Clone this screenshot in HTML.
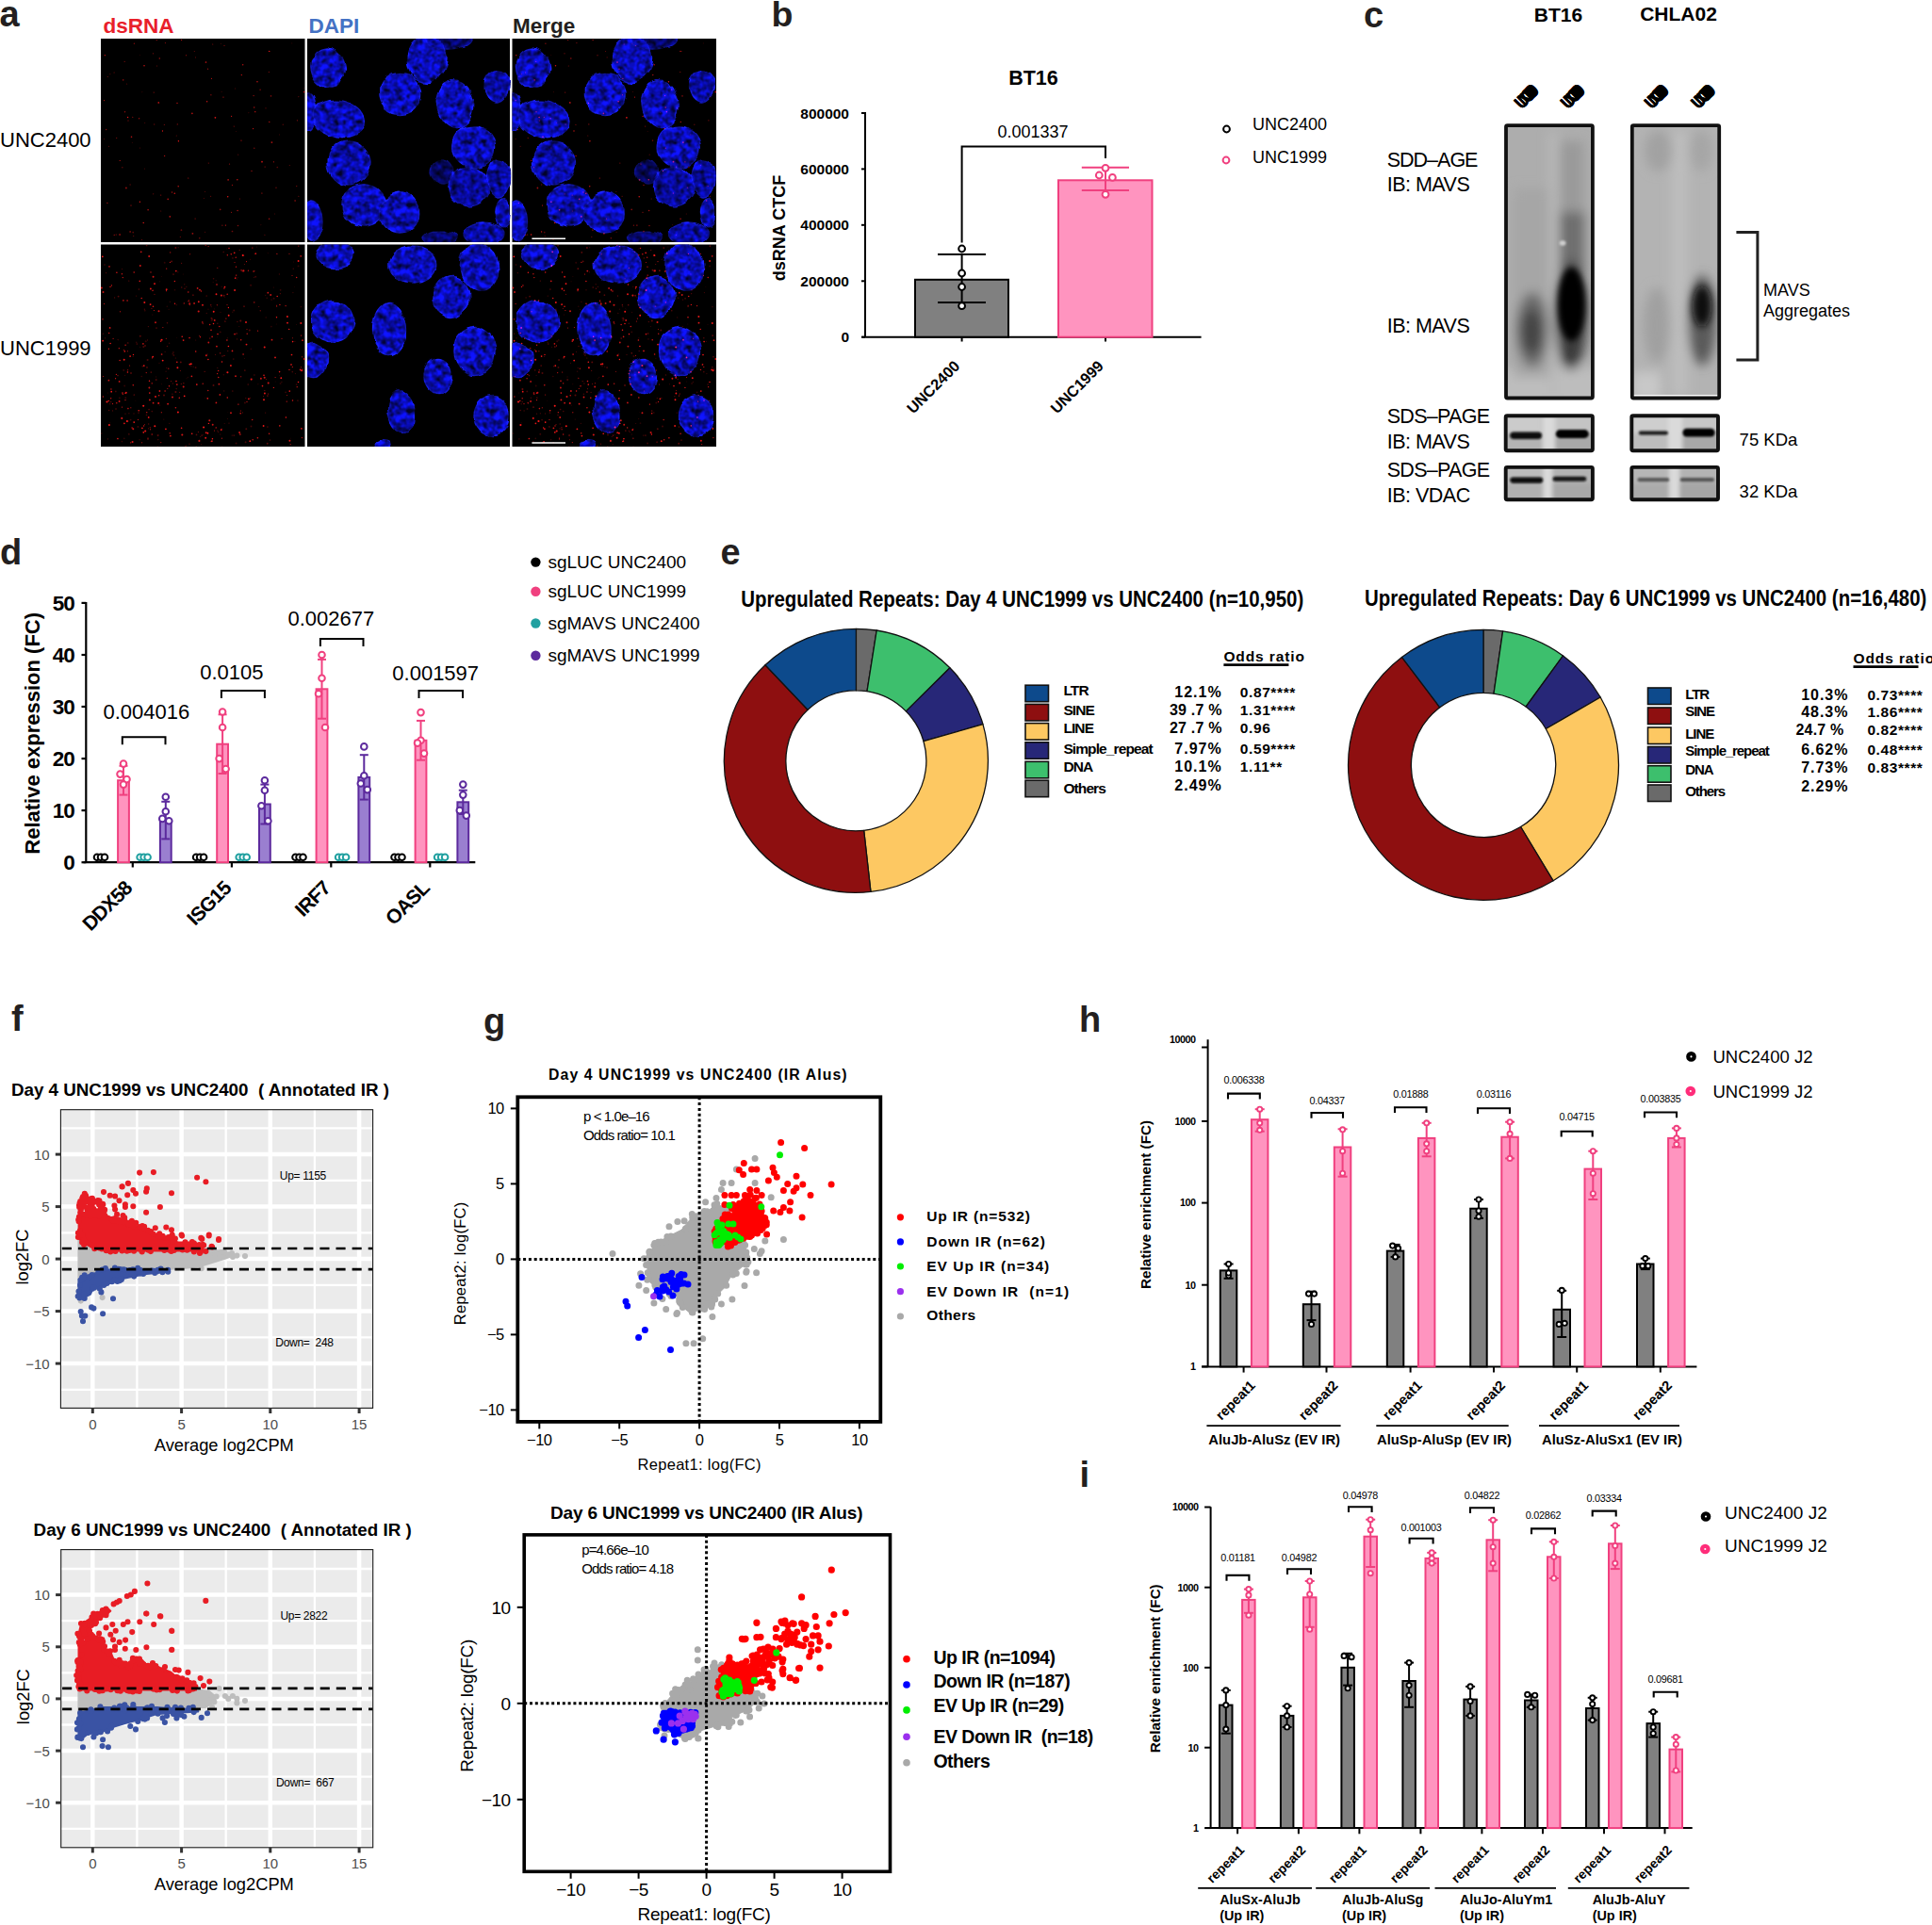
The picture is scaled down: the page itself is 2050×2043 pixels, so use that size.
<!DOCTYPE html><html><head><meta charset="utf-8"><title>Figure</title><style>html,body{margin:0;padding:0;background:#fff;width:2050px;height:2043px;overflow:hidden}svg{display:block}</style></head><body><svg width="2050" height="2043" viewBox="0 0 2050 2043" font-family="'Liberation Sans', Arial, sans-serif"><defs><radialGradient id="nucg" cx="0.5" cy="0.5" r="0.5"><stop offset="0" stop-color="#1c2af0"/><stop offset="0.8" stop-color="#1722d8"/><stop offset="1" stop-color="#1420c0"/></radialGradient><filter id="mottle" x="-5%" y="-5%" width="110%" height="110%" color-interpolation-filters="sRGB"><feTurbulence type="fractalNoise" baseFrequency="0.045" numOctaves="2" seed="7" result="warp"/><feDisplacementMap in="SourceGraphic" in2="warp" scale="9" xChannelSelector="R" yChannelSelector="G" result="shape"/><feTurbulence type="fractalNoise" baseFrequency="0.15" numOctaves="2" seed="4" result="nz"/><feColorMatrix in="nz" type="matrix" values="0.83 0.83 0.83 0 -0.75  0.83 0.83 0.83 0 -0.75  0.83 0.83 0.83 0 -0.75  0 0 0 0 1" result="g"/><feComposite in="shape" in2="g" operator="arithmetic" k1="1.15" k2="0.2" k3="0" k4="0"/><feGaussianBlur stdDeviation="0.7"/></filter><clipPath id="clipA0"><rect x="0" y="0" width="216.5" height="216"/></clipPath><clipPath id="clipA1"><rect x="0" y="0" width="216.5" height="214.5"/></clipPath><filter id="bl1" x="-60%" y="-60%" width="220%" height="220%"><feGaussianBlur stdDeviation="1"/></filter><filter id="bl2" x="-60%" y="-60%" width="220%" height="220%"><feGaussianBlur stdDeviation="2"/></filter><filter id="bl3" x="-60%" y="-60%" width="220%" height="220%"><feGaussianBlur stdDeviation="3"/></filter><filter id="bl4" x="-60%" y="-60%" width="220%" height="220%"><feGaussianBlur stdDeviation="4"/></filter><filter id="bl6" x="-60%" y="-60%" width="220%" height="220%"><feGaussianBlur stdDeviation="6"/></filter><filter id="bl8" x="-60%" y="-60%" width="220%" height="220%"><feGaussianBlur stdDeviation="8"/></filter><filter id="bl07" x="-60%" y="-60%" width="220%" height="220%"><feGaussianBlur stdDeviation="0.7"/></filter><clipPath id="clipB1"><rect x="1598" y="133" width="92" height="289"/></clipPath><clipPath id="clipB2"><rect x="1731.5" y="133" width="93" height="289"/></clipPath><clipPath id="clipM1"><rect x="1597.5" y="441" width="92.5" height="37.5"/></clipPath><clipPath id="clipM2"><rect x="1731" y="441" width="92" height="37.5"/></clipPath><clipPath id="clipV1"><rect x="1597.5" y="495.5" width="92.5" height="35"/></clipPath><clipPath id="clipV2"><rect x="1731" y="495.5" width="92" height="35"/></clipPath></defs><rect width="2050" height="2043" fill="#fff"/><text x="-0.5" y="28.0" font-size="38.0" font-weight="bold" fill="#231f20">a</text><text x="109.5" y="35.3" font-size="22.5" font-weight="bold" fill="#e8202a">dsRNA</text><text x="327.5" y="35.3" font-size="22.5" font-weight="bold" fill="#4472c4">DAPI</text><text x="544.0" y="35.3" font-size="22.5" font-weight="bold" fill="#231f20">Merge</text><text x="0.0" y="155.7" font-size="22.0" fill="#000">UNC2400</text><text x="0.0" y="377.0" font-size="22.0" fill="#000">UNC1999</text><rect x="107.0" y="41.0" width="216.5" height="216.0" fill="#000"/><g transform="translate(107.0,41.0)" clip-path="url(#clipA0)"><g fill="#ff1a1a"><circle cx="110.6" cy="205.3" r="0.54" fill-opacity="0.40"/><circle cx="31.1" cy="204.9" r="0.68" fill-opacity="0.85"/><circle cx="67.4" cy="91.4" r="0.68" fill-opacity="0.39"/><circle cx="178.8" cy="88.4" r="0.65" fill-opacity="0.75"/><circle cx="118.7" cy="6.0" r="0.61" fill-opacity="0.49"/><circle cx="162.8" cy="116.2" r="0.69" fill-opacity="0.52"/><circle cx="71.2" cy="170.3" r="0.88" fill-opacity="0.63"/><circle cx="65.5" cy="98.0" r="0.63" fill-opacity="0.86"/><circle cx="29.0" cy="87.1" r="0.82" fill-opacity="0.30"/><circle cx="43.9" cy="56.7" r="0.43" fill-opacity="0.40"/><circle cx="162.1" cy="60.6" r="0.59" fill-opacity="0.73"/><circle cx="104.8" cy="211.8" r="0.68" fill-opacity="0.54"/><circle cx="207.7" cy="156.6" r="0.71" fill-opacity="0.47"/><circle cx="116.9" cy="59.8" r="0.53" fill-opacity="0.88"/><circle cx="34.7" cy="209.5" r="0.60" fill-opacity="0.46"/><circle cx="111.5" cy="25.0" r="0.87" fill-opacity="0.73"/><circle cx="134.7" cy="167.8" r="0.72" fill-opacity="0.88"/><circle cx="132.4" cy="198.1" r="0.69" fill-opacity="0.76"/><circle cx="8.6" cy="114.2" r="0.43" fill-opacity="0.73"/><circle cx="99.2" cy="13.5" r="0.43" fill-opacity="0.73"/><circle cx="138.5" cy="184.2" r="0.51" fill-opacity="0.78"/><circle cx="128.1" cy="56.2" r="0.47" fill-opacity="0.46"/><circle cx="181.4" cy="110.1" r="0.89" fill-opacity="0.68"/><circle cx="110.4" cy="162.7" r="0.40" fill-opacity="0.78"/><circle cx="32.0" cy="177.0" r="0.58" fill-opacity="0.83"/><circle cx="147.6" cy="170.0" r="0.43" fill-opacity="0.84"/><circle cx="41.4" cy="173.3" r="0.72" fill-opacity="0.84"/><circle cx="41.3" cy="17.6" r="0.42" fill-opacity="0.36"/><circle cx="184.7" cy="186.0" r="0.43" fill-opacity="0.53"/><circle cx="189.3" cy="101.9" r="0.44" fill-opacity="0.57"/><circle cx="59.2" cy="1.5" r="0.54" fill-opacity="0.84"/><circle cx="139.5" cy="155.5" r="0.69" fill-opacity="0.55"/><circle cx="180.5" cy="60.9" r="0.80" fill-opacity="0.46"/><circle cx="46.5" cy="138.1" r="0.53" fill-opacity="0.31"/><circle cx="173.9" cy="208.2" r="0.54" fill-opacity="0.47"/><circle cx="32.5" cy="104.2" r="0.81" fill-opacity="0.77"/><circle cx="193.3" cy="91.3" r="0.77" fill-opacity="0.31"/><circle cx="127.3" cy="5.3" r="0.46" fill-opacity="0.40"/><circle cx="145.5" cy="198.5" r="0.80" fill-opacity="0.49"/><circle cx="178.6" cy="191.3" r="0.82" fill-opacity="0.62"/><circle cx="142.6" cy="53.0" r="0.49" fill-opacity="0.52"/><circle cx="166.0" cy="45.7" r="0.71" fill-opacity="0.83"/><circle cx="179.6" cy="13.5" r="0.50" fill-opacity="0.42"/><circle cx="178.3" cy="35.5" r="0.52" fill-opacity="0.64"/><circle cx="81.0" cy="68.4" r="0.65" fill-opacity="0.77"/><circle cx="149.3" cy="38.6" r="0.66" fill-opacity="0.86"/><circle cx="85.6" cy="1.3" r="0.64" fill-opacity="0.82"/><circle cx="56.7" cy="91.0" r="0.67" fill-opacity="0.38"/><circle cx="22.9" cy="136.8" r="0.51" fill-opacity="0.78"/><circle cx="82.2" cy="156.7" r="0.79" fill-opacity="0.71"/><circle cx="141.2" cy="93.1" r="0.54" fill-opacity="0.55"/><circle cx="187.3" cy="136.5" r="0.86" fill-opacity="0.32"/><circle cx="175.0" cy="73.8" r="0.66" fill-opacity="0.40"/><circle cx="117.4" cy="42.4" r="0.55" fill-opacity="0.75"/><circle cx="215.2" cy="52.5" r="0.49" fill-opacity="0.35"/><circle cx="55.5" cy="15.8" r="0.64" fill-opacity="0.49"/><circle cx="55.7" cy="164.8" r="0.59" fill-opacity="0.45"/><circle cx="150.7" cy="27.8" r="0.71" fill-opacity="0.75"/><circle cx="81.3" cy="90.9" r="0.65" fill-opacity="0.52"/><circle cx="143.6" cy="98.5" r="0.42" fill-opacity="0.35"/><circle cx="126.7" cy="181.4" r="0.82" fill-opacity="0.52"/><circle cx="156.9" cy="78.8" r="0.43" fill-opacity="0.50"/><circle cx="96.9" cy="79.4" r="0.81" fill-opacity="0.73"/><circle cx="23.7" cy="43.9" r="0.81" fill-opacity="0.49"/><circle cx="61.3" cy="67.9" r="0.86" fill-opacity="0.72"/><circle cx="67.6" cy="124.6" r="0.73" fill-opacity="0.62"/><circle cx="209.9" cy="167.3" r="0.48" fill-opacity="0.83"/><circle cx="170.9" cy="164.0" r="0.62" fill-opacity="0.74"/><circle cx="128.9" cy="198.2" r="0.62" fill-opacity="0.54"/><circle cx="149.0" cy="108.1" r="0.72" fill-opacity="0.59"/><circle cx="16.7" cy="105.5" r="0.59" fill-opacity="0.58"/><circle cx="46.0" cy="28.7" r="0.74" fill-opacity="0.82"/><circle cx="109.3" cy="169.6" r="0.50" fill-opacity="0.38"/><circle cx="63.7" cy="166.1" r="0.58" fill-opacity="0.55"/><circle cx="113.5" cy="32.2" r="0.67" fill-opacity="0.62"/><circle cx="208.4" cy="86.8" r="0.61" fill-opacity="0.56"/><circle cx="63.8" cy="183.0" r="0.46" fill-opacity="0.66"/><circle cx="26.9" cy="158.5" r="0.88" fill-opacity="0.60"/><circle cx="40.6" cy="84.8" r="0.75" fill-opacity="0.55"/><circle cx="50.1" cy="181.7" r="0.82" fill-opacity="0.71"/><circle cx="84.3" cy="210.5" r="0.58" fill-opacity="0.50"/><circle cx="135.1" cy="149.8" r="0.87" fill-opacity="0.66"/><circle cx="112.6" cy="66.7" r="0.81" fill-opacity="0.74"/><circle cx="85.4" cy="203.2" r="0.89" fill-opacity="0.38"/><circle cx="43.5" cy="213.5" r="0.50" fill-opacity="0.50"/><circle cx="163.8" cy="77.7" r="0.64" fill-opacity="0.87"/><circle cx="138.6" cy="82.3" r="0.59" fill-opacity="0.88"/><circle cx="82.4" cy="108.8" r="0.71" fill-opacity="0.90"/><circle cx="3.6" cy="106.6" r="0.53" fill-opacity="0.33"/><circle cx="209.9" cy="61.7" r="0.45" fill-opacity="0.80"/><circle cx="161.6" cy="95.6" r="0.64" fill-opacity="0.86"/><circle cx="45.2" cy="195.5" r="0.72" fill-opacity="0.84"/><circle cx="3.6" cy="65.6" r="0.59" fill-opacity="0.73"/><circle cx="215.8" cy="56.6" r="0.89" fill-opacity="0.71"/><circle cx="183.4" cy="130.8" r="0.60" fill-opacity="0.73"/><circle cx="174.1" cy="136.1" r="0.55" fill-opacity="0.64"/><circle cx="78.3" cy="164.3" r="0.81" fill-opacity="0.77"/><circle cx="5.7" cy="96.5" r="0.63" fill-opacity="0.60"/><circle cx="80.3" cy="103.0" r="0.54" fill-opacity="0.44"/><circle cx="27.6" cy="48.1" r="0.54" fill-opacity="0.36"/><circle cx="121.4" cy="83.8" r="0.87" fill-opacity="0.84"/><circle cx="171.0" cy="130.7" r="0.88" fill-opacity="0.75"/><circle cx="186.0" cy="158.2" r="0.72" fill-opacity="0.41"/><circle cx="130.0" cy="62.1" r="0.54" fill-opacity="0.79"/><circle cx="169.1" cy="54.3" r="0.76" fill-opacity="0.48"/><circle cx="16.2" cy="208.0" r="0.51" fill-opacity="0.68"/><circle cx="116.6" cy="167.2" r="0.56" fill-opacity="0.51"/><circle cx="114.3" cy="132.1" r="0.67" fill-opacity="0.43"/><circle cx="7.3" cy="40.3" r="0.60" fill-opacity="0.41"/><circle cx="145.7" cy="123.2" r="0.58" fill-opacity="0.34"/><circle cx="34.2" cy="205.6" r="0.89" fill-opacity="0.34"/><circle cx="33.3" cy="110.2" r="0.49" fill-opacity="0.34"/><circle cx="31.1" cy="155.0" r="0.71" fill-opacity="0.35"/><circle cx="59.7" cy="29.0" r="0.42" fill-opacity="0.80"/><circle cx="9.9" cy="37.8" r="0.45" fill-opacity="0.61"/><circle cx="41.4" cy="116.0" r="0.50" fill-opacity="0.38"/><circle cx="97.4" cy="206.8" r="0.90" fill-opacity="0.61"/><circle cx="206.1" cy="172.1" r="0.76" fill-opacity="0.63"/><circle cx="145.1" cy="182.5" r="0.83" fill-opacity="0.60"/><circle cx="202.8" cy="4.9" r="0.42" fill-opacity="0.42"/><circle cx="25.5" cy="77.8" r="0.74" fill-opacity="0.56"/><circle cx="20.2" cy="129.5" r="0.62" fill-opacity="0.82"/><circle cx="56.2" cy="57.1" r="0.61" fill-opacity="0.53"/><circle cx="62.3" cy="21.1" r="0.75" fill-opacity="0.60"/><circle cx="160.0" cy="140.5" r="0.55" fill-opacity="0.86"/><circle cx="131.0" cy="7.4" r="0.66" fill-opacity="0.44"/><circle cx="92.8" cy="148.0" r="0.53" fill-opacity="0.74"/><circle cx="33.8" cy="83.3" r="0.60" fill-opacity="0.59"/><circle cx="4.3" cy="17.7" r="0.67" fill-opacity="0.77"/><circle cx="46.8" cy="89.6" r="0.48" fill-opacity="0.52"/><circle cx="100.1" cy="191.1" r="0.54" fill-opacity="0.63"/><circle cx="68.4" cy="4.6" r="0.61" fill-opacity="0.52"/><circle cx="178.5" cy="13.4" r="0.64" fill-opacity="0.82"/><circle cx="20.1" cy="208.0" r="0.80" fill-opacity="0.85"/><circle cx="162.7" cy="73.0" r="0.72" fill-opacity="0.68"/><circle cx="28.6" cy="83.5" r="0.68" fill-opacity="0.89"/><circle cx="73.3" cy="188.9" r="0.83" fill-opacity="0.74"/><circle cx="90.5" cy="17.7" r="0.50" fill-opacity="0.80"/><circle cx="200.2" cy="134.4" r="0.45" fill-opacity="0.84"/><circle cx="25.2" cy="24.4" r="0.60" fill-opacity="0.46"/><circle cx="100.6" cy="19.9" r="0.47" fill-opacity="0.89"/><circle cx="136.5" cy="133.1" r="0.68" fill-opacity="0.53"/><circle cx="6.9" cy="174.4" r="0.69" fill-opacity="0.60"/><circle cx="169.9" cy="197.7" r="0.47" fill-opacity="0.41"/><circle cx="144.8" cy="149.7" r="0.76" fill-opacity="0.79"/><circle cx="35.4" cy="5.2" r="0.68" fill-opacity="0.50"/><circle cx="14.2" cy="208.3" r="0.61" fill-opacity="0.71"/><circle cx="139.5" cy="204.5" r="0.86" fill-opacity="0.43"/><circle cx="75.5" cy="163.1" r="0.83" fill-opacity="0.51"/><circle cx="14.1" cy="35.9" r="0.51" fill-opacity="0.53"/></g></g><rect x="326.0" y="41.0" width="215.0" height="216.0" fill="#000"/><g transform="translate(326.0,41.0)" clip-path="url(#clipA0)"><g filter="url(#mottle)"><ellipse cx="22.0" cy="30.6" rx="17.0" ry="20.5" transform="rotate(-10 22.0 30.6)" fill="#0c10e6" stroke="#1a22ff" stroke-width="1.4" opacity="1.00"/><ellipse cx="127.0" cy="21.5" rx="21.0" ry="24.0" transform="rotate(0 127.0 21.5)" fill="#0c10e6" stroke="#1a22ff" stroke-width="1.4" opacity="1.00"/><ellipse cx="150.0" cy="2.0" rx="25.0" ry="10.0" transform="rotate(0 150.0 2.0)" fill="#0c10e6" stroke="#1a22ff" stroke-width="1.4" opacity="0.60"/><ellipse cx="98.7" cy="58.0" rx="22.0" ry="21.5" transform="rotate(0 98.7 58.0)" fill="#0c10e6" stroke="#1a22ff" stroke-width="1.4" opacity="1.00"/><ellipse cx="157.0" cy="69.6" rx="19.5" ry="26.0" transform="rotate(-10 157.0 69.6)" fill="#0c10e6" stroke="#1a22ff" stroke-width="1.4" opacity="1.00"/><ellipse cx="201.0" cy="50.0" rx="13.0" ry="17.0" transform="rotate(0 201.0 50.0)" fill="#0c10e6" stroke="#1a22ff" stroke-width="1.4" opacity="0.90"/><ellipse cx="2.6" cy="77.0" rx="8.0" ry="20.0" transform="rotate(0 2.6 77.0)" fill="#0c10e6" stroke="#1a22ff" stroke-width="1.4" opacity="1.00"/><ellipse cx="33.8" cy="85.0" rx="27.0" ry="19.0" transform="rotate(15 33.8 85.0)" fill="#0c10e6" stroke="#1a22ff" stroke-width="1.4" opacity="1.00"/><ellipse cx="44.0" cy="132.0" rx="23.0" ry="23.0" transform="rotate(0 44.0 132.0)" fill="#0c10e6" stroke="#1a22ff" stroke-width="1.4" opacity="0.95"/><ellipse cx="176.6" cy="115.0" rx="23.0" ry="22.0" transform="rotate(0 176.6 115.0)" fill="#0c10e6" stroke="#1a22ff" stroke-width="1.4" opacity="1.00"/><ellipse cx="171.0" cy="157.0" rx="22.0" ry="21.0" transform="rotate(0 171.0 157.0)" fill="#0c10e6" stroke="#1a22ff" stroke-width="1.4" opacity="0.85"/><ellipse cx="202.6" cy="148.0" rx="12.0" ry="20.0" transform="rotate(0 202.6 148.0)" fill="#0c10e6" stroke="#1a22ff" stroke-width="1.4" opacity="0.90"/><ellipse cx="60.0" cy="177.0" rx="23.0" ry="22.0" transform="rotate(0 60.0 177.0)" fill="#0c10e6" stroke="#1a22ff" stroke-width="1.4" opacity="1.00"/><ellipse cx="98.7" cy="185.0" rx="21.0" ry="22.0" transform="rotate(0 98.7 185.0)" fill="#0c10e6" stroke="#1a22ff" stroke-width="1.4" opacity="1.00"/><ellipse cx="5.0" cy="193.0" rx="12.0" ry="22.0" transform="rotate(0 5.0 193.0)" fill="#0c10e6" stroke="#1a22ff" stroke-width="1.4" opacity="1.00"/><ellipse cx="208.0" cy="185.0" rx="8.0" ry="16.0" transform="rotate(0 208.0 185.0)" fill="#0c10e6" stroke="#1a22ff" stroke-width="1.4" opacity="0.90"/><ellipse cx="187.0" cy="208.0" rx="21.0" ry="12.0" transform="rotate(0 187.0 208.0)" fill="#0c10e6" stroke="#1a22ff" stroke-width="1.4" opacity="0.90"/><ellipse cx="140.0" cy="212.0" rx="18.0" ry="8.0" transform="rotate(0 140.0 212.0)" fill="#0c10e6" stroke="#1a22ff" stroke-width="1.4" opacity="0.60"/><ellipse cx="143.0" cy="141.0" rx="12.0" ry="12.0" transform="rotate(0 143.0 141.0)" fill="#0c10e6" stroke="#1a22ff" stroke-width="1.4" opacity="0.50"/></g></g><rect x="543.5" y="41.0" width="216.5" height="216.0" fill="#000"/><g transform="translate(543.5,41.0)" clip-path="url(#clipA0)"><g filter="url(#mottle)"><ellipse cx="22.0" cy="30.6" rx="17.0" ry="20.5" transform="rotate(-10 22.0 30.6)" fill="#0c10e6" stroke="#1a22ff" stroke-width="1.4" opacity="1.00"/><ellipse cx="127.0" cy="21.5" rx="21.0" ry="24.0" transform="rotate(0 127.0 21.5)" fill="#0c10e6" stroke="#1a22ff" stroke-width="1.4" opacity="1.00"/><ellipse cx="150.0" cy="2.0" rx="25.0" ry="10.0" transform="rotate(0 150.0 2.0)" fill="#0c10e6" stroke="#1a22ff" stroke-width="1.4" opacity="0.60"/><ellipse cx="98.7" cy="58.0" rx="22.0" ry="21.5" transform="rotate(0 98.7 58.0)" fill="#0c10e6" stroke="#1a22ff" stroke-width="1.4" opacity="1.00"/><ellipse cx="157.0" cy="69.6" rx="19.5" ry="26.0" transform="rotate(-10 157.0 69.6)" fill="#0c10e6" stroke="#1a22ff" stroke-width="1.4" opacity="1.00"/><ellipse cx="201.0" cy="50.0" rx="13.0" ry="17.0" transform="rotate(0 201.0 50.0)" fill="#0c10e6" stroke="#1a22ff" stroke-width="1.4" opacity="0.90"/><ellipse cx="2.6" cy="77.0" rx="8.0" ry="20.0" transform="rotate(0 2.6 77.0)" fill="#0c10e6" stroke="#1a22ff" stroke-width="1.4" opacity="1.00"/><ellipse cx="33.8" cy="85.0" rx="27.0" ry="19.0" transform="rotate(15 33.8 85.0)" fill="#0c10e6" stroke="#1a22ff" stroke-width="1.4" opacity="1.00"/><ellipse cx="44.0" cy="132.0" rx="23.0" ry="23.0" transform="rotate(0 44.0 132.0)" fill="#0c10e6" stroke="#1a22ff" stroke-width="1.4" opacity="0.95"/><ellipse cx="176.6" cy="115.0" rx="23.0" ry="22.0" transform="rotate(0 176.6 115.0)" fill="#0c10e6" stroke="#1a22ff" stroke-width="1.4" opacity="1.00"/><ellipse cx="171.0" cy="157.0" rx="22.0" ry="21.0" transform="rotate(0 171.0 157.0)" fill="#0c10e6" stroke="#1a22ff" stroke-width="1.4" opacity="0.85"/><ellipse cx="202.6" cy="148.0" rx="12.0" ry="20.0" transform="rotate(0 202.6 148.0)" fill="#0c10e6" stroke="#1a22ff" stroke-width="1.4" opacity="0.90"/><ellipse cx="60.0" cy="177.0" rx="23.0" ry="22.0" transform="rotate(0 60.0 177.0)" fill="#0c10e6" stroke="#1a22ff" stroke-width="1.4" opacity="1.00"/><ellipse cx="98.7" cy="185.0" rx="21.0" ry="22.0" transform="rotate(0 98.7 185.0)" fill="#0c10e6" stroke="#1a22ff" stroke-width="1.4" opacity="1.00"/><ellipse cx="5.0" cy="193.0" rx="12.0" ry="22.0" transform="rotate(0 5.0 193.0)" fill="#0c10e6" stroke="#1a22ff" stroke-width="1.4" opacity="1.00"/><ellipse cx="208.0" cy="185.0" rx="8.0" ry="16.0" transform="rotate(0 208.0 185.0)" fill="#0c10e6" stroke="#1a22ff" stroke-width="1.4" opacity="0.90"/><ellipse cx="187.0" cy="208.0" rx="21.0" ry="12.0" transform="rotate(0 187.0 208.0)" fill="#0c10e6" stroke="#1a22ff" stroke-width="1.4" opacity="0.90"/><ellipse cx="140.0" cy="212.0" rx="18.0" ry="8.0" transform="rotate(0 140.0 212.0)" fill="#0c10e6" stroke="#1a22ff" stroke-width="1.4" opacity="0.60"/><ellipse cx="143.0" cy="141.0" rx="12.0" ry="12.0" transform="rotate(0 143.0 141.0)" fill="#0c10e6" stroke="#1a22ff" stroke-width="1.4" opacity="0.50"/></g><g fill="#ff1a1a" style="mix-blend-mode:screen"><circle cx="110.6" cy="205.3" r="0.54" fill-opacity="0.40"/><circle cx="31.1" cy="204.9" r="0.68" fill-opacity="0.85"/><circle cx="67.4" cy="91.4" r="0.68" fill-opacity="0.39"/><circle cx="178.8" cy="88.4" r="0.65" fill-opacity="0.75"/><circle cx="118.7" cy="6.0" r="0.61" fill-opacity="0.49"/><circle cx="162.8" cy="116.2" r="0.69" fill-opacity="0.52"/><circle cx="71.2" cy="170.3" r="0.88" fill-opacity="0.63"/><circle cx="65.5" cy="98.0" r="0.63" fill-opacity="0.86"/><circle cx="29.0" cy="87.1" r="0.82" fill-opacity="0.30"/><circle cx="43.9" cy="56.7" r="0.43" fill-opacity="0.40"/><circle cx="162.1" cy="60.6" r="0.59" fill-opacity="0.73"/><circle cx="104.8" cy="211.8" r="0.68" fill-opacity="0.54"/><circle cx="207.7" cy="156.6" r="0.71" fill-opacity="0.47"/><circle cx="116.9" cy="59.8" r="0.53" fill-opacity="0.88"/><circle cx="34.7" cy="209.5" r="0.60" fill-opacity="0.46"/><circle cx="111.5" cy="25.0" r="0.87" fill-opacity="0.73"/><circle cx="134.7" cy="167.8" r="0.72" fill-opacity="0.88"/><circle cx="132.4" cy="198.1" r="0.69" fill-opacity="0.76"/><circle cx="8.6" cy="114.2" r="0.43" fill-opacity="0.73"/><circle cx="99.2" cy="13.5" r="0.43" fill-opacity="0.73"/><circle cx="138.5" cy="184.2" r="0.51" fill-opacity="0.78"/><circle cx="128.1" cy="56.2" r="0.47" fill-opacity="0.46"/><circle cx="181.4" cy="110.1" r="0.89" fill-opacity="0.68"/><circle cx="110.4" cy="162.7" r="0.40" fill-opacity="0.78"/><circle cx="32.0" cy="177.0" r="0.58" fill-opacity="0.83"/><circle cx="147.6" cy="170.0" r="0.43" fill-opacity="0.84"/><circle cx="41.4" cy="173.3" r="0.72" fill-opacity="0.84"/><circle cx="41.3" cy="17.6" r="0.42" fill-opacity="0.36"/><circle cx="184.7" cy="186.0" r="0.43" fill-opacity="0.53"/><circle cx="189.3" cy="101.9" r="0.44" fill-opacity="0.57"/><circle cx="59.2" cy="1.5" r="0.54" fill-opacity="0.84"/><circle cx="139.5" cy="155.5" r="0.69" fill-opacity="0.55"/><circle cx="180.5" cy="60.9" r="0.80" fill-opacity="0.46"/><circle cx="46.5" cy="138.1" r="0.53" fill-opacity="0.31"/><circle cx="173.9" cy="208.2" r="0.54" fill-opacity="0.47"/><circle cx="32.5" cy="104.2" r="0.81" fill-opacity="0.77"/><circle cx="193.3" cy="91.3" r="0.77" fill-opacity="0.31"/><circle cx="127.3" cy="5.3" r="0.46" fill-opacity="0.40"/><circle cx="145.5" cy="198.5" r="0.80" fill-opacity="0.49"/><circle cx="178.6" cy="191.3" r="0.82" fill-opacity="0.62"/><circle cx="142.6" cy="53.0" r="0.49" fill-opacity="0.52"/><circle cx="166.0" cy="45.7" r="0.71" fill-opacity="0.83"/><circle cx="179.6" cy="13.5" r="0.50" fill-opacity="0.42"/><circle cx="178.3" cy="35.5" r="0.52" fill-opacity="0.64"/><circle cx="81.0" cy="68.4" r="0.65" fill-opacity="0.77"/><circle cx="149.3" cy="38.6" r="0.66" fill-opacity="0.86"/><circle cx="85.6" cy="1.3" r="0.64" fill-opacity="0.82"/><circle cx="56.7" cy="91.0" r="0.67" fill-opacity="0.38"/><circle cx="22.9" cy="136.8" r="0.51" fill-opacity="0.78"/><circle cx="82.2" cy="156.7" r="0.79" fill-opacity="0.71"/><circle cx="141.2" cy="93.1" r="0.54" fill-opacity="0.55"/><circle cx="187.3" cy="136.5" r="0.86" fill-opacity="0.32"/><circle cx="175.0" cy="73.8" r="0.66" fill-opacity="0.40"/><circle cx="117.4" cy="42.4" r="0.55" fill-opacity="0.75"/><circle cx="215.2" cy="52.5" r="0.49" fill-opacity="0.35"/><circle cx="55.5" cy="15.8" r="0.64" fill-opacity="0.49"/><circle cx="55.7" cy="164.8" r="0.59" fill-opacity="0.45"/><circle cx="150.7" cy="27.8" r="0.71" fill-opacity="0.75"/><circle cx="81.3" cy="90.9" r="0.65" fill-opacity="0.52"/><circle cx="143.6" cy="98.5" r="0.42" fill-opacity="0.35"/><circle cx="126.7" cy="181.4" r="0.82" fill-opacity="0.52"/><circle cx="156.9" cy="78.8" r="0.43" fill-opacity="0.50"/><circle cx="96.9" cy="79.4" r="0.81" fill-opacity="0.73"/><circle cx="23.7" cy="43.9" r="0.81" fill-opacity="0.49"/><circle cx="61.3" cy="67.9" r="0.86" fill-opacity="0.72"/><circle cx="67.6" cy="124.6" r="0.73" fill-opacity="0.62"/><circle cx="209.9" cy="167.3" r="0.48" fill-opacity="0.83"/><circle cx="170.9" cy="164.0" r="0.62" fill-opacity="0.74"/><circle cx="128.9" cy="198.2" r="0.62" fill-opacity="0.54"/><circle cx="149.0" cy="108.1" r="0.72" fill-opacity="0.59"/><circle cx="16.7" cy="105.5" r="0.59" fill-opacity="0.58"/><circle cx="46.0" cy="28.7" r="0.74" fill-opacity="0.82"/><circle cx="109.3" cy="169.6" r="0.50" fill-opacity="0.38"/><circle cx="63.7" cy="166.1" r="0.58" fill-opacity="0.55"/><circle cx="113.5" cy="32.2" r="0.67" fill-opacity="0.62"/><circle cx="208.4" cy="86.8" r="0.61" fill-opacity="0.56"/><circle cx="63.8" cy="183.0" r="0.46" fill-opacity="0.66"/><circle cx="26.9" cy="158.5" r="0.88" fill-opacity="0.60"/><circle cx="40.6" cy="84.8" r="0.75" fill-opacity="0.55"/><circle cx="50.1" cy="181.7" r="0.82" fill-opacity="0.71"/><circle cx="84.3" cy="210.5" r="0.58" fill-opacity="0.50"/><circle cx="135.1" cy="149.8" r="0.87" fill-opacity="0.66"/><circle cx="112.6" cy="66.7" r="0.81" fill-opacity="0.74"/><circle cx="85.4" cy="203.2" r="0.89" fill-opacity="0.38"/><circle cx="43.5" cy="213.5" r="0.50" fill-opacity="0.50"/><circle cx="163.8" cy="77.7" r="0.64" fill-opacity="0.87"/><circle cx="138.6" cy="82.3" r="0.59" fill-opacity="0.88"/><circle cx="82.4" cy="108.8" r="0.71" fill-opacity="0.90"/><circle cx="3.6" cy="106.6" r="0.53" fill-opacity="0.33"/><circle cx="209.9" cy="61.7" r="0.45" fill-opacity="0.80"/><circle cx="161.6" cy="95.6" r="0.64" fill-opacity="0.86"/><circle cx="45.2" cy="195.5" r="0.72" fill-opacity="0.84"/><circle cx="3.6" cy="65.6" r="0.59" fill-opacity="0.73"/><circle cx="215.8" cy="56.6" r="0.89" fill-opacity="0.71"/><circle cx="183.4" cy="130.8" r="0.60" fill-opacity="0.73"/><circle cx="174.1" cy="136.1" r="0.55" fill-opacity="0.64"/><circle cx="78.3" cy="164.3" r="0.81" fill-opacity="0.77"/><circle cx="5.7" cy="96.5" r="0.63" fill-opacity="0.60"/><circle cx="80.3" cy="103.0" r="0.54" fill-opacity="0.44"/><circle cx="27.6" cy="48.1" r="0.54" fill-opacity="0.36"/><circle cx="121.4" cy="83.8" r="0.87" fill-opacity="0.84"/><circle cx="171.0" cy="130.7" r="0.88" fill-opacity="0.75"/><circle cx="186.0" cy="158.2" r="0.72" fill-opacity="0.41"/><circle cx="130.0" cy="62.1" r="0.54" fill-opacity="0.79"/><circle cx="169.1" cy="54.3" r="0.76" fill-opacity="0.48"/><circle cx="16.2" cy="208.0" r="0.51" fill-opacity="0.68"/><circle cx="116.6" cy="167.2" r="0.56" fill-opacity="0.51"/><circle cx="114.3" cy="132.1" r="0.67" fill-opacity="0.43"/><circle cx="7.3" cy="40.3" r="0.60" fill-opacity="0.41"/><circle cx="145.7" cy="123.2" r="0.58" fill-opacity="0.34"/><circle cx="34.2" cy="205.6" r="0.89" fill-opacity="0.34"/><circle cx="33.3" cy="110.2" r="0.49" fill-opacity="0.34"/><circle cx="31.1" cy="155.0" r="0.71" fill-opacity="0.35"/><circle cx="59.7" cy="29.0" r="0.42" fill-opacity="0.80"/><circle cx="9.9" cy="37.8" r="0.45" fill-opacity="0.61"/><circle cx="41.4" cy="116.0" r="0.50" fill-opacity="0.38"/><circle cx="97.4" cy="206.8" r="0.90" fill-opacity="0.61"/><circle cx="206.1" cy="172.1" r="0.76" fill-opacity="0.63"/><circle cx="145.1" cy="182.5" r="0.83" fill-opacity="0.60"/><circle cx="202.8" cy="4.9" r="0.42" fill-opacity="0.42"/><circle cx="25.5" cy="77.8" r="0.74" fill-opacity="0.56"/><circle cx="20.2" cy="129.5" r="0.62" fill-opacity="0.82"/><circle cx="56.2" cy="57.1" r="0.61" fill-opacity="0.53"/><circle cx="62.3" cy="21.1" r="0.75" fill-opacity="0.60"/><circle cx="160.0" cy="140.5" r="0.55" fill-opacity="0.86"/><circle cx="131.0" cy="7.4" r="0.66" fill-opacity="0.44"/><circle cx="92.8" cy="148.0" r="0.53" fill-opacity="0.74"/><circle cx="33.8" cy="83.3" r="0.60" fill-opacity="0.59"/><circle cx="4.3" cy="17.7" r="0.67" fill-opacity="0.77"/><circle cx="46.8" cy="89.6" r="0.48" fill-opacity="0.52"/><circle cx="100.1" cy="191.1" r="0.54" fill-opacity="0.63"/><circle cx="68.4" cy="4.6" r="0.61" fill-opacity="0.52"/><circle cx="178.5" cy="13.4" r="0.64" fill-opacity="0.82"/><circle cx="20.1" cy="208.0" r="0.80" fill-opacity="0.85"/><circle cx="162.7" cy="73.0" r="0.72" fill-opacity="0.68"/><circle cx="28.6" cy="83.5" r="0.68" fill-opacity="0.89"/><circle cx="73.3" cy="188.9" r="0.83" fill-opacity="0.74"/><circle cx="90.5" cy="17.7" r="0.50" fill-opacity="0.80"/><circle cx="200.2" cy="134.4" r="0.45" fill-opacity="0.84"/><circle cx="25.2" cy="24.4" r="0.60" fill-opacity="0.46"/><circle cx="100.6" cy="19.9" r="0.47" fill-opacity="0.89"/><circle cx="136.5" cy="133.1" r="0.68" fill-opacity="0.53"/><circle cx="6.9" cy="174.4" r="0.69" fill-opacity="0.60"/><circle cx="169.9" cy="197.7" r="0.47" fill-opacity="0.41"/><circle cx="144.8" cy="149.7" r="0.76" fill-opacity="0.79"/><circle cx="35.4" cy="5.2" r="0.68" fill-opacity="0.50"/><circle cx="14.2" cy="208.3" r="0.61" fill-opacity="0.71"/><circle cx="139.5" cy="204.5" r="0.86" fill-opacity="0.43"/><circle cx="75.5" cy="163.1" r="0.83" fill-opacity="0.51"/><circle cx="14.1" cy="35.9" r="0.51" fill-opacity="0.53"/></g></g><rect x="107.0" y="259.5" width="216.5" height="214.5" fill="#000"/><g transform="translate(107.0,259.5)" clip-path="url(#clipA1)"><g fill="#ff1a1a"><circle cx="166.4" cy="205.3" r="0.81" fill-opacity="0.86"/><circle cx="75.1" cy="17.9" r="0.91" fill-opacity="0.38"/><circle cx="202.0" cy="127.4" r="0.87" fill-opacity="0.79"/><circle cx="0.8" cy="45.9" r="1.02" fill-opacity="0.85"/><circle cx="164.2" cy="34.2" r="0.99" fill-opacity="0.24"/><circle cx="47.0" cy="107.4" r="0.56" fill-opacity="0.78"/><circle cx="25.3" cy="113.3" r="0.86" fill-opacity="0.82"/><circle cx="172.6" cy="192.5" r="0.92" fill-opacity="0.92"/><circle cx="50.7" cy="183.5" r="0.89" fill-opacity="0.86"/><circle cx="52.6" cy="63.6" r="0.95" fill-opacity="0.94"/><circle cx="62.4" cy="155.5" r="0.88" fill-opacity="0.81"/><circle cx="28.7" cy="104.4" r="0.94" fill-opacity="0.25"/><circle cx="77.4" cy="117.5" r="0.86" fill-opacity="0.30"/><circle cx="130.3" cy="138.3" r="0.74" fill-opacity="0.20"/><circle cx="93.0" cy="60.2" r="0.65" fill-opacity="0.78"/><circle cx="31.6" cy="186.1" r="0.97" fill-opacity="0.25"/><circle cx="93.4" cy="59.0" r="0.49" fill-opacity="0.87"/><circle cx="68.1" cy="155.4" r="0.74" fill-opacity="0.85"/><circle cx="72.1" cy="68.8" r="0.55" fill-opacity="0.27"/><circle cx="186.3" cy="84.4" r="0.50" fill-opacity="0.18"/><circle cx="153.8" cy="163.0" r="0.61" fill-opacity="0.36"/><circle cx="16.9" cy="29.8" r="0.72" fill-opacity="0.94"/><circle cx="40.0" cy="178.6" r="0.97" fill-opacity="0.22"/><circle cx="134.3" cy="162.5" r="0.83" fill-opacity="0.82"/><circle cx="30.6" cy="128.5" r="0.54" fill-opacity="0.83"/><circle cx="58.7" cy="143.6" r="1.04" fill-opacity="0.27"/><circle cx="200.0" cy="9.7" r="0.54" fill-opacity="0.81"/><circle cx="177.3" cy="51.2" r="0.84" fill-opacity="0.81"/><circle cx="173.0" cy="138.8" r="0.80" fill-opacity="0.93"/><circle cx="31.7" cy="210.3" r="0.62" fill-opacity="0.83"/><circle cx="57.3" cy="192.7" r="1.05" fill-opacity="0.90"/><circle cx="41.1" cy="207.3" r="0.75" fill-opacity="0.23"/><circle cx="85.7" cy="45.5" r="0.79" fill-opacity="0.35"/><circle cx="2.1" cy="102.2" r="0.88" fill-opacity="0.94"/><circle cx="201.6" cy="205.6" r="0.46" fill-opacity="0.20"/><circle cx="209.8" cy="1.6" r="0.60" fill-opacity="0.79"/><circle cx="94.1" cy="61.3" r="0.80" fill-opacity="0.29"/><circle cx="23.3" cy="158.8" r="0.63" fill-opacity="0.84"/><circle cx="73.7" cy="8.4" r="0.59" fill-opacity="0.76"/><circle cx="28.9" cy="174.1" r="0.78" fill-opacity="0.76"/><circle cx="130.9" cy="46.5" r="0.65" fill-opacity="0.89"/><circle cx="150.3" cy="28.2" r="0.91" fill-opacity="0.32"/><circle cx="156.9" cy="163.8" r="0.85" fill-opacity="0.93"/><circle cx="9.0" cy="23.4" r="0.83" fill-opacity="0.80"/><circle cx="112.1" cy="54.5" r="0.46" fill-opacity="0.89"/><circle cx="61.7" cy="160.2" r="0.69" fill-opacity="0.87"/><circle cx="80.1" cy="153.3" r="0.46" fill-opacity="0.83"/><circle cx="43.3" cy="140.0" r="0.82" fill-opacity="0.20"/><circle cx="57.4" cy="41.6" r="0.49" fill-opacity="0.29"/><circle cx="79.4" cy="3.5" r="1.01" fill-opacity="0.37"/><circle cx="94.7" cy="10.2" r="0.52" fill-opacity="0.83"/><circle cx="52.9" cy="47.0" r="0.90" fill-opacity="0.93"/><circle cx="101.8" cy="148.6" r="0.88" fill-opacity="0.90"/><circle cx="73.2" cy="200.3" r="0.72" fill-opacity="0.78"/><circle cx="8.4" cy="165.9" r="0.65" fill-opacity="0.81"/><circle cx="64.7" cy="101.2" r="0.90" fill-opacity="1.00"/><circle cx="45.8" cy="128.6" r="0.86" fill-opacity="0.92"/><circle cx="207.5" cy="85.0" r="0.47" fill-opacity="0.23"/><circle cx="162.9" cy="138.6" r="0.74" fill-opacity="0.30"/><circle cx="50.0" cy="206.5" r="0.62" fill-opacity="0.81"/><circle cx="48.8" cy="178.2" r="0.61" fill-opacity="0.92"/><circle cx="79.8" cy="28.1" r="0.90" fill-opacity="0.83"/><circle cx="128.5" cy="124.5" r="0.81" fill-opacity="0.86"/><circle cx="135.7" cy="75.2" r="0.93" fill-opacity="1.00"/><circle cx="98.2" cy="129.8" r="0.73" fill-opacity="0.17"/><circle cx="113.9" cy="122.0" r="0.73" fill-opacity="1.00"/><circle cx="46.4" cy="68.8" r="0.71" fill-opacity="0.31"/><circle cx="163.6" cy="10.1" r="0.76" fill-opacity="0.20"/><circle cx="205.4" cy="44.9" r="0.46" fill-opacity="0.20"/><circle cx="103.3" cy="198.9" r="0.49" fill-opacity="0.84"/><circle cx="54.8" cy="49.1" r="0.53" fill-opacity="0.36"/><circle cx="212.9" cy="195.4" r="0.80" fill-opacity="1.00"/><circle cx="130.6" cy="54.3" r="0.94" fill-opacity="0.40"/><circle cx="186.6" cy="65.4" r="0.64" fill-opacity="0.79"/><circle cx="69.7" cy="131.1" r="0.71" fill-opacity="0.25"/><circle cx="54.5" cy="120.3" r="0.59" fill-opacity="0.97"/><circle cx="78.5" cy="48.3" r="0.81" fill-opacity="0.22"/><circle cx="24.7" cy="122.1" r="0.48" fill-opacity="0.80"/><circle cx="117.1" cy="209.1" r="0.54" fill-opacity="0.87"/><circle cx="154.5" cy="106.1" r="0.94" fill-opacity="0.90"/><circle cx="50.4" cy="87.1" r="0.66" fill-opacity="0.33"/><circle cx="134.4" cy="135.8" r="1.04" fill-opacity="0.91"/><circle cx="85.6" cy="194.7" r="0.82" fill-opacity="0.97"/><circle cx="162.4" cy="34.9" r="0.62" fill-opacity="0.22"/><circle cx="44.9" cy="105.4" r="0.83" fill-opacity="0.81"/><circle cx="104.4" cy="208.4" r="1.03" fill-opacity="0.81"/><circle cx="120.8" cy="68.8" r="0.47" fill-opacity="0.17"/><circle cx="212.3" cy="83.4" r="1.01" fill-opacity="0.89"/><circle cx="191.3" cy="141.7" r="0.91" fill-opacity="0.95"/><circle cx="197.9" cy="76.6" r="1.01" fill-opacity="0.89"/><circle cx="51.4" cy="152.0" r="0.93" fill-opacity="0.76"/><circle cx="173.7" cy="141.2" r="1.04" fill-opacity="0.76"/><circle cx="131.7" cy="55.7" r="0.55" fill-opacity="0.21"/><circle cx="141.7" cy="8.8" r="0.87" fill-opacity="0.86"/><circle cx="148.3" cy="176.4" r="0.50" fill-opacity="0.90"/><circle cx="161.2" cy="207.2" r="0.73" fill-opacity="0.85"/><circle cx="49.6" cy="122.6" r="1.01" fill-opacity="0.30"/><circle cx="117.6" cy="80.7" r="0.98" fill-opacity="0.16"/><circle cx="162.1" cy="28.5" r="0.82" fill-opacity="0.82"/><circle cx="153.6" cy="216.0" r="0.70" fill-opacity="0.33"/><circle cx="49.0" cy="130.4" r="0.96" fill-opacity="0.31"/><circle cx="23.3" cy="35.1" r="0.70" fill-opacity="0.85"/><circle cx="150.4" cy="178.4" r="0.46" fill-opacity="0.94"/><circle cx="50.5" cy="195.3" r="0.58" fill-opacity="0.38"/><circle cx="72.6" cy="104.8" r="0.78" fill-opacity="0.23"/><circle cx="43.2" cy="57.0" r="0.73" fill-opacity="0.87"/><circle cx="45.2" cy="171.2" r="1.03" fill-opacity="0.97"/><circle cx="143.7" cy="32.6" r="0.70" fill-opacity="0.92"/><circle cx="117.0" cy="90.7" r="0.75" fill-opacity="0.95"/><circle cx="143.2" cy="13.7" r="0.62" fill-opacity="0.98"/><circle cx="108.8" cy="202.1" r="0.60" fill-opacity="0.21"/><circle cx="133.8" cy="4.5" r="0.48" fill-opacity="0.30"/><circle cx="104.8" cy="96.8" r="0.54" fill-opacity="0.81"/><circle cx="147.1" cy="199.6" r="1.02" fill-opacity="0.78"/><circle cx="8.4" cy="110.7" r="0.68" fill-opacity="0.84"/><circle cx="123.8" cy="131.0" r="0.58" fill-opacity="0.37"/><circle cx="101.2" cy="214.6" r="0.78" fill-opacity="0.29"/><circle cx="124.8" cy="141.0" r="0.73" fill-opacity="0.88"/><circle cx="88.7" cy="160.8" r="0.87" fill-opacity="0.99"/><circle cx="22.3" cy="184.4" r="1.03" fill-opacity="0.80"/><circle cx="8.0" cy="166.0" r="0.60" fill-opacity="0.87"/><circle cx="18.0" cy="139.1" r="0.79" fill-opacity="0.39"/><circle cx="203.9" cy="51.1" r="0.65" fill-opacity="0.26"/><circle cx="29.8" cy="201.2" r="0.97" fill-opacity="0.23"/><circle cx="69.5" cy="49.2" r="0.58" fill-opacity="0.80"/><circle cx="73.9" cy="203.1" r="0.85" fill-opacity="0.90"/><circle cx="122.2" cy="194.4" r="0.64" fill-opacity="0.99"/><circle cx="138.0" cy="178.7" r="0.96" fill-opacity="0.78"/><circle cx="120.3" cy="67.7" r="0.48" fill-opacity="0.22"/><circle cx="181.5" cy="101.2" r="0.90" fill-opacity="0.81"/><circle cx="35.2" cy="188.6" r="0.85" fill-opacity="1.00"/><circle cx="58.0" cy="82.7" r="0.98" fill-opacity="0.75"/><circle cx="5.7" cy="30.3" r="0.46" fill-opacity="0.75"/><circle cx="94.5" cy="64.3" r="0.66" fill-opacity="0.32"/><circle cx="69.3" cy="99.8" r="0.51" fill-opacity="0.79"/><circle cx="76.0" cy="162.0" r="0.90" fill-opacity="0.87"/><circle cx="190.6" cy="147.5" r="0.99" fill-opacity="0.17"/><circle cx="128.6" cy="214.8" r="0.82" fill-opacity="0.31"/><circle cx="203.9" cy="162.6" r="0.46" fill-opacity="0.16"/><circle cx="207.6" cy="148.5" r="0.86" fill-opacity="0.24"/><circle cx="139.5" cy="112.9" r="0.85" fill-opacity="0.84"/><circle cx="126.4" cy="159.4" r="0.87" fill-opacity="0.84"/><circle cx="119.5" cy="84.1" r="0.77" fill-opacity="0.94"/><circle cx="142.1" cy="48.4" r="1.01" fill-opacity="0.88"/><circle cx="119.1" cy="40.1" r="0.48" fill-opacity="0.31"/><circle cx="169.9" cy="142.3" r="0.93" fill-opacity="0.81"/><circle cx="142.6" cy="35.7" r="0.81" fill-opacity="0.95"/><circle cx="34.3" cy="195.7" r="0.98" fill-opacity="0.82"/><circle cx="200.3" cy="155.6" r="0.85" fill-opacity="0.88"/><circle cx="49.4" cy="101.4" r="0.45" fill-opacity="0.91"/><circle cx="51.2" cy="12.5" r="0.93" fill-opacity="0.87"/><circle cx="140.7" cy="121.5" r="0.84" fill-opacity="0.22"/><circle cx="165.4" cy="2.5" r="0.53" fill-opacity="0.20"/><circle cx="44.2" cy="129.3" r="0.81" fill-opacity="0.32"/><circle cx="75.9" cy="158.7" r="0.78" fill-opacity="0.27"/><circle cx="67.7" cy="19.3" r="0.98" fill-opacity="0.18"/><circle cx="84.8" cy="124.9" r="0.95" fill-opacity="0.36"/><circle cx="6.5" cy="167.0" r="1.03" fill-opacity="0.96"/><circle cx="180.2" cy="53.5" r="0.97" fill-opacity="0.77"/><circle cx="166.5" cy="91.6" r="0.68" fill-opacity="0.82"/><circle cx="31.1" cy="118.6" r="0.85" fill-opacity="0.91"/><circle cx="139.9" cy="155.5" r="0.47" fill-opacity="0.89"/><circle cx="209.6" cy="22.9" r="0.93" fill-opacity="0.20"/><circle cx="97.9" cy="53.7" r="0.84" fill-opacity="0.33"/><circle cx="115.3" cy="186.7" r="1.04" fill-opacity="0.80"/><circle cx="15.6" cy="142.2" r="0.61" fill-opacity="0.76"/><circle cx="110.1" cy="134.7" r="0.48" fill-opacity="0.98"/><circle cx="31.8" cy="173.3" r="0.56" fill-opacity="0.85"/><circle cx="47.7" cy="102.7" r="1.02" fill-opacity="0.21"/><circle cx="51.9" cy="164.9" r="0.92" fill-opacity="0.86"/><circle cx="139.8" cy="71.7" r="0.63" fill-opacity="0.24"/><circle cx="4.0" cy="21.5" r="1.02" fill-opacity="0.15"/><circle cx="28.7" cy="187.6" r="1.04" fill-opacity="0.18"/><circle cx="55.2" cy="119.1" r="0.92" fill-opacity="0.92"/><circle cx="22.4" cy="209.1" r="0.80" fill-opacity="0.24"/><circle cx="53.0" cy="29.4" r="0.60" fill-opacity="0.90"/><circle cx="96.4" cy="139.9" r="0.83" fill-opacity="0.87"/><circle cx="197.2" cy="166.6" r="0.55" fill-opacity="0.95"/><circle cx="131.2" cy="189.9" r="0.51" fill-opacity="0.28"/><circle cx="154.5" cy="18.1" r="0.53" fill-opacity="0.90"/><circle cx="123.6" cy="98.3" r="0.46" fill-opacity="0.21"/><circle cx="15.6" cy="142.3" r="0.56" fill-opacity="0.37"/><circle cx="213.9" cy="132.5" r="0.87" fill-opacity="0.39"/><circle cx="64.6" cy="116.5" r="0.87" fill-opacity="0.77"/><circle cx="95.6" cy="129.0" r="0.95" fill-opacity="0.16"/><circle cx="196.1" cy="65.1" r="0.60" fill-opacity="0.92"/><circle cx="74.6" cy="145.2" r="0.48" fill-opacity="0.92"/><circle cx="69.1" cy="134.7" r="0.78" fill-opacity="0.18"/><circle cx="125.4" cy="148.2" r="0.88" fill-opacity="0.78"/><circle cx="92.8" cy="50.5" r="0.65" fill-opacity="0.92"/><circle cx="48.6" cy="1.0" r="0.86" fill-opacity="0.34"/><circle cx="79.4" cy="156.4" r="1.02" fill-opacity="0.37"/><circle cx="145.6" cy="34.7" r="0.53" fill-opacity="0.21"/><circle cx="126.8" cy="201.5" r="0.78" fill-opacity="0.18"/><circle cx="196.4" cy="183.5" r="0.79" fill-opacity="0.93"/><circle cx="60.9" cy="207.3" r="0.49" fill-opacity="0.81"/><circle cx="24.7" cy="122.2" r="1.01" fill-opacity="0.91"/><circle cx="156.1" cy="148.5" r="0.46" fill-opacity="0.99"/><circle cx="67.0" cy="160.1" r="0.99" fill-opacity="0.34"/><circle cx="113.0" cy="116.4" r="0.67" fill-opacity="0.28"/><circle cx="177.7" cy="147.1" r="0.98" fill-opacity="0.85"/><circle cx="144.4" cy="36.5" r="0.83" fill-opacity="0.18"/><circle cx="27.9" cy="187.6" r="1.01" fill-opacity="1.00"/><circle cx="55.5" cy="65.8" r="0.81" fill-opacity="0.90"/><circle cx="203.0" cy="33.1" r="0.51" fill-opacity="0.81"/><circle cx="130.7" cy="155.4" r="0.67" fill-opacity="0.26"/><circle cx="50.7" cy="190.5" r="0.68" fill-opacity="0.35"/><circle cx="151.1" cy="116.5" r="0.79" fill-opacity="0.82"/><circle cx="85.2" cy="148.1" r="0.48" fill-opacity="0.84"/><circle cx="131.5" cy="45.0" r="0.85" fill-opacity="0.98"/><circle cx="47.2" cy="198.0" r="1.05" fill-opacity="0.86"/><circle cx="9.6" cy="189.3" r="0.66" fill-opacity="0.19"/><circle cx="211.7" cy="132.9" r="0.88" fill-opacity="0.97"/><circle cx="69.7" cy="47.8" r="0.97" fill-opacity="0.84"/><circle cx="12.5" cy="169.1" r="0.63" fill-opacity="0.85"/><circle cx="80.8" cy="148.6" r="0.84" fill-opacity="0.81"/><circle cx="94.0" cy="211.7" r="0.67" fill-opacity="0.37"/><circle cx="32.0" cy="136.5" r="1.00" fill-opacity="0.31"/><circle cx="64.3" cy="178.2" r="0.57" fill-opacity="0.98"/><circle cx="115.7" cy="99.6" r="0.83" fill-opacity="0.36"/><circle cx="80.8" cy="99.0" r="0.46" fill-opacity="0.19"/><circle cx="128.2" cy="44.7" r="0.74" fill-opacity="0.17"/><circle cx="48.2" cy="136.1" r="0.55" fill-opacity="0.88"/><circle cx="155.0" cy="167.0" r="0.60" fill-opacity="0.99"/><circle cx="51.1" cy="175.0" r="0.84" fill-opacity="0.31"/><circle cx="114.1" cy="2.0" r="0.52" fill-opacity="0.85"/><circle cx="175.2" cy="77.4" r="0.64" fill-opacity="0.25"/><circle cx="86.2" cy="97.7" r="0.73" fill-opacity="0.99"/><circle cx="130.1" cy="7.7" r="0.48" fill-opacity="0.92"/><circle cx="106.7" cy="212.2" r="0.57" fill-opacity="0.33"/><circle cx="89.7" cy="214.6" r="0.84" fill-opacity="0.27"/><circle cx="71.1" cy="169.2" r="0.88" fill-opacity="0.87"/><circle cx="38.3" cy="105.6" r="0.80" fill-opacity="0.30"/><circle cx="144.5" cy="100.4" r="0.64" fill-opacity="0.31"/><circle cx="45.5" cy="192.5" r="0.69" fill-opacity="0.80"/><circle cx="35.2" cy="29.6" r="0.75" fill-opacity="0.84"/><circle cx="46.8" cy="70.3" r="0.82" fill-opacity="0.24"/><circle cx="120.7" cy="80.4" r="0.94" fill-opacity="0.86"/><circle cx="123.6" cy="137.1" r="0.69" fill-opacity="0.84"/><circle cx="8.7" cy="176.0" r="0.65" fill-opacity="0.38"/><circle cx="206.4" cy="137.1" r="0.58" fill-opacity="0.28"/><circle cx="214.0" cy="101.7" r="0.89" fill-opacity="0.82"/><circle cx="45.3" cy="108.4" r="1.00" fill-opacity="0.30"/><circle cx="23.0" cy="157.5" r="0.85" fill-opacity="0.78"/><circle cx="171.5" cy="150.1" r="0.85" fill-opacity="0.84"/><circle cx="63.7" cy="102.9" r="0.55" fill-opacity="0.97"/><circle cx="54.2" cy="201.5" r="0.65" fill-opacity="0.82"/><circle cx="83.3" cy="162.7" r="0.78" fill-opacity="0.84"/><circle cx="41.8" cy="22.5" r="0.94" fill-opacity="0.84"/><circle cx="8.4" cy="144.2" r="0.91" fill-opacity="0.76"/><circle cx="203.4" cy="99.3" r="0.50" fill-opacity="0.76"/><circle cx="10.1" cy="104.9" r="0.75" fill-opacity="0.96"/><circle cx="135.4" cy="67.0" r="0.67" fill-opacity="1.00"/><circle cx="149.1" cy="27.2" r="1.01" fill-opacity="0.38"/><circle cx="118.5" cy="205.9" r="0.47" fill-opacity="0.99"/><circle cx="29.9" cy="179.3" r="0.69" fill-opacity="0.24"/><circle cx="158.3" cy="208.7" r="0.92" fill-opacity="0.94"/><circle cx="105.5" cy="98.3" r="0.68" fill-opacity="0.82"/><circle cx="117.8" cy="78.0" r="0.56" fill-opacity="0.37"/><circle cx="35.0" cy="179.4" r="0.46" fill-opacity="0.85"/><circle cx="131.9" cy="81.5" r="0.57" fill-opacity="0.78"/><circle cx="151.6" cy="11.8" r="0.74" fill-opacity="0.36"/><circle cx="124.7" cy="134.0" r="0.63" fill-opacity="0.93"/><circle cx="106.5" cy="49.5" r="0.72" fill-opacity="0.82"/><circle cx="145.9" cy="169.6" r="0.72" fill-opacity="0.90"/><circle cx="8.9" cy="191.6" r="1.04" fill-opacity="0.94"/><circle cx="177.2" cy="9.2" r="0.45" fill-opacity="0.35"/><circle cx="155.0" cy="90.1" r="0.48" fill-opacity="0.94"/><circle cx="101.5" cy="201.9" r="0.85" fill-opacity="0.33"/><circle cx="109.1" cy="194.0" r="1.05" fill-opacity="0.96"/><circle cx="190.3" cy="52.2" r="0.46" fill-opacity="0.76"/><circle cx="118.7" cy="191.3" r="0.97" fill-opacity="0.77"/><circle cx="65.9" cy="88.1" r="0.50" fill-opacity="0.87"/><circle cx="166.9" cy="148.3" r="0.52" fill-opacity="0.28"/><circle cx="62.0" cy="125.8" r="0.59" fill-opacity="0.26"/><circle cx="87.3" cy="31.5" r="0.48" fill-opacity="0.25"/><circle cx="134.0" cy="64.0" r="0.74" fill-opacity="0.40"/><circle cx="118.1" cy="97.9" r="0.82" fill-opacity="0.80"/><circle cx="28.4" cy="113.3" r="0.53" fill-opacity="0.82"/><circle cx="126.8" cy="92.9" r="0.88" fill-opacity="0.21"/><circle cx="108.0" cy="64.3" r="1.04" fill-opacity="0.79"/><circle cx="89.0" cy="46.8" r="0.72" fill-opacity="0.37"/><circle cx="204.4" cy="18.5" r="0.46" fill-opacity="0.25"/><circle cx="68.1" cy="113.8" r="0.55" fill-opacity="0.37"/><circle cx="48.5" cy="180.9" r="0.84" fill-opacity="0.23"/><circle cx="151.4" cy="27.9" r="1.04" fill-opacity="0.80"/><circle cx="152.9" cy="133.5" r="0.56" fill-opacity="0.79"/><circle cx="64.3" cy="148.3" r="0.49" fill-opacity="0.29"/><circle cx="199.7" cy="89.9" r="0.72" fill-opacity="0.94"/><circle cx="190.6" cy="48.3" r="0.88" fill-opacity="0.22"/><circle cx="117.9" cy="208.7" r="0.88" fill-opacity="0.78"/><circle cx="4.5" cy="99.3" r="0.61" fill-opacity="0.30"/><circle cx="53.9" cy="67.9" r="0.65" fill-opacity="0.39"/><circle cx="40.4" cy="47.6" r="0.83" fill-opacity="0.30"/><circle cx="107.1" cy="202.4" r="0.52" fill-opacity="0.89"/><circle cx="119.5" cy="149.4" r="0.94" fill-opacity="0.37"/><circle cx="76.2" cy="116.3" r="0.71" fill-opacity="0.26"/><circle cx="91.0" cy="142.2" r="0.50" fill-opacity="0.20"/><circle cx="81.9" cy="29.3" r="0.59" fill-opacity="0.30"/><circle cx="197.6" cy="160.0" r="0.49" fill-opacity="0.99"/><circle cx="78.4" cy="39.1" r="0.75" fill-opacity="0.83"/><circle cx="22.5" cy="26.1" r="0.69" fill-opacity="0.26"/><circle cx="26.0" cy="179.6" r="0.65" fill-opacity="0.34"/><circle cx="179.5" cy="207.6" r="0.95" fill-opacity="0.26"/><circle cx="158.6" cy="15.8" r="0.50" fill-opacity="0.31"/><circle cx="88.7" cy="42.2" r="0.75" fill-opacity="0.23"/><circle cx="20.1" cy="122.9" r="0.75" fill-opacity="0.88"/><circle cx="25.2" cy="150.0" r="0.96" fill-opacity="0.19"/><circle cx="62.7" cy="170.6" r="0.63" fill-opacity="0.20"/><circle cx="121.5" cy="116.8" r="0.58" fill-opacity="0.37"/><circle cx="202.5" cy="117.0" r="0.85" fill-opacity="0.91"/><circle cx="70.8" cy="153.0" r="0.59" fill-opacity="0.76"/><circle cx="7.3" cy="157.5" r="0.47" fill-opacity="0.35"/><circle cx="2.7" cy="140.1" r="0.50" fill-opacity="0.85"/><circle cx="35.2" cy="159.4" r="0.51" fill-opacity="0.83"/><circle cx="70.5" cy="83.3" r="0.76" fill-opacity="0.37"/><circle cx="8.7" cy="94.0" r="0.80" fill-opacity="0.75"/><circle cx="141.2" cy="70.0" r="0.93" fill-opacity="0.26"/><circle cx="113.4" cy="200.2" r="0.93" fill-opacity="0.96"/><circle cx="18.1" cy="101.2" r="0.47" fill-opacity="0.76"/><circle cx="7.4" cy="206.4" r="0.64" fill-opacity="0.29"/><circle cx="10.0" cy="44.9" r="0.66" fill-opacity="0.87"/><circle cx="39.5" cy="186.0" r="0.55" fill-opacity="0.93"/><circle cx="196.1" cy="156.8" r="0.92" fill-opacity="0.21"/><circle cx="66.8" cy="185.6" r="0.72" fill-opacity="0.16"/><circle cx="183.3" cy="45.6" r="0.50" fill-opacity="0.27"/><circle cx="90.4" cy="213.6" r="0.89" fill-opacity="0.21"/><circle cx="17.9" cy="206.0" r="0.87" fill-opacity="0.84"/><circle cx="123.9" cy="197.7" r="0.66" fill-opacity="0.33"/><circle cx="208.9" cy="165.7" r="0.86" fill-opacity="0.21"/><circle cx="163.1" cy="28.2" r="0.49" fill-opacity="0.81"/><circle cx="43.6" cy="210.3" r="0.51" fill-opacity="0.85"/><circle cx="203.6" cy="103.1" r="0.81" fill-opacity="0.94"/><circle cx="54.8" cy="74.5" r="0.50" fill-opacity="0.28"/><circle cx="80.8" cy="124.8" r="0.81" fill-opacity="0.92"/><circle cx="158.4" cy="162.9" r="0.74" fill-opacity="0.27"/><circle cx="99.1" cy="62.4" r="0.96" fill-opacity="0.77"/><circle cx="2.2" cy="94.6" r="0.45" fill-opacity="0.97"/><circle cx="59.0" cy="88.4" r="0.51" fill-opacity="0.84"/><circle cx="212.4" cy="130.3" r="0.57" fill-opacity="0.77"/><circle cx="132.9" cy="78.6" r="0.62" fill-opacity="0.77"/><circle cx="159.7" cy="143.1" r="1.05" fill-opacity="0.89"/><circle cx="85.7" cy="19.7" r="0.47" fill-opacity="0.79"/><circle cx="102.6" cy="46.4" r="0.89" fill-opacity="0.80"/><circle cx="56.4" cy="70.0" r="0.52" fill-opacity="0.88"/><circle cx="87.9" cy="147.3" r="0.57" fill-opacity="0.78"/><circle cx="34.2" cy="118.8" r="0.52" fill-opacity="0.39"/><circle cx="72.5" cy="150.3" r="0.68" fill-opacity="0.92"/><circle cx="147.2" cy="6.0" r="0.64" fill-opacity="0.40"/><circle cx="192.0" cy="99.7" r="0.52" fill-opacity="0.90"/><circle cx="183.6" cy="57.2" r="0.95" fill-opacity="0.24"/><circle cx="26.3" cy="162.8" r="0.97" fill-opacity="0.22"/><circle cx="70.3" cy="65.8" r="0.69" fill-opacity="0.20"/><circle cx="63.8" cy="210.1" r="0.54" fill-opacity="0.81"/><circle cx="167.8" cy="66.1" r="0.47" fill-opacity="0.85"/><circle cx="37.7" cy="54.6" r="0.56" fill-opacity="0.33"/><circle cx="114.3" cy="104.0" r="0.89" fill-opacity="0.78"/><circle cx="213.1" cy="133.8" r="1.00" fill-opacity="0.94"/><circle cx="134.3" cy="11.3" r="0.69" fill-opacity="0.82"/><circle cx="96.7" cy="200.7" r="0.80" fill-opacity="0.99"/><circle cx="11.2" cy="156.2" r="0.88" fill-opacity="0.94"/><circle cx="134.2" cy="52.7" r="0.74" fill-opacity="0.83"/><circle cx="122.4" cy="167.9" r="0.85" fill-opacity="0.82"/><circle cx="186.5" cy="77.3" r="0.73" fill-opacity="0.95"/><circle cx="138.3" cy="10.2" r="0.82" fill-opacity="0.77"/><circle cx="53.2" cy="135.5" r="0.52" fill-opacity="0.86"/><circle cx="198.0" cy="83.2" r="0.92" fill-opacity="0.91"/><circle cx="176.9" cy="193.6" r="0.78" fill-opacity="0.32"/><circle cx="52.6" cy="196.3" r="0.57" fill-opacity="0.97"/><circle cx="125.8" cy="87.0" r="0.71" fill-opacity="0.85"/><circle cx="65.7" cy="123.1" r="0.92" fill-opacity="0.98"/><circle cx="107.8" cy="82.4" r="0.72" fill-opacity="0.95"/><circle cx="180.9" cy="87.2" r="0.83" fill-opacity="0.19"/><circle cx="77.0" cy="31.6" r="0.52" fill-opacity="0.91"/><circle cx="113.8" cy="155.0" r="0.64" fill-opacity="0.89"/><circle cx="136.0" cy="4.1" r="0.74" fill-opacity="0.76"/><circle cx="80.0" cy="145.1" r="0.79" fill-opacity="0.86"/><circle cx="36.9" cy="165.8" r="0.47" fill-opacity="0.17"/><circle cx="12.6" cy="176.4" r="0.54" fill-opacity="0.38"/><circle cx="122.5" cy="52.7" r="0.94" fill-opacity="0.94"/><circle cx="33.1" cy="194.5" r="0.65" fill-opacity="0.95"/><circle cx="212.4" cy="66.0" r="0.86" fill-opacity="0.20"/><circle cx="25.6" cy="138.9" r="0.65" fill-opacity="0.19"/><circle cx="142.0" cy="202.4" r="0.50" fill-opacity="0.19"/><circle cx="186.6" cy="64.4" r="0.55" fill-opacity="0.25"/><circle cx="110.8" cy="162.7" r="0.47" fill-opacity="0.24"/><circle cx="183.4" cy="151.9" r="0.68" fill-opacity="0.86"/><circle cx="162.8" cy="61.4" r="0.57" fill-opacity="0.94"/><circle cx="16.0" cy="174.5" r="0.92" fill-opacity="0.24"/><circle cx="46.5" cy="191.2" r="0.48" fill-opacity="0.93"/><circle cx="173.9" cy="158.0" r="0.88" fill-opacity="0.97"/><circle cx="152.0" cy="65.7" r="0.85" fill-opacity="0.34"/><circle cx="203.5" cy="165.4" r="0.74" fill-opacity="0.85"/><circle cx="10.7" cy="167.1" r="0.73" fill-opacity="0.32"/><circle cx="105.7" cy="204.0" r="0.56" fill-opacity="0.36"/><circle cx="174.7" cy="53.8" r="0.65" fill-opacity="0.24"/><circle cx="18.6" cy="55.1" r="0.92" fill-opacity="0.34"/><circle cx="213.5" cy="119.3" r="0.57" fill-opacity="0.82"/><circle cx="79.4" cy="173.3" r="0.82" fill-opacity="0.76"/><circle cx="42.7" cy="7.8" r="0.90" fill-opacity="0.79"/><circle cx="2.0" cy="79.2" r="1.01" fill-opacity="0.40"/><circle cx="41.8" cy="108.8" r="0.48" fill-opacity="0.40"/><circle cx="28.4" cy="135.4" r="0.77" fill-opacity="0.92"/><circle cx="120.4" cy="197.4" r="0.51" fill-opacity="0.86"/><circle cx="118.1" cy="79.3" r="0.98" fill-opacity="0.25"/><circle cx="33.6" cy="209.4" r="1.02" fill-opacity="0.84"/><circle cx="134.9" cy="178.2" r="0.48" fill-opacity="0.15"/><circle cx="100.7" cy="101.4" r="0.51" fill-opacity="0.31"/><circle cx="122.2" cy="38.3" r="0.72" fill-opacity="0.19"/><circle cx="159.5" cy="193.0" r="0.91" fill-opacity="0.26"/><circle cx="19.9" cy="162.8" r="0.82" fill-opacity="0.28"/><circle cx="63.7" cy="101.6" r="0.65" fill-opacity="0.91"/><circle cx="123.8" cy="83.8" r="0.81" fill-opacity="0.27"/><circle cx="141.2" cy="202.6" r="0.93" fill-opacity="0.24"/><circle cx="148.3" cy="80.9" r="1.00" fill-opacity="0.38"/><circle cx="24.3" cy="111.8" r="0.53" fill-opacity="0.79"/><circle cx="100.6" cy="130.6" r="0.96" fill-opacity="0.30"/><circle cx="94.3" cy="127.1" r="0.84" fill-opacity="0.99"/><circle cx="134.7" cy="113.0" r="0.77" fill-opacity="0.28"/><circle cx="114.4" cy="189.9" r="0.71" fill-opacity="0.97"/><circle cx="55.1" cy="48.7" r="0.76" fill-opacity="0.75"/><circle cx="70.5" cy="108.0" r="0.73" fill-opacity="0.32"/><circle cx="37.7" cy="103.8" r="0.85" fill-opacity="0.18"/><circle cx="173.7" cy="109.1" r="1.00" fill-opacity="0.89"/><circle cx="128.4" cy="205.7" r="0.59" fill-opacity="0.77"/><circle cx="189.4" cy="139.3" r="0.45" fill-opacity="0.29"/><circle cx="172.4" cy="161.3" r="0.47" fill-opacity="0.77"/><circle cx="2.5" cy="50.6" r="1.00" fill-opacity="0.78"/><circle cx="143.6" cy="211.1" r="1.01" fill-opacity="0.22"/><circle cx="209.6" cy="17.4" r="0.98" fill-opacity="0.97"/><circle cx="119.6" cy="36.3" r="0.80" fill-opacity="0.28"/><circle cx="204.3" cy="25.8" r="0.80" fill-opacity="0.23"/><circle cx="10.7" cy="163.3" r="0.69" fill-opacity="0.79"/><circle cx="92.3" cy="141.0" r="0.65" fill-opacity="0.16"/><circle cx="61.5" cy="70.8" r="1.01" fill-opacity="0.78"/><circle cx="114.0" cy="68.7" r="0.77" fill-opacity="0.16"/><circle cx="50.0" cy="205.5" r="0.62" fill-opacity="0.87"/><circle cx="94.1" cy="99.0" r="0.84" fill-opacity="0.78"/><circle cx="142.0" cy="19.0" r="0.50" fill-opacity="0.80"/><circle cx="113.3" cy="163.3" r="0.86" fill-opacity="0.88"/><circle cx="143.5" cy="23.7" r="0.61" fill-opacity="0.84"/><circle cx="19.6" cy="145.4" r="0.87" fill-opacity="0.82"/><circle cx="178.6" cy="200.7" r="0.74" fill-opacity="0.87"/><circle cx="144.1" cy="94.5" r="0.97" fill-opacity="0.28"/><circle cx="15.8" cy="155.9" r="0.90" fill-opacity="0.26"/><circle cx="60.6" cy="202.6" r="1.04" fill-opacity="0.32"/><circle cx="187.2" cy="55.0" r="0.80" fill-opacity="0.83"/><circle cx="122.9" cy="108.1" r="0.95" fill-opacity="0.76"/><circle cx="136.0" cy="189.7" r="0.85" fill-opacity="0.15"/><circle cx="45.3" cy="199.3" r="0.89" fill-opacity="0.93"/><circle cx="159.1" cy="43.2" r="0.99" fill-opacity="0.23"/><circle cx="54.2" cy="147.3" r="0.64" fill-opacity="0.99"/><circle cx="103.8" cy="60.8" r="0.93" fill-opacity="0.88"/><circle cx="154.0" cy="82.5" r="1.01" fill-opacity="0.87"/><circle cx="76.9" cy="114.5" r="1.04" fill-opacity="0.18"/><circle cx="174.7" cy="178.6" r="0.54" fill-opacity="0.36"/><circle cx="191.9" cy="145.9" r="0.62" fill-opacity="0.25"/><circle cx="22.4" cy="31.3" r="0.70" fill-opacity="0.81"/><circle cx="88.3" cy="62.4" r="0.68" fill-opacity="0.77"/><circle cx="137.9" cy="128.6" r="1.01" fill-opacity="0.84"/><circle cx="173.9" cy="155.0" r="0.47" fill-opacity="0.81"/><circle cx="152.9" cy="167.9" r="0.99" fill-opacity="0.22"/><circle cx="123.8" cy="24.8" r="0.50" fill-opacity="0.91"/><circle cx="10.9" cy="153.5" r="1.01" fill-opacity="0.40"/><circle cx="157.8" cy="91.1" r="1.00" fill-opacity="0.30"/><circle cx="51.5" cy="144.7" r="0.74" fill-opacity="0.95"/><circle cx="20.5" cy="71.2" r="0.55" fill-opacity="0.94"/><circle cx="22.5" cy="172.6" r="0.56" fill-opacity="0.84"/><circle cx="181.1" cy="58.6" r="0.61" fill-opacity="0.35"/><circle cx="55.6" cy="34.2" r="0.96" fill-opacity="0.81"/><circle cx="40.2" cy="176.3" r="0.77" fill-opacity="1.00"/><circle cx="176.7" cy="211.2" r="0.97" fill-opacity="0.35"/><circle cx="24.9" cy="189.8" r="0.90" fill-opacity="0.87"/><circle cx="94.2" cy="63.1" r="1.03" fill-opacity="0.76"/><circle cx="24.8" cy="205.8" r="0.85" fill-opacity="0.21"/><circle cx="176.9" cy="160.5" r="0.55" fill-opacity="0.94"/><circle cx="54.3" cy="177.1" r="0.78" fill-opacity="0.29"/><circle cx="164.3" cy="9.7" r="0.89" fill-opacity="0.78"/><circle cx="83.6" cy="156.9" r="0.66" fill-opacity="0.34"/><circle cx="86.3" cy="202.0" r="1.05" fill-opacity="0.81"/><circle cx="208.2" cy="151.2" r="0.58" fill-opacity="0.95"/><circle cx="111.2" cy="205.2" r="1.01" fill-opacity="0.87"/><circle cx="209.5" cy="145.9" r="0.74" fill-opacity="0.96"/><circle cx="39.4" cy="193.4" r="0.96" fill-opacity="0.26"/><circle cx="76.4" cy="147.6" r="0.77" fill-opacity="0.27"/><circle cx="52.4" cy="194.3" r="0.78" fill-opacity="0.37"/><circle cx="142.9" cy="34.9" r="0.87" fill-opacity="0.32"/><circle cx="112.3" cy="72.9" r="0.76" fill-opacity="0.21"/><circle cx="9.7" cy="169.2" r="0.72" fill-opacity="0.23"/><circle cx="62.6" cy="39.2" r="0.52" fill-opacity="0.20"/><circle cx="142.0" cy="95.1" r="0.85" fill-opacity="0.79"/><circle cx="95.8" cy="126.8" r="1.03" fill-opacity="0.91"/><circle cx="150.7" cy="11.6" r="1.02" fill-opacity="0.99"/><circle cx="134.3" cy="184.9" r="0.48" fill-opacity="0.36"/><circle cx="11.4" cy="43.4" r="0.71" fill-opacity="0.88"/><circle cx="24.2" cy="133.4" r="0.81" fill-opacity="0.28"/><circle cx="131.0" cy="117.7" r="0.51" fill-opacity="0.93"/><circle cx="87.6" cy="101.6" r="0.88" fill-opacity="0.88"/><circle cx="111.2" cy="0.6" r="0.71" fill-opacity="0.83"/><circle cx="148.7" cy="140.2" r="0.53" fill-opacity="0.92"/><circle cx="156.4" cy="27.7" r="0.58" fill-opacity="0.90"/><circle cx="175.6" cy="142.9" r="0.46" fill-opacity="0.81"/><circle cx="203.3" cy="130.0" r="0.59" fill-opacity="0.95"/><circle cx="9.6" cy="88.4" r="0.87" fill-opacity="0.90"/><circle cx="148.7" cy="101.3" r="0.75" fill-opacity="0.84"/><circle cx="124.7" cy="199.1" r="0.59" fill-opacity="0.35"/><circle cx="19.3" cy="110.2" r="0.60" fill-opacity="0.90"/><circle cx="0.7" cy="200.5" r="0.73" fill-opacity="0.29"/><circle cx="19.6" cy="166.4" r="0.89" fill-opacity="0.92"/><circle cx="129.0" cy="118.6" r="1.04" fill-opacity="0.21"/><circle cx="160.7" cy="186.1" r="0.75" fill-opacity="0.77"/><circle cx="100.7" cy="113.5" r="0.72" fill-opacity="0.92"/><circle cx="127.0" cy="72.0" r="0.68" fill-opacity="0.17"/><circle cx="173.0" cy="164.8" r="0.94" fill-opacity="0.96"/><circle cx="34.3" cy="149.2" r="0.80" fill-opacity="0.82"/><circle cx="46.3" cy="61.4" r="1.00" fill-opacity="0.90"/><circle cx="124.0" cy="95.1" r="0.78" fill-opacity="0.93"/><circle cx="73.4" cy="18.9" r="0.57" fill-opacity="0.86"/><circle cx="146.8" cy="86.9" r="0.51" fill-opacity="0.26"/><circle cx="28.1" cy="59.5" r="0.77" fill-opacity="0.84"/><circle cx="79.3" cy="120.5" r="0.56" fill-opacity="0.33"/><circle cx="1.8" cy="12.8" r="0.87" fill-opacity="1.00"/><circle cx="159.4" cy="110.8" r="0.92" fill-opacity="0.17"/><circle cx="43.9" cy="194.8" r="0.92" fill-opacity="0.86"/><circle cx="213.4" cy="205.1" r="0.69" fill-opacity="0.81"/><circle cx="189.6" cy="135.1" r="0.78" fill-opacity="0.87"/><circle cx="14.6" cy="56.4" r="0.59" fill-opacity="0.37"/><circle cx="144.9" cy="82.1" r="0.76" fill-opacity="0.30"/><circle cx="57.0" cy="41.6" r="0.94" fill-opacity="0.99"/><circle cx="23.9" cy="59.4" r="0.83" fill-opacity="0.77"/><circle cx="127.7" cy="196.7" r="0.85" fill-opacity="0.88"/><circle cx="58.0" cy="161.4" r="1.02" fill-opacity="0.85"/><circle cx="16.4" cy="137.9" r="0.62" fill-opacity="0.79"/><circle cx="128.3" cy="195.8" r="0.84" fill-opacity="0.27"/><circle cx="87.7" cy="151.0" r="0.98" fill-opacity="0.79"/><circle cx="13.1" cy="99.8" r="0.65" fill-opacity="0.75"/><circle cx="152.4" cy="120.8" r="0.48" fill-opacity="0.33"/><circle cx="207.7" cy="35.0" r="0.63" fill-opacity="0.95"/><circle cx="82.2" cy="3.2" r="0.62" fill-opacity="0.23"/><circle cx="139.2" cy="202.6" r="0.62" fill-opacity="0.32"/><circle cx="169.3" cy="70.3" r="0.77" fill-opacity="0.36"/><circle cx="135.4" cy="108.0" r="0.79" fill-opacity="0.99"/><circle cx="189.9" cy="63.9" r="0.68" fill-opacity="0.86"/><circle cx="205.9" cy="102.8" r="0.64" fill-opacity="0.23"/><circle cx="16.8" cy="168.3" r="0.76" fill-opacity="0.76"/><circle cx="160.8" cy="3.6" r="0.89" fill-opacity="0.37"/><circle cx="185.2" cy="145.5" r="0.47" fill-opacity="0.22"/><circle cx="200.4" cy="208.2" r="0.95" fill-opacity="0.89"/><circle cx="116.8" cy="64.3" r="0.53" fill-opacity="0.87"/><circle cx="26.9" cy="157.2" r="0.99" fill-opacity="0.78"/><circle cx="115.6" cy="84.9" r="0.75" fill-opacity="0.81"/><circle cx="41.3" cy="38.9" r="0.79" fill-opacity="0.86"/><circle cx="103.7" cy="71.0" r="1.04" fill-opacity="0.82"/><circle cx="81.4" cy="130.7" r="0.99" fill-opacity="0.93"/><circle cx="134.4" cy="99.3" r="0.72" fill-opacity="0.16"/><circle cx="186.9" cy="9.9" r="0.57" fill-opacity="0.81"/><circle cx="26.0" cy="157.8" r="0.81" fill-opacity="0.83"/><circle cx="84.3" cy="134.1" r="0.47" fill-opacity="1.00"/><circle cx="16.1" cy="167.6" r="0.49" fill-opacity="0.29"/><circle cx="90.9" cy="44.8" r="0.59" fill-opacity="0.34"/><circle cx="128.9" cy="215.9" r="0.70" fill-opacity="0.30"/><circle cx="108.3" cy="83.8" r="0.87" fill-opacity="0.38"/><circle cx="177.7" cy="158.4" r="0.51" fill-opacity="0.80"/><circle cx="81.9" cy="178.0" r="0.96" fill-opacity="0.97"/><circle cx="189.4" cy="31.5" r="0.72" fill-opacity="0.24"/><circle cx="70.3" cy="141.7" r="0.57" fill-opacity="0.93"/><circle cx="154.3" cy="195.7" r="0.97" fill-opacity="0.30"/><circle cx="80.4" cy="64.0" r="0.86" fill-opacity="0.17"/><circle cx="215.9" cy="121.5" r="0.97" fill-opacity="0.94"/><circle cx="60.3" cy="215.2" r="1.03" fill-opacity="0.82"/><circle cx="117.1" cy="78.3" r="0.94" fill-opacity="0.19"/><circle cx="34.5" cy="116.9" r="0.66" fill-opacity="0.94"/><circle cx="127.9" cy="54.1" r="1.04" fill-opacity="0.80"/><circle cx="68.9" cy="195.8" r="0.90" fill-opacity="0.93"/><circle cx="111.9" cy="117.7" r="0.94" fill-opacity="0.85"/><circle cx="69.7" cy="25.6" r="0.67" fill-opacity="0.81"/><circle cx="133.9" cy="101.5" r="0.81" fill-opacity="0.86"/><circle cx="123.0" cy="42.5" r="0.82" fill-opacity="0.89"/><circle cx="72.8" cy="189.8" r="0.62" fill-opacity="0.27"/><circle cx="147.9" cy="201.6" r="0.74" fill-opacity="0.97"/><circle cx="108.2" cy="147.7" r="0.61" fill-opacity="0.94"/><circle cx="29.8" cy="38.6" r="0.62" fill-opacity="0.39"/><circle cx="212.2" cy="12.3" r="0.84" fill-opacity="0.81"/><circle cx="152.3" cy="21.1" r="0.46" fill-opacity="0.90"/><circle cx="143.0" cy="139.7" r="0.90" fill-opacity="0.82"/><circle cx="148.2" cy="179.2" r="0.74" fill-opacity="0.91"/><circle cx="212.6" cy="96.6" r="0.53" fill-opacity="0.97"/><circle cx="58.6" cy="140.6" r="0.74" fill-opacity="0.16"/><circle cx="26.1" cy="106.7" r="0.68" fill-opacity="0.84"/><circle cx="119.7" cy="71.2" r="0.97" fill-opacity="0.94"/><circle cx="105.0" cy="48.2" r="0.85" fill-opacity="0.86"/><circle cx="71.8" cy="131.7" r="0.58" fill-opacity="0.86"/><circle cx="41.8" cy="97.3" r="1.00" fill-opacity="0.32"/><circle cx="61.2" cy="168.4" r="0.97" fill-opacity="0.93"/><circle cx="51.8" cy="157.6" r="0.78" fill-opacity="0.93"/><circle cx="64.4" cy="34.1" r="0.50" fill-opacity="0.16"/><circle cx="185.0" cy="119.9" r="0.85" fill-opacity="0.95"/><circle cx="117.2" cy="66.1" r="0.70" fill-opacity="0.21"/><circle cx="203.3" cy="135.2" r="0.83" fill-opacity="0.28"/><circle cx="123.3" cy="64.3" r="0.51" fill-opacity="0.99"/><circle cx="3.6" cy="62.9" r="0.52" fill-opacity="0.95"/><circle cx="185.1" cy="141.0" r="0.54" fill-opacity="0.81"/><circle cx="118.4" cy="206.2" r="0.78" fill-opacity="0.97"/><circle cx="139.9" cy="14.4" r="0.88" fill-opacity="0.24"/><circle cx="123.2" cy="108.6" r="0.66" fill-opacity="0.17"/><circle cx="28.7" cy="133.2" r="0.51" fill-opacity="0.94"/><circle cx="201.2" cy="212.0" r="0.55" fill-opacity="0.77"/><circle cx="2.4" cy="161.5" r="0.64" fill-opacity="0.79"/><circle cx="73.4" cy="60.8" r="0.85" fill-opacity="0.16"/><circle cx="26.0" cy="165.1" r="0.65" fill-opacity="0.87"/><circle cx="55.6" cy="168.2" r="0.88" fill-opacity="0.81"/><circle cx="111.7" cy="199.8" r="0.99" fill-opacity="0.80"/><circle cx="126.7" cy="115.3" r="0.64" fill-opacity="0.75"/><circle cx="155.2" cy="94.8" r="0.71" fill-opacity="0.77"/><circle cx="200.0" cy="132.9" r="0.71" fill-opacity="0.84"/><circle cx="57.0" cy="52.9" r="0.71" fill-opacity="0.38"/><circle cx="189.8" cy="192.4" r="0.82" fill-opacity="0.80"/><circle cx="153.6" cy="209.7" r="0.95" fill-opacity="0.27"/><circle cx="176.2" cy="56.7" r="0.79" fill-opacity="0.24"/><circle cx="78.5" cy="62.8" r="0.69" fill-opacity="0.91"/></g></g><rect x="326.0" y="259.5" width="215.0" height="214.5" fill="#000"/><g transform="translate(326.0,259.5)" clip-path="url(#clipA1)"><g filter="url(#mottle)"><ellipse cx="30.0" cy="11.0" rx="20.0" ry="14.0" transform="rotate(0 30.0 11.0)" fill="#0c10e6" stroke="#1a22ff" stroke-width="1.4" opacity="1.00"/><ellipse cx="111.7" cy="21.6" rx="25.0" ry="19.0" transform="rotate(0 111.7 21.6)" fill="#0c10e6" stroke="#1a22ff" stroke-width="1.4" opacity="1.00"/><ellipse cx="183.0" cy="24.0" rx="19.5" ry="25.0" transform="rotate(-10 183.0 24.0)" fill="#0c10e6" stroke="#1a22ff" stroke-width="1.4" opacity="1.00"/><ellipse cx="153.0" cy="56.0" rx="20.0" ry="22.0" transform="rotate(0 153.0 56.0)" fill="#0c10e6" stroke="#1a22ff" stroke-width="1.4" opacity="1.00"/><ellipse cx="27.0" cy="81.0" rx="22.0" ry="21.0" transform="rotate(30 27.0 81.0)" fill="#0c10e6" stroke="#1a22ff" stroke-width="1.4" opacity="1.00"/><ellipse cx="87.0" cy="90.0" rx="17.5" ry="27.0" transform="rotate(0 87.0 90.0)" fill="#0c10e6" stroke="#1a22ff" stroke-width="1.4" opacity="1.00"/><ellipse cx="178.0" cy="113.0" rx="22.0" ry="25.0" transform="rotate(0 178.0 113.0)" fill="#0c10e6" stroke="#1a22ff" stroke-width="1.4" opacity="1.00"/><ellipse cx="6.5" cy="122.0" rx="14.0" ry="18.0" transform="rotate(0 6.5 122.0)" fill="#0c10e6" stroke="#1a22ff" stroke-width="1.4" opacity="1.00"/><ellipse cx="139.0" cy="140.0" rx="14.0" ry="18.0" transform="rotate(0 139.0 140.0)" fill="#0c10e6" stroke="#1a22ff" stroke-width="1.4" opacity="0.95"/><ellipse cx="100.0" cy="177.0" rx="14.0" ry="22.0" transform="rotate(-10 100.0 177.0)" fill="#0c10e6" stroke="#1a22ff" stroke-width="1.4" opacity="0.95"/><ellipse cx="196.0" cy="182.0" rx="19.0" ry="21.0" transform="rotate(0 196.0 182.0)" fill="#0c10e6" stroke="#1a22ff" stroke-width="1.4" opacity="1.00"/><ellipse cx="79.0" cy="214.0" rx="8.0" ry="5.0" transform="rotate(0 79.0 214.0)" fill="#0c10e6" stroke="#1a22ff" stroke-width="1.4" opacity="1.00"/></g></g><rect x="543.5" y="259.5" width="216.5" height="214.5" fill="#000"/><g transform="translate(543.5,259.5)" clip-path="url(#clipA1)"><g filter="url(#mottle)"><ellipse cx="30.0" cy="11.0" rx="20.0" ry="14.0" transform="rotate(0 30.0 11.0)" fill="#0c10e6" stroke="#1a22ff" stroke-width="1.4" opacity="1.00"/><ellipse cx="111.7" cy="21.6" rx="25.0" ry="19.0" transform="rotate(0 111.7 21.6)" fill="#0c10e6" stroke="#1a22ff" stroke-width="1.4" opacity="1.00"/><ellipse cx="183.0" cy="24.0" rx="19.5" ry="25.0" transform="rotate(-10 183.0 24.0)" fill="#0c10e6" stroke="#1a22ff" stroke-width="1.4" opacity="1.00"/><ellipse cx="153.0" cy="56.0" rx="20.0" ry="22.0" transform="rotate(0 153.0 56.0)" fill="#0c10e6" stroke="#1a22ff" stroke-width="1.4" opacity="1.00"/><ellipse cx="27.0" cy="81.0" rx="22.0" ry="21.0" transform="rotate(30 27.0 81.0)" fill="#0c10e6" stroke="#1a22ff" stroke-width="1.4" opacity="1.00"/><ellipse cx="87.0" cy="90.0" rx="17.5" ry="27.0" transform="rotate(0 87.0 90.0)" fill="#0c10e6" stroke="#1a22ff" stroke-width="1.4" opacity="1.00"/><ellipse cx="178.0" cy="113.0" rx="22.0" ry="25.0" transform="rotate(0 178.0 113.0)" fill="#0c10e6" stroke="#1a22ff" stroke-width="1.4" opacity="1.00"/><ellipse cx="6.5" cy="122.0" rx="14.0" ry="18.0" transform="rotate(0 6.5 122.0)" fill="#0c10e6" stroke="#1a22ff" stroke-width="1.4" opacity="1.00"/><ellipse cx="139.0" cy="140.0" rx="14.0" ry="18.0" transform="rotate(0 139.0 140.0)" fill="#0c10e6" stroke="#1a22ff" stroke-width="1.4" opacity="0.95"/><ellipse cx="100.0" cy="177.0" rx="14.0" ry="22.0" transform="rotate(-10 100.0 177.0)" fill="#0c10e6" stroke="#1a22ff" stroke-width="1.4" opacity="0.95"/><ellipse cx="196.0" cy="182.0" rx="19.0" ry="21.0" transform="rotate(0 196.0 182.0)" fill="#0c10e6" stroke="#1a22ff" stroke-width="1.4" opacity="1.00"/><ellipse cx="79.0" cy="214.0" rx="8.0" ry="5.0" transform="rotate(0 79.0 214.0)" fill="#0c10e6" stroke="#1a22ff" stroke-width="1.4" opacity="1.00"/></g><g fill="#ff1a1a" style="mix-blend-mode:screen"><circle cx="166.4" cy="205.3" r="0.81" fill-opacity="0.86"/><circle cx="75.1" cy="17.9" r="0.91" fill-opacity="0.38"/><circle cx="202.0" cy="127.4" r="0.87" fill-opacity="0.79"/><circle cx="0.8" cy="45.9" r="1.02" fill-opacity="0.85"/><circle cx="164.2" cy="34.2" r="0.99" fill-opacity="0.24"/><circle cx="47.0" cy="107.4" r="0.56" fill-opacity="0.78"/><circle cx="25.3" cy="113.3" r="0.86" fill-opacity="0.82"/><circle cx="172.6" cy="192.5" r="0.92" fill-opacity="0.92"/><circle cx="50.7" cy="183.5" r="0.89" fill-opacity="0.86"/><circle cx="52.6" cy="63.6" r="0.95" fill-opacity="0.94"/><circle cx="62.4" cy="155.5" r="0.88" fill-opacity="0.81"/><circle cx="28.7" cy="104.4" r="0.94" fill-opacity="0.25"/><circle cx="77.4" cy="117.5" r="0.86" fill-opacity="0.30"/><circle cx="130.3" cy="138.3" r="0.74" fill-opacity="0.20"/><circle cx="93.0" cy="60.2" r="0.65" fill-opacity="0.78"/><circle cx="31.6" cy="186.1" r="0.97" fill-opacity="0.25"/><circle cx="93.4" cy="59.0" r="0.49" fill-opacity="0.87"/><circle cx="68.1" cy="155.4" r="0.74" fill-opacity="0.85"/><circle cx="72.1" cy="68.8" r="0.55" fill-opacity="0.27"/><circle cx="186.3" cy="84.4" r="0.50" fill-opacity="0.18"/><circle cx="153.8" cy="163.0" r="0.61" fill-opacity="0.36"/><circle cx="16.9" cy="29.8" r="0.72" fill-opacity="0.94"/><circle cx="40.0" cy="178.6" r="0.97" fill-opacity="0.22"/><circle cx="134.3" cy="162.5" r="0.83" fill-opacity="0.82"/><circle cx="30.6" cy="128.5" r="0.54" fill-opacity="0.83"/><circle cx="58.7" cy="143.6" r="1.04" fill-opacity="0.27"/><circle cx="200.0" cy="9.7" r="0.54" fill-opacity="0.81"/><circle cx="177.3" cy="51.2" r="0.84" fill-opacity="0.81"/><circle cx="173.0" cy="138.8" r="0.80" fill-opacity="0.93"/><circle cx="31.7" cy="210.3" r="0.62" fill-opacity="0.83"/><circle cx="57.3" cy="192.7" r="1.05" fill-opacity="0.90"/><circle cx="41.1" cy="207.3" r="0.75" fill-opacity="0.23"/><circle cx="85.7" cy="45.5" r="0.79" fill-opacity="0.35"/><circle cx="2.1" cy="102.2" r="0.88" fill-opacity="0.94"/><circle cx="201.6" cy="205.6" r="0.46" fill-opacity="0.20"/><circle cx="209.8" cy="1.6" r="0.60" fill-opacity="0.79"/><circle cx="94.1" cy="61.3" r="0.80" fill-opacity="0.29"/><circle cx="23.3" cy="158.8" r="0.63" fill-opacity="0.84"/><circle cx="73.7" cy="8.4" r="0.59" fill-opacity="0.76"/><circle cx="28.9" cy="174.1" r="0.78" fill-opacity="0.76"/><circle cx="130.9" cy="46.5" r="0.65" fill-opacity="0.89"/><circle cx="150.3" cy="28.2" r="0.91" fill-opacity="0.32"/><circle cx="156.9" cy="163.8" r="0.85" fill-opacity="0.93"/><circle cx="9.0" cy="23.4" r="0.83" fill-opacity="0.80"/><circle cx="112.1" cy="54.5" r="0.46" fill-opacity="0.89"/><circle cx="61.7" cy="160.2" r="0.69" fill-opacity="0.87"/><circle cx="80.1" cy="153.3" r="0.46" fill-opacity="0.83"/><circle cx="43.3" cy="140.0" r="0.82" fill-opacity="0.20"/><circle cx="57.4" cy="41.6" r="0.49" fill-opacity="0.29"/><circle cx="79.4" cy="3.5" r="1.01" fill-opacity="0.37"/><circle cx="94.7" cy="10.2" r="0.52" fill-opacity="0.83"/><circle cx="52.9" cy="47.0" r="0.90" fill-opacity="0.93"/><circle cx="101.8" cy="148.6" r="0.88" fill-opacity="0.90"/><circle cx="73.2" cy="200.3" r="0.72" fill-opacity="0.78"/><circle cx="8.4" cy="165.9" r="0.65" fill-opacity="0.81"/><circle cx="64.7" cy="101.2" r="0.90" fill-opacity="1.00"/><circle cx="45.8" cy="128.6" r="0.86" fill-opacity="0.92"/><circle cx="207.5" cy="85.0" r="0.47" fill-opacity="0.23"/><circle cx="162.9" cy="138.6" r="0.74" fill-opacity="0.30"/><circle cx="50.0" cy="206.5" r="0.62" fill-opacity="0.81"/><circle cx="48.8" cy="178.2" r="0.61" fill-opacity="0.92"/><circle cx="79.8" cy="28.1" r="0.90" fill-opacity="0.83"/><circle cx="128.5" cy="124.5" r="0.81" fill-opacity="0.86"/><circle cx="135.7" cy="75.2" r="0.93" fill-opacity="1.00"/><circle cx="98.2" cy="129.8" r="0.73" fill-opacity="0.17"/><circle cx="113.9" cy="122.0" r="0.73" fill-opacity="1.00"/><circle cx="46.4" cy="68.8" r="0.71" fill-opacity="0.31"/><circle cx="163.6" cy="10.1" r="0.76" fill-opacity="0.20"/><circle cx="205.4" cy="44.9" r="0.46" fill-opacity="0.20"/><circle cx="103.3" cy="198.9" r="0.49" fill-opacity="0.84"/><circle cx="54.8" cy="49.1" r="0.53" fill-opacity="0.36"/><circle cx="212.9" cy="195.4" r="0.80" fill-opacity="1.00"/><circle cx="130.6" cy="54.3" r="0.94" fill-opacity="0.40"/><circle cx="186.6" cy="65.4" r="0.64" fill-opacity="0.79"/><circle cx="69.7" cy="131.1" r="0.71" fill-opacity="0.25"/><circle cx="54.5" cy="120.3" r="0.59" fill-opacity="0.97"/><circle cx="78.5" cy="48.3" r="0.81" fill-opacity="0.22"/><circle cx="24.7" cy="122.1" r="0.48" fill-opacity="0.80"/><circle cx="117.1" cy="209.1" r="0.54" fill-opacity="0.87"/><circle cx="154.5" cy="106.1" r="0.94" fill-opacity="0.90"/><circle cx="50.4" cy="87.1" r="0.66" fill-opacity="0.33"/><circle cx="134.4" cy="135.8" r="1.04" fill-opacity="0.91"/><circle cx="85.6" cy="194.7" r="0.82" fill-opacity="0.97"/><circle cx="162.4" cy="34.9" r="0.62" fill-opacity="0.22"/><circle cx="44.9" cy="105.4" r="0.83" fill-opacity="0.81"/><circle cx="104.4" cy="208.4" r="1.03" fill-opacity="0.81"/><circle cx="120.8" cy="68.8" r="0.47" fill-opacity="0.17"/><circle cx="212.3" cy="83.4" r="1.01" fill-opacity="0.89"/><circle cx="191.3" cy="141.7" r="0.91" fill-opacity="0.95"/><circle cx="197.9" cy="76.6" r="1.01" fill-opacity="0.89"/><circle cx="51.4" cy="152.0" r="0.93" fill-opacity="0.76"/><circle cx="173.7" cy="141.2" r="1.04" fill-opacity="0.76"/><circle cx="131.7" cy="55.7" r="0.55" fill-opacity="0.21"/><circle cx="141.7" cy="8.8" r="0.87" fill-opacity="0.86"/><circle cx="148.3" cy="176.4" r="0.50" fill-opacity="0.90"/><circle cx="161.2" cy="207.2" r="0.73" fill-opacity="0.85"/><circle cx="49.6" cy="122.6" r="1.01" fill-opacity="0.30"/><circle cx="117.6" cy="80.7" r="0.98" fill-opacity="0.16"/><circle cx="162.1" cy="28.5" r="0.82" fill-opacity="0.82"/><circle cx="153.6" cy="216.0" r="0.70" fill-opacity="0.33"/><circle cx="49.0" cy="130.4" r="0.96" fill-opacity="0.31"/><circle cx="23.3" cy="35.1" r="0.70" fill-opacity="0.85"/><circle cx="150.4" cy="178.4" r="0.46" fill-opacity="0.94"/><circle cx="50.5" cy="195.3" r="0.58" fill-opacity="0.38"/><circle cx="72.6" cy="104.8" r="0.78" fill-opacity="0.23"/><circle cx="43.2" cy="57.0" r="0.73" fill-opacity="0.87"/><circle cx="45.2" cy="171.2" r="1.03" fill-opacity="0.97"/><circle cx="143.7" cy="32.6" r="0.70" fill-opacity="0.92"/><circle cx="117.0" cy="90.7" r="0.75" fill-opacity="0.95"/><circle cx="143.2" cy="13.7" r="0.62" fill-opacity="0.98"/><circle cx="108.8" cy="202.1" r="0.60" fill-opacity="0.21"/><circle cx="133.8" cy="4.5" r="0.48" fill-opacity="0.30"/><circle cx="104.8" cy="96.8" r="0.54" fill-opacity="0.81"/><circle cx="147.1" cy="199.6" r="1.02" fill-opacity="0.78"/><circle cx="8.4" cy="110.7" r="0.68" fill-opacity="0.84"/><circle cx="123.8" cy="131.0" r="0.58" fill-opacity="0.37"/><circle cx="101.2" cy="214.6" r="0.78" fill-opacity="0.29"/><circle cx="124.8" cy="141.0" r="0.73" fill-opacity="0.88"/><circle cx="88.7" cy="160.8" r="0.87" fill-opacity="0.99"/><circle cx="22.3" cy="184.4" r="1.03" fill-opacity="0.80"/><circle cx="8.0" cy="166.0" r="0.60" fill-opacity="0.87"/><circle cx="18.0" cy="139.1" r="0.79" fill-opacity="0.39"/><circle cx="203.9" cy="51.1" r="0.65" fill-opacity="0.26"/><circle cx="29.8" cy="201.2" r="0.97" fill-opacity="0.23"/><circle cx="69.5" cy="49.2" r="0.58" fill-opacity="0.80"/><circle cx="73.9" cy="203.1" r="0.85" fill-opacity="0.90"/><circle cx="122.2" cy="194.4" r="0.64" fill-opacity="0.99"/><circle cx="138.0" cy="178.7" r="0.96" fill-opacity="0.78"/><circle cx="120.3" cy="67.7" r="0.48" fill-opacity="0.22"/><circle cx="181.5" cy="101.2" r="0.90" fill-opacity="0.81"/><circle cx="35.2" cy="188.6" r="0.85" fill-opacity="1.00"/><circle cx="58.0" cy="82.7" r="0.98" fill-opacity="0.75"/><circle cx="5.7" cy="30.3" r="0.46" fill-opacity="0.75"/><circle cx="94.5" cy="64.3" r="0.66" fill-opacity="0.32"/><circle cx="69.3" cy="99.8" r="0.51" fill-opacity="0.79"/><circle cx="76.0" cy="162.0" r="0.90" fill-opacity="0.87"/><circle cx="190.6" cy="147.5" r="0.99" fill-opacity="0.17"/><circle cx="128.6" cy="214.8" r="0.82" fill-opacity="0.31"/><circle cx="203.9" cy="162.6" r="0.46" fill-opacity="0.16"/><circle cx="207.6" cy="148.5" r="0.86" fill-opacity="0.24"/><circle cx="139.5" cy="112.9" r="0.85" fill-opacity="0.84"/><circle cx="126.4" cy="159.4" r="0.87" fill-opacity="0.84"/><circle cx="119.5" cy="84.1" r="0.77" fill-opacity="0.94"/><circle cx="142.1" cy="48.4" r="1.01" fill-opacity="0.88"/><circle cx="119.1" cy="40.1" r="0.48" fill-opacity="0.31"/><circle cx="169.9" cy="142.3" r="0.93" fill-opacity="0.81"/><circle cx="142.6" cy="35.7" r="0.81" fill-opacity="0.95"/><circle cx="34.3" cy="195.7" r="0.98" fill-opacity="0.82"/><circle cx="200.3" cy="155.6" r="0.85" fill-opacity="0.88"/><circle cx="49.4" cy="101.4" r="0.45" fill-opacity="0.91"/><circle cx="51.2" cy="12.5" r="0.93" fill-opacity="0.87"/><circle cx="140.7" cy="121.5" r="0.84" fill-opacity="0.22"/><circle cx="165.4" cy="2.5" r="0.53" fill-opacity="0.20"/><circle cx="44.2" cy="129.3" r="0.81" fill-opacity="0.32"/><circle cx="75.9" cy="158.7" r="0.78" fill-opacity="0.27"/><circle cx="67.7" cy="19.3" r="0.98" fill-opacity="0.18"/><circle cx="84.8" cy="124.9" r="0.95" fill-opacity="0.36"/><circle cx="6.5" cy="167.0" r="1.03" fill-opacity="0.96"/><circle cx="180.2" cy="53.5" r="0.97" fill-opacity="0.77"/><circle cx="166.5" cy="91.6" r="0.68" fill-opacity="0.82"/><circle cx="31.1" cy="118.6" r="0.85" fill-opacity="0.91"/><circle cx="139.9" cy="155.5" r="0.47" fill-opacity="0.89"/><circle cx="209.6" cy="22.9" r="0.93" fill-opacity="0.20"/><circle cx="97.9" cy="53.7" r="0.84" fill-opacity="0.33"/><circle cx="115.3" cy="186.7" r="1.04" fill-opacity="0.80"/><circle cx="15.6" cy="142.2" r="0.61" fill-opacity="0.76"/><circle cx="110.1" cy="134.7" r="0.48" fill-opacity="0.98"/><circle cx="31.8" cy="173.3" r="0.56" fill-opacity="0.85"/><circle cx="47.7" cy="102.7" r="1.02" fill-opacity="0.21"/><circle cx="51.9" cy="164.9" r="0.92" fill-opacity="0.86"/><circle cx="139.8" cy="71.7" r="0.63" fill-opacity="0.24"/><circle cx="4.0" cy="21.5" r="1.02" fill-opacity="0.15"/><circle cx="28.7" cy="187.6" r="1.04" fill-opacity="0.18"/><circle cx="55.2" cy="119.1" r="0.92" fill-opacity="0.92"/><circle cx="22.4" cy="209.1" r="0.80" fill-opacity="0.24"/><circle cx="53.0" cy="29.4" r="0.60" fill-opacity="0.90"/><circle cx="96.4" cy="139.9" r="0.83" fill-opacity="0.87"/><circle cx="197.2" cy="166.6" r="0.55" fill-opacity="0.95"/><circle cx="131.2" cy="189.9" r="0.51" fill-opacity="0.28"/><circle cx="154.5" cy="18.1" r="0.53" fill-opacity="0.90"/><circle cx="123.6" cy="98.3" r="0.46" fill-opacity="0.21"/><circle cx="15.6" cy="142.3" r="0.56" fill-opacity="0.37"/><circle cx="213.9" cy="132.5" r="0.87" fill-opacity="0.39"/><circle cx="64.6" cy="116.5" r="0.87" fill-opacity="0.77"/><circle cx="95.6" cy="129.0" r="0.95" fill-opacity="0.16"/><circle cx="196.1" cy="65.1" r="0.60" fill-opacity="0.92"/><circle cx="74.6" cy="145.2" r="0.48" fill-opacity="0.92"/><circle cx="69.1" cy="134.7" r="0.78" fill-opacity="0.18"/><circle cx="125.4" cy="148.2" r="0.88" fill-opacity="0.78"/><circle cx="92.8" cy="50.5" r="0.65" fill-opacity="0.92"/><circle cx="48.6" cy="1.0" r="0.86" fill-opacity="0.34"/><circle cx="79.4" cy="156.4" r="1.02" fill-opacity="0.37"/><circle cx="145.6" cy="34.7" r="0.53" fill-opacity="0.21"/><circle cx="126.8" cy="201.5" r="0.78" fill-opacity="0.18"/><circle cx="196.4" cy="183.5" r="0.79" fill-opacity="0.93"/><circle cx="60.9" cy="207.3" r="0.49" fill-opacity="0.81"/><circle cx="24.7" cy="122.2" r="1.01" fill-opacity="0.91"/><circle cx="156.1" cy="148.5" r="0.46" fill-opacity="0.99"/><circle cx="67.0" cy="160.1" r="0.99" fill-opacity="0.34"/><circle cx="113.0" cy="116.4" r="0.67" fill-opacity="0.28"/><circle cx="177.7" cy="147.1" r="0.98" fill-opacity="0.85"/><circle cx="144.4" cy="36.5" r="0.83" fill-opacity="0.18"/><circle cx="27.9" cy="187.6" r="1.01" fill-opacity="1.00"/><circle cx="55.5" cy="65.8" r="0.81" fill-opacity="0.90"/><circle cx="203.0" cy="33.1" r="0.51" fill-opacity="0.81"/><circle cx="130.7" cy="155.4" r="0.67" fill-opacity="0.26"/><circle cx="50.7" cy="190.5" r="0.68" fill-opacity="0.35"/><circle cx="151.1" cy="116.5" r="0.79" fill-opacity="0.82"/><circle cx="85.2" cy="148.1" r="0.48" fill-opacity="0.84"/><circle cx="131.5" cy="45.0" r="0.85" fill-opacity="0.98"/><circle cx="47.2" cy="198.0" r="1.05" fill-opacity="0.86"/><circle cx="9.6" cy="189.3" r="0.66" fill-opacity="0.19"/><circle cx="211.7" cy="132.9" r="0.88" fill-opacity="0.97"/><circle cx="69.7" cy="47.8" r="0.97" fill-opacity="0.84"/><circle cx="12.5" cy="169.1" r="0.63" fill-opacity="0.85"/><circle cx="80.8" cy="148.6" r="0.84" fill-opacity="0.81"/><circle cx="94.0" cy="211.7" r="0.67" fill-opacity="0.37"/><circle cx="32.0" cy="136.5" r="1.00" fill-opacity="0.31"/><circle cx="64.3" cy="178.2" r="0.57" fill-opacity="0.98"/><circle cx="115.7" cy="99.6" r="0.83" fill-opacity="0.36"/><circle cx="80.8" cy="99.0" r="0.46" fill-opacity="0.19"/><circle cx="128.2" cy="44.7" r="0.74" fill-opacity="0.17"/><circle cx="48.2" cy="136.1" r="0.55" fill-opacity="0.88"/><circle cx="155.0" cy="167.0" r="0.60" fill-opacity="0.99"/><circle cx="51.1" cy="175.0" r="0.84" fill-opacity="0.31"/><circle cx="114.1" cy="2.0" r="0.52" fill-opacity="0.85"/><circle cx="175.2" cy="77.4" r="0.64" fill-opacity="0.25"/><circle cx="86.2" cy="97.7" r="0.73" fill-opacity="0.99"/><circle cx="130.1" cy="7.7" r="0.48" fill-opacity="0.92"/><circle cx="106.7" cy="212.2" r="0.57" fill-opacity="0.33"/><circle cx="89.7" cy="214.6" r="0.84" fill-opacity="0.27"/><circle cx="71.1" cy="169.2" r="0.88" fill-opacity="0.87"/><circle cx="38.3" cy="105.6" r="0.80" fill-opacity="0.30"/><circle cx="144.5" cy="100.4" r="0.64" fill-opacity="0.31"/><circle cx="45.5" cy="192.5" r="0.69" fill-opacity="0.80"/><circle cx="35.2" cy="29.6" r="0.75" fill-opacity="0.84"/><circle cx="46.8" cy="70.3" r="0.82" fill-opacity="0.24"/><circle cx="120.7" cy="80.4" r="0.94" fill-opacity="0.86"/><circle cx="123.6" cy="137.1" r="0.69" fill-opacity="0.84"/><circle cx="8.7" cy="176.0" r="0.65" fill-opacity="0.38"/><circle cx="206.4" cy="137.1" r="0.58" fill-opacity="0.28"/><circle cx="214.0" cy="101.7" r="0.89" fill-opacity="0.82"/><circle cx="45.3" cy="108.4" r="1.00" fill-opacity="0.30"/><circle cx="23.0" cy="157.5" r="0.85" fill-opacity="0.78"/><circle cx="171.5" cy="150.1" r="0.85" fill-opacity="0.84"/><circle cx="63.7" cy="102.9" r="0.55" fill-opacity="0.97"/><circle cx="54.2" cy="201.5" r="0.65" fill-opacity="0.82"/><circle cx="83.3" cy="162.7" r="0.78" fill-opacity="0.84"/><circle cx="41.8" cy="22.5" r="0.94" fill-opacity="0.84"/><circle cx="8.4" cy="144.2" r="0.91" fill-opacity="0.76"/><circle cx="203.4" cy="99.3" r="0.50" fill-opacity="0.76"/><circle cx="10.1" cy="104.9" r="0.75" fill-opacity="0.96"/><circle cx="135.4" cy="67.0" r="0.67" fill-opacity="1.00"/><circle cx="149.1" cy="27.2" r="1.01" fill-opacity="0.38"/><circle cx="118.5" cy="205.9" r="0.47" fill-opacity="0.99"/><circle cx="29.9" cy="179.3" r="0.69" fill-opacity="0.24"/><circle cx="158.3" cy="208.7" r="0.92" fill-opacity="0.94"/><circle cx="105.5" cy="98.3" r="0.68" fill-opacity="0.82"/><circle cx="117.8" cy="78.0" r="0.56" fill-opacity="0.37"/><circle cx="35.0" cy="179.4" r="0.46" fill-opacity="0.85"/><circle cx="131.9" cy="81.5" r="0.57" fill-opacity="0.78"/><circle cx="151.6" cy="11.8" r="0.74" fill-opacity="0.36"/><circle cx="124.7" cy="134.0" r="0.63" fill-opacity="0.93"/><circle cx="106.5" cy="49.5" r="0.72" fill-opacity="0.82"/><circle cx="145.9" cy="169.6" r="0.72" fill-opacity="0.90"/><circle cx="8.9" cy="191.6" r="1.04" fill-opacity="0.94"/><circle cx="177.2" cy="9.2" r="0.45" fill-opacity="0.35"/><circle cx="155.0" cy="90.1" r="0.48" fill-opacity="0.94"/><circle cx="101.5" cy="201.9" r="0.85" fill-opacity="0.33"/><circle cx="109.1" cy="194.0" r="1.05" fill-opacity="0.96"/><circle cx="190.3" cy="52.2" r="0.46" fill-opacity="0.76"/><circle cx="118.7" cy="191.3" r="0.97" fill-opacity="0.77"/><circle cx="65.9" cy="88.1" r="0.50" fill-opacity="0.87"/><circle cx="166.9" cy="148.3" r="0.52" fill-opacity="0.28"/><circle cx="62.0" cy="125.8" r="0.59" fill-opacity="0.26"/><circle cx="87.3" cy="31.5" r="0.48" fill-opacity="0.25"/><circle cx="134.0" cy="64.0" r="0.74" fill-opacity="0.40"/><circle cx="118.1" cy="97.9" r="0.82" fill-opacity="0.80"/><circle cx="28.4" cy="113.3" r="0.53" fill-opacity="0.82"/><circle cx="126.8" cy="92.9" r="0.88" fill-opacity="0.21"/><circle cx="108.0" cy="64.3" r="1.04" fill-opacity="0.79"/><circle cx="89.0" cy="46.8" r="0.72" fill-opacity="0.37"/><circle cx="204.4" cy="18.5" r="0.46" fill-opacity="0.25"/><circle cx="68.1" cy="113.8" r="0.55" fill-opacity="0.37"/><circle cx="48.5" cy="180.9" r="0.84" fill-opacity="0.23"/><circle cx="151.4" cy="27.9" r="1.04" fill-opacity="0.80"/><circle cx="152.9" cy="133.5" r="0.56" fill-opacity="0.79"/><circle cx="64.3" cy="148.3" r="0.49" fill-opacity="0.29"/><circle cx="199.7" cy="89.9" r="0.72" fill-opacity="0.94"/><circle cx="190.6" cy="48.3" r="0.88" fill-opacity="0.22"/><circle cx="117.9" cy="208.7" r="0.88" fill-opacity="0.78"/><circle cx="4.5" cy="99.3" r="0.61" fill-opacity="0.30"/><circle cx="53.9" cy="67.9" r="0.65" fill-opacity="0.39"/><circle cx="40.4" cy="47.6" r="0.83" fill-opacity="0.30"/><circle cx="107.1" cy="202.4" r="0.52" fill-opacity="0.89"/><circle cx="119.5" cy="149.4" r="0.94" fill-opacity="0.37"/><circle cx="76.2" cy="116.3" r="0.71" fill-opacity="0.26"/><circle cx="91.0" cy="142.2" r="0.50" fill-opacity="0.20"/><circle cx="81.9" cy="29.3" r="0.59" fill-opacity="0.30"/><circle cx="197.6" cy="160.0" r="0.49" fill-opacity="0.99"/><circle cx="78.4" cy="39.1" r="0.75" fill-opacity="0.83"/><circle cx="22.5" cy="26.1" r="0.69" fill-opacity="0.26"/><circle cx="26.0" cy="179.6" r="0.65" fill-opacity="0.34"/><circle cx="179.5" cy="207.6" r="0.95" fill-opacity="0.26"/><circle cx="158.6" cy="15.8" r="0.50" fill-opacity="0.31"/><circle cx="88.7" cy="42.2" r="0.75" fill-opacity="0.23"/><circle cx="20.1" cy="122.9" r="0.75" fill-opacity="0.88"/><circle cx="25.2" cy="150.0" r="0.96" fill-opacity="0.19"/><circle cx="62.7" cy="170.6" r="0.63" fill-opacity="0.20"/><circle cx="121.5" cy="116.8" r="0.58" fill-opacity="0.37"/><circle cx="202.5" cy="117.0" r="0.85" fill-opacity="0.91"/><circle cx="70.8" cy="153.0" r="0.59" fill-opacity="0.76"/><circle cx="7.3" cy="157.5" r="0.47" fill-opacity="0.35"/><circle cx="2.7" cy="140.1" r="0.50" fill-opacity="0.85"/><circle cx="35.2" cy="159.4" r="0.51" fill-opacity="0.83"/><circle cx="70.5" cy="83.3" r="0.76" fill-opacity="0.37"/><circle cx="8.7" cy="94.0" r="0.80" fill-opacity="0.75"/><circle cx="141.2" cy="70.0" r="0.93" fill-opacity="0.26"/><circle cx="113.4" cy="200.2" r="0.93" fill-opacity="0.96"/><circle cx="18.1" cy="101.2" r="0.47" fill-opacity="0.76"/><circle cx="7.4" cy="206.4" r="0.64" fill-opacity="0.29"/><circle cx="10.0" cy="44.9" r="0.66" fill-opacity="0.87"/><circle cx="39.5" cy="186.0" r="0.55" fill-opacity="0.93"/><circle cx="196.1" cy="156.8" r="0.92" fill-opacity="0.21"/><circle cx="66.8" cy="185.6" r="0.72" fill-opacity="0.16"/><circle cx="183.3" cy="45.6" r="0.50" fill-opacity="0.27"/><circle cx="90.4" cy="213.6" r="0.89" fill-opacity="0.21"/><circle cx="17.9" cy="206.0" r="0.87" fill-opacity="0.84"/><circle cx="123.9" cy="197.7" r="0.66" fill-opacity="0.33"/><circle cx="208.9" cy="165.7" r="0.86" fill-opacity="0.21"/><circle cx="163.1" cy="28.2" r="0.49" fill-opacity="0.81"/><circle cx="43.6" cy="210.3" r="0.51" fill-opacity="0.85"/><circle cx="203.6" cy="103.1" r="0.81" fill-opacity="0.94"/><circle cx="54.8" cy="74.5" r="0.50" fill-opacity="0.28"/><circle cx="80.8" cy="124.8" r="0.81" fill-opacity="0.92"/><circle cx="158.4" cy="162.9" r="0.74" fill-opacity="0.27"/><circle cx="99.1" cy="62.4" r="0.96" fill-opacity="0.77"/><circle cx="2.2" cy="94.6" r="0.45" fill-opacity="0.97"/><circle cx="59.0" cy="88.4" r="0.51" fill-opacity="0.84"/><circle cx="212.4" cy="130.3" r="0.57" fill-opacity="0.77"/><circle cx="132.9" cy="78.6" r="0.62" fill-opacity="0.77"/><circle cx="159.7" cy="143.1" r="1.05" fill-opacity="0.89"/><circle cx="85.7" cy="19.7" r="0.47" fill-opacity="0.79"/><circle cx="102.6" cy="46.4" r="0.89" fill-opacity="0.80"/><circle cx="56.4" cy="70.0" r="0.52" fill-opacity="0.88"/><circle cx="87.9" cy="147.3" r="0.57" fill-opacity="0.78"/><circle cx="34.2" cy="118.8" r="0.52" fill-opacity="0.39"/><circle cx="72.5" cy="150.3" r="0.68" fill-opacity="0.92"/><circle cx="147.2" cy="6.0" r="0.64" fill-opacity="0.40"/><circle cx="192.0" cy="99.7" r="0.52" fill-opacity="0.90"/><circle cx="183.6" cy="57.2" r="0.95" fill-opacity="0.24"/><circle cx="26.3" cy="162.8" r="0.97" fill-opacity="0.22"/><circle cx="70.3" cy="65.8" r="0.69" fill-opacity="0.20"/><circle cx="63.8" cy="210.1" r="0.54" fill-opacity="0.81"/><circle cx="167.8" cy="66.1" r="0.47" fill-opacity="0.85"/><circle cx="37.7" cy="54.6" r="0.56" fill-opacity="0.33"/><circle cx="114.3" cy="104.0" r="0.89" fill-opacity="0.78"/><circle cx="213.1" cy="133.8" r="1.00" fill-opacity="0.94"/><circle cx="134.3" cy="11.3" r="0.69" fill-opacity="0.82"/><circle cx="96.7" cy="200.7" r="0.80" fill-opacity="0.99"/><circle cx="11.2" cy="156.2" r="0.88" fill-opacity="0.94"/><circle cx="134.2" cy="52.7" r="0.74" fill-opacity="0.83"/><circle cx="122.4" cy="167.9" r="0.85" fill-opacity="0.82"/><circle cx="186.5" cy="77.3" r="0.73" fill-opacity="0.95"/><circle cx="138.3" cy="10.2" r="0.82" fill-opacity="0.77"/><circle cx="53.2" cy="135.5" r="0.52" fill-opacity="0.86"/><circle cx="198.0" cy="83.2" r="0.92" fill-opacity="0.91"/><circle cx="176.9" cy="193.6" r="0.78" fill-opacity="0.32"/><circle cx="52.6" cy="196.3" r="0.57" fill-opacity="0.97"/><circle cx="125.8" cy="87.0" r="0.71" fill-opacity="0.85"/><circle cx="65.7" cy="123.1" r="0.92" fill-opacity="0.98"/><circle cx="107.8" cy="82.4" r="0.72" fill-opacity="0.95"/><circle cx="180.9" cy="87.2" r="0.83" fill-opacity="0.19"/><circle cx="77.0" cy="31.6" r="0.52" fill-opacity="0.91"/><circle cx="113.8" cy="155.0" r="0.64" fill-opacity="0.89"/><circle cx="136.0" cy="4.1" r="0.74" fill-opacity="0.76"/><circle cx="80.0" cy="145.1" r="0.79" fill-opacity="0.86"/><circle cx="36.9" cy="165.8" r="0.47" fill-opacity="0.17"/><circle cx="12.6" cy="176.4" r="0.54" fill-opacity="0.38"/><circle cx="122.5" cy="52.7" r="0.94" fill-opacity="0.94"/><circle cx="33.1" cy="194.5" r="0.65" fill-opacity="0.95"/><circle cx="212.4" cy="66.0" r="0.86" fill-opacity="0.20"/><circle cx="25.6" cy="138.9" r="0.65" fill-opacity="0.19"/><circle cx="142.0" cy="202.4" r="0.50" fill-opacity="0.19"/><circle cx="186.6" cy="64.4" r="0.55" fill-opacity="0.25"/><circle cx="110.8" cy="162.7" r="0.47" fill-opacity="0.24"/><circle cx="183.4" cy="151.9" r="0.68" fill-opacity="0.86"/><circle cx="162.8" cy="61.4" r="0.57" fill-opacity="0.94"/><circle cx="16.0" cy="174.5" r="0.92" fill-opacity="0.24"/><circle cx="46.5" cy="191.2" r="0.48" fill-opacity="0.93"/><circle cx="173.9" cy="158.0" r="0.88" fill-opacity="0.97"/><circle cx="152.0" cy="65.7" r="0.85" fill-opacity="0.34"/><circle cx="203.5" cy="165.4" r="0.74" fill-opacity="0.85"/><circle cx="10.7" cy="167.1" r="0.73" fill-opacity="0.32"/><circle cx="105.7" cy="204.0" r="0.56" fill-opacity="0.36"/><circle cx="174.7" cy="53.8" r="0.65" fill-opacity="0.24"/><circle cx="18.6" cy="55.1" r="0.92" fill-opacity="0.34"/><circle cx="213.5" cy="119.3" r="0.57" fill-opacity="0.82"/><circle cx="79.4" cy="173.3" r="0.82" fill-opacity="0.76"/><circle cx="42.7" cy="7.8" r="0.90" fill-opacity="0.79"/><circle cx="2.0" cy="79.2" r="1.01" fill-opacity="0.40"/><circle cx="41.8" cy="108.8" r="0.48" fill-opacity="0.40"/><circle cx="28.4" cy="135.4" r="0.77" fill-opacity="0.92"/><circle cx="120.4" cy="197.4" r="0.51" fill-opacity="0.86"/><circle cx="118.1" cy="79.3" r="0.98" fill-opacity="0.25"/><circle cx="33.6" cy="209.4" r="1.02" fill-opacity="0.84"/><circle cx="134.9" cy="178.2" r="0.48" fill-opacity="0.15"/><circle cx="100.7" cy="101.4" r="0.51" fill-opacity="0.31"/><circle cx="122.2" cy="38.3" r="0.72" fill-opacity="0.19"/><circle cx="159.5" cy="193.0" r="0.91" fill-opacity="0.26"/><circle cx="19.9" cy="162.8" r="0.82" fill-opacity="0.28"/><circle cx="63.7" cy="101.6" r="0.65" fill-opacity="0.91"/><circle cx="123.8" cy="83.8" r="0.81" fill-opacity="0.27"/><circle cx="141.2" cy="202.6" r="0.93" fill-opacity="0.24"/><circle cx="148.3" cy="80.9" r="1.00" fill-opacity="0.38"/><circle cx="24.3" cy="111.8" r="0.53" fill-opacity="0.79"/><circle cx="100.6" cy="130.6" r="0.96" fill-opacity="0.30"/><circle cx="94.3" cy="127.1" r="0.84" fill-opacity="0.99"/><circle cx="134.7" cy="113.0" r="0.77" fill-opacity="0.28"/><circle cx="114.4" cy="189.9" r="0.71" fill-opacity="0.97"/><circle cx="55.1" cy="48.7" r="0.76" fill-opacity="0.75"/><circle cx="70.5" cy="108.0" r="0.73" fill-opacity="0.32"/><circle cx="37.7" cy="103.8" r="0.85" fill-opacity="0.18"/><circle cx="173.7" cy="109.1" r="1.00" fill-opacity="0.89"/><circle cx="128.4" cy="205.7" r="0.59" fill-opacity="0.77"/><circle cx="189.4" cy="139.3" r="0.45" fill-opacity="0.29"/><circle cx="172.4" cy="161.3" r="0.47" fill-opacity="0.77"/><circle cx="2.5" cy="50.6" r="1.00" fill-opacity="0.78"/><circle cx="143.6" cy="211.1" r="1.01" fill-opacity="0.22"/><circle cx="209.6" cy="17.4" r="0.98" fill-opacity="0.97"/><circle cx="119.6" cy="36.3" r="0.80" fill-opacity="0.28"/><circle cx="204.3" cy="25.8" r="0.80" fill-opacity="0.23"/><circle cx="10.7" cy="163.3" r="0.69" fill-opacity="0.79"/><circle cx="92.3" cy="141.0" r="0.65" fill-opacity="0.16"/><circle cx="61.5" cy="70.8" r="1.01" fill-opacity="0.78"/><circle cx="114.0" cy="68.7" r="0.77" fill-opacity="0.16"/><circle cx="50.0" cy="205.5" r="0.62" fill-opacity="0.87"/><circle cx="94.1" cy="99.0" r="0.84" fill-opacity="0.78"/><circle cx="142.0" cy="19.0" r="0.50" fill-opacity="0.80"/><circle cx="113.3" cy="163.3" r="0.86" fill-opacity="0.88"/><circle cx="143.5" cy="23.7" r="0.61" fill-opacity="0.84"/><circle cx="19.6" cy="145.4" r="0.87" fill-opacity="0.82"/><circle cx="178.6" cy="200.7" r="0.74" fill-opacity="0.87"/><circle cx="144.1" cy="94.5" r="0.97" fill-opacity="0.28"/><circle cx="15.8" cy="155.9" r="0.90" fill-opacity="0.26"/><circle cx="60.6" cy="202.6" r="1.04" fill-opacity="0.32"/><circle cx="187.2" cy="55.0" r="0.80" fill-opacity="0.83"/><circle cx="122.9" cy="108.1" r="0.95" fill-opacity="0.76"/><circle cx="136.0" cy="189.7" r="0.85" fill-opacity="0.15"/><circle cx="45.3" cy="199.3" r="0.89" fill-opacity="0.93"/><circle cx="159.1" cy="43.2" r="0.99" fill-opacity="0.23"/><circle cx="54.2" cy="147.3" r="0.64" fill-opacity="0.99"/><circle cx="103.8" cy="60.8" r="0.93" fill-opacity="0.88"/><circle cx="154.0" cy="82.5" r="1.01" fill-opacity="0.87"/><circle cx="76.9" cy="114.5" r="1.04" fill-opacity="0.18"/><circle cx="174.7" cy="178.6" r="0.54" fill-opacity="0.36"/><circle cx="191.9" cy="145.9" r="0.62" fill-opacity="0.25"/><circle cx="22.4" cy="31.3" r="0.70" fill-opacity="0.81"/><circle cx="88.3" cy="62.4" r="0.68" fill-opacity="0.77"/><circle cx="137.9" cy="128.6" r="1.01" fill-opacity="0.84"/><circle cx="173.9" cy="155.0" r="0.47" fill-opacity="0.81"/><circle cx="152.9" cy="167.9" r="0.99" fill-opacity="0.22"/><circle cx="123.8" cy="24.8" r="0.50" fill-opacity="0.91"/><circle cx="10.9" cy="153.5" r="1.01" fill-opacity="0.40"/><circle cx="157.8" cy="91.1" r="1.00" fill-opacity="0.30"/><circle cx="51.5" cy="144.7" r="0.74" fill-opacity="0.95"/><circle cx="20.5" cy="71.2" r="0.55" fill-opacity="0.94"/><circle cx="22.5" cy="172.6" r="0.56" fill-opacity="0.84"/><circle cx="181.1" cy="58.6" r="0.61" fill-opacity="0.35"/><circle cx="55.6" cy="34.2" r="0.96" fill-opacity="0.81"/><circle cx="40.2" cy="176.3" r="0.77" fill-opacity="1.00"/><circle cx="176.7" cy="211.2" r="0.97" fill-opacity="0.35"/><circle cx="24.9" cy="189.8" r="0.90" fill-opacity="0.87"/><circle cx="94.2" cy="63.1" r="1.03" fill-opacity="0.76"/><circle cx="24.8" cy="205.8" r="0.85" fill-opacity="0.21"/><circle cx="176.9" cy="160.5" r="0.55" fill-opacity="0.94"/><circle cx="54.3" cy="177.1" r="0.78" fill-opacity="0.29"/><circle cx="164.3" cy="9.7" r="0.89" fill-opacity="0.78"/><circle cx="83.6" cy="156.9" r="0.66" fill-opacity="0.34"/><circle cx="86.3" cy="202.0" r="1.05" fill-opacity="0.81"/><circle cx="208.2" cy="151.2" r="0.58" fill-opacity="0.95"/><circle cx="111.2" cy="205.2" r="1.01" fill-opacity="0.87"/><circle cx="209.5" cy="145.9" r="0.74" fill-opacity="0.96"/><circle cx="39.4" cy="193.4" r="0.96" fill-opacity="0.26"/><circle cx="76.4" cy="147.6" r="0.77" fill-opacity="0.27"/><circle cx="52.4" cy="194.3" r="0.78" fill-opacity="0.37"/><circle cx="142.9" cy="34.9" r="0.87" fill-opacity="0.32"/><circle cx="112.3" cy="72.9" r="0.76" fill-opacity="0.21"/><circle cx="9.7" cy="169.2" r="0.72" fill-opacity="0.23"/><circle cx="62.6" cy="39.2" r="0.52" fill-opacity="0.20"/><circle cx="142.0" cy="95.1" r="0.85" fill-opacity="0.79"/><circle cx="95.8" cy="126.8" r="1.03" fill-opacity="0.91"/><circle cx="150.7" cy="11.6" r="1.02" fill-opacity="0.99"/><circle cx="134.3" cy="184.9" r="0.48" fill-opacity="0.36"/><circle cx="11.4" cy="43.4" r="0.71" fill-opacity="0.88"/><circle cx="24.2" cy="133.4" r="0.81" fill-opacity="0.28"/><circle cx="131.0" cy="117.7" r="0.51" fill-opacity="0.93"/><circle cx="87.6" cy="101.6" r="0.88" fill-opacity="0.88"/><circle cx="111.2" cy="0.6" r="0.71" fill-opacity="0.83"/><circle cx="148.7" cy="140.2" r="0.53" fill-opacity="0.92"/><circle cx="156.4" cy="27.7" r="0.58" fill-opacity="0.90"/><circle cx="175.6" cy="142.9" r="0.46" fill-opacity="0.81"/><circle cx="203.3" cy="130.0" r="0.59" fill-opacity="0.95"/><circle cx="9.6" cy="88.4" r="0.87" fill-opacity="0.90"/><circle cx="148.7" cy="101.3" r="0.75" fill-opacity="0.84"/><circle cx="124.7" cy="199.1" r="0.59" fill-opacity="0.35"/><circle cx="19.3" cy="110.2" r="0.60" fill-opacity="0.90"/><circle cx="0.7" cy="200.5" r="0.73" fill-opacity="0.29"/><circle cx="19.6" cy="166.4" r="0.89" fill-opacity="0.92"/><circle cx="129.0" cy="118.6" r="1.04" fill-opacity="0.21"/><circle cx="160.7" cy="186.1" r="0.75" fill-opacity="0.77"/><circle cx="100.7" cy="113.5" r="0.72" fill-opacity="0.92"/><circle cx="127.0" cy="72.0" r="0.68" fill-opacity="0.17"/><circle cx="173.0" cy="164.8" r="0.94" fill-opacity="0.96"/><circle cx="34.3" cy="149.2" r="0.80" fill-opacity="0.82"/><circle cx="46.3" cy="61.4" r="1.00" fill-opacity="0.90"/><circle cx="124.0" cy="95.1" r="0.78" fill-opacity="0.93"/><circle cx="73.4" cy="18.9" r="0.57" fill-opacity="0.86"/><circle cx="146.8" cy="86.9" r="0.51" fill-opacity="0.26"/><circle cx="28.1" cy="59.5" r="0.77" fill-opacity="0.84"/><circle cx="79.3" cy="120.5" r="0.56" fill-opacity="0.33"/><circle cx="1.8" cy="12.8" r="0.87" fill-opacity="1.00"/><circle cx="159.4" cy="110.8" r="0.92" fill-opacity="0.17"/><circle cx="43.9" cy="194.8" r="0.92" fill-opacity="0.86"/><circle cx="213.4" cy="205.1" r="0.69" fill-opacity="0.81"/><circle cx="189.6" cy="135.1" r="0.78" fill-opacity="0.87"/><circle cx="14.6" cy="56.4" r="0.59" fill-opacity="0.37"/><circle cx="144.9" cy="82.1" r="0.76" fill-opacity="0.30"/><circle cx="57.0" cy="41.6" r="0.94" fill-opacity="0.99"/><circle cx="23.9" cy="59.4" r="0.83" fill-opacity="0.77"/><circle cx="127.7" cy="196.7" r="0.85" fill-opacity="0.88"/><circle cx="58.0" cy="161.4" r="1.02" fill-opacity="0.85"/><circle cx="16.4" cy="137.9" r="0.62" fill-opacity="0.79"/><circle cx="128.3" cy="195.8" r="0.84" fill-opacity="0.27"/><circle cx="87.7" cy="151.0" r="0.98" fill-opacity="0.79"/><circle cx="13.1" cy="99.8" r="0.65" fill-opacity="0.75"/><circle cx="152.4" cy="120.8" r="0.48" fill-opacity="0.33"/><circle cx="207.7" cy="35.0" r="0.63" fill-opacity="0.95"/><circle cx="82.2" cy="3.2" r="0.62" fill-opacity="0.23"/><circle cx="139.2" cy="202.6" r="0.62" fill-opacity="0.32"/><circle cx="169.3" cy="70.3" r="0.77" fill-opacity="0.36"/><circle cx="135.4" cy="108.0" r="0.79" fill-opacity="0.99"/><circle cx="189.9" cy="63.9" r="0.68" fill-opacity="0.86"/><circle cx="205.9" cy="102.8" r="0.64" fill-opacity="0.23"/><circle cx="16.8" cy="168.3" r="0.76" fill-opacity="0.76"/><circle cx="160.8" cy="3.6" r="0.89" fill-opacity="0.37"/><circle cx="185.2" cy="145.5" r="0.47" fill-opacity="0.22"/><circle cx="200.4" cy="208.2" r="0.95" fill-opacity="0.89"/><circle cx="116.8" cy="64.3" r="0.53" fill-opacity="0.87"/><circle cx="26.9" cy="157.2" r="0.99" fill-opacity="0.78"/><circle cx="115.6" cy="84.9" r="0.75" fill-opacity="0.81"/><circle cx="41.3" cy="38.9" r="0.79" fill-opacity="0.86"/><circle cx="103.7" cy="71.0" r="1.04" fill-opacity="0.82"/><circle cx="81.4" cy="130.7" r="0.99" fill-opacity="0.93"/><circle cx="134.4" cy="99.3" r="0.72" fill-opacity="0.16"/><circle cx="186.9" cy="9.9" r="0.57" fill-opacity="0.81"/><circle cx="26.0" cy="157.8" r="0.81" fill-opacity="0.83"/><circle cx="84.3" cy="134.1" r="0.47" fill-opacity="1.00"/><circle cx="16.1" cy="167.6" r="0.49" fill-opacity="0.29"/><circle cx="90.9" cy="44.8" r="0.59" fill-opacity="0.34"/><circle cx="128.9" cy="215.9" r="0.70" fill-opacity="0.30"/><circle cx="108.3" cy="83.8" r="0.87" fill-opacity="0.38"/><circle cx="177.7" cy="158.4" r="0.51" fill-opacity="0.80"/><circle cx="81.9" cy="178.0" r="0.96" fill-opacity="0.97"/><circle cx="189.4" cy="31.5" r="0.72" fill-opacity="0.24"/><circle cx="70.3" cy="141.7" r="0.57" fill-opacity="0.93"/><circle cx="154.3" cy="195.7" r="0.97" fill-opacity="0.30"/><circle cx="80.4" cy="64.0" r="0.86" fill-opacity="0.17"/><circle cx="215.9" cy="121.5" r="0.97" fill-opacity="0.94"/><circle cx="60.3" cy="215.2" r="1.03" fill-opacity="0.82"/><circle cx="117.1" cy="78.3" r="0.94" fill-opacity="0.19"/><circle cx="34.5" cy="116.9" r="0.66" fill-opacity="0.94"/><circle cx="127.9" cy="54.1" r="1.04" fill-opacity="0.80"/><circle cx="68.9" cy="195.8" r="0.90" fill-opacity="0.93"/><circle cx="111.9" cy="117.7" r="0.94" fill-opacity="0.85"/><circle cx="69.7" cy="25.6" r="0.67" fill-opacity="0.81"/><circle cx="133.9" cy="101.5" r="0.81" fill-opacity="0.86"/><circle cx="123.0" cy="42.5" r="0.82" fill-opacity="0.89"/><circle cx="72.8" cy="189.8" r="0.62" fill-opacity="0.27"/><circle cx="147.9" cy="201.6" r="0.74" fill-opacity="0.97"/><circle cx="108.2" cy="147.7" r="0.61" fill-opacity="0.94"/><circle cx="29.8" cy="38.6" r="0.62" fill-opacity="0.39"/><circle cx="212.2" cy="12.3" r="0.84" fill-opacity="0.81"/><circle cx="152.3" cy="21.1" r="0.46" fill-opacity="0.90"/><circle cx="143.0" cy="139.7" r="0.90" fill-opacity="0.82"/><circle cx="148.2" cy="179.2" r="0.74" fill-opacity="0.91"/><circle cx="212.6" cy="96.6" r="0.53" fill-opacity="0.97"/><circle cx="58.6" cy="140.6" r="0.74" fill-opacity="0.16"/><circle cx="26.1" cy="106.7" r="0.68" fill-opacity="0.84"/><circle cx="119.7" cy="71.2" r="0.97" fill-opacity="0.94"/><circle cx="105.0" cy="48.2" r="0.85" fill-opacity="0.86"/><circle cx="71.8" cy="131.7" r="0.58" fill-opacity="0.86"/><circle cx="41.8" cy="97.3" r="1.00" fill-opacity="0.32"/><circle cx="61.2" cy="168.4" r="0.97" fill-opacity="0.93"/><circle cx="51.8" cy="157.6" r="0.78" fill-opacity="0.93"/><circle cx="64.4" cy="34.1" r="0.50" fill-opacity="0.16"/><circle cx="185.0" cy="119.9" r="0.85" fill-opacity="0.95"/><circle cx="117.2" cy="66.1" r="0.70" fill-opacity="0.21"/><circle cx="203.3" cy="135.2" r="0.83" fill-opacity="0.28"/><circle cx="123.3" cy="64.3" r="0.51" fill-opacity="0.99"/><circle cx="3.6" cy="62.9" r="0.52" fill-opacity="0.95"/><circle cx="185.1" cy="141.0" r="0.54" fill-opacity="0.81"/><circle cx="118.4" cy="206.2" r="0.78" fill-opacity="0.97"/><circle cx="139.9" cy="14.4" r="0.88" fill-opacity="0.24"/><circle cx="123.2" cy="108.6" r="0.66" fill-opacity="0.17"/><circle cx="28.7" cy="133.2" r="0.51" fill-opacity="0.94"/><circle cx="201.2" cy="212.0" r="0.55" fill-opacity="0.77"/><circle cx="2.4" cy="161.5" r="0.64" fill-opacity="0.79"/><circle cx="73.4" cy="60.8" r="0.85" fill-opacity="0.16"/><circle cx="26.0" cy="165.1" r="0.65" fill-opacity="0.87"/><circle cx="55.6" cy="168.2" r="0.88" fill-opacity="0.81"/><circle cx="111.7" cy="199.8" r="0.99" fill-opacity="0.80"/><circle cx="126.7" cy="115.3" r="0.64" fill-opacity="0.75"/><circle cx="155.2" cy="94.8" r="0.71" fill-opacity="0.77"/><circle cx="200.0" cy="132.9" r="0.71" fill-opacity="0.84"/><circle cx="57.0" cy="52.9" r="0.71" fill-opacity="0.38"/><circle cx="189.8" cy="192.4" r="0.82" fill-opacity="0.80"/><circle cx="153.6" cy="209.7" r="0.95" fill-opacity="0.27"/><circle cx="176.2" cy="56.7" r="0.79" fill-opacity="0.24"/><circle cx="78.5" cy="62.8" r="0.69" fill-opacity="0.91"/></g></g><line x1="564.4" y1="253.2" x2="600" y2="253.2" stroke="#fff" stroke-width="1.6"/><line x1="564.4" y1="470" x2="600" y2="470" stroke="#fff" stroke-width="1.6"/><text x="818.5" y="27.6" font-size="37.5" font-weight="bold" fill="#231f20">b</text><text x="1096.5" y="90.2" font-size="21.5" font-weight="bold" text-anchor="middle" fill="#000">BT16</text><line x1="918.0" y1="119.0" x2="918.0" y2="357.7" stroke="#000" stroke-width="2.00"/><line x1="914.6" y1="357.7" x2="1274.6" y2="357.7" stroke="#000" stroke-width="2.00"/><line x1="914.0" y1="357.7" x2="918.0" y2="357.7" stroke="#000" stroke-width="2.00"/><text x="901.0" y="363.2" font-size="15.5" font-weight="bold" text-anchor="end" fill="#000">0</text><line x1="914.0" y1="298.3" x2="918.0" y2="298.3" stroke="#000" stroke-width="2.00"/><text x="901.0" y="303.8" font-size="15.5" font-weight="bold" text-anchor="end" fill="#000">200000</text><line x1="914.0" y1="238.8" x2="918.0" y2="238.8" stroke="#000" stroke-width="2.00"/><text x="901.0" y="244.3" font-size="15.5" font-weight="bold" text-anchor="end" fill="#000">400000</text><line x1="914.0" y1="179.4" x2="918.0" y2="179.4" stroke="#000" stroke-width="2.00"/><text x="901.0" y="184.9" font-size="15.5" font-weight="bold" text-anchor="end" fill="#000">600000</text><line x1="914.0" y1="120.0" x2="918.0" y2="120.0" stroke="#000" stroke-width="2.00"/><text x="901.0" y="125.5" font-size="15.5" font-weight="bold" text-anchor="end" fill="#000">800000</text><line x1="1020.6" y1="357.7" x2="1020.6" y2="362.5" stroke="#000" stroke-width="2.00"/><line x1="1173.0" y1="357.7" x2="1173.0" y2="362.5" stroke="#000" stroke-width="2.00"/><rect x="971.0" y="296.8" width="99.0" height="60.9" fill="#808080" stroke="#000" stroke-width="2.00"/><rect x="1123.0" y="191.3" width="99.5" height="166.4" fill="#ff94bf" stroke="#f0407f" stroke-width="2.00"/><line x1="1020.6" y1="270.0" x2="1020.6" y2="321.0" stroke="#000" stroke-width="2.00"/><line x1="995.0" y1="270.0" x2="1046.0" y2="270.0" stroke="#000" stroke-width="2.00"/><line x1="995.0" y1="321.0" x2="1046.0" y2="321.0" stroke="#000" stroke-width="2.00"/><line x1="1173.0" y1="177.7" x2="1173.0" y2="201.9" stroke="#f0407f" stroke-width="2.00"/><line x1="1147.8" y1="177.7" x2="1198.0" y2="177.7" stroke="#f0407f" stroke-width="2.00"/><line x1="1147.8" y1="201.9" x2="1198.0" y2="201.9" stroke="#f0407f" stroke-width="2.00"/><circle cx="1020.6" cy="264.0" r="3.4" fill="#fff" stroke="#000" stroke-width="2.00"/><circle cx="1020.6" cy="290.0" r="3.4" fill="#fff" stroke="#000" stroke-width="2.00"/><circle cx="1020.6" cy="304.5" r="3.4" fill="#fff" stroke="#000" stroke-width="2.00"/><circle cx="1020.6" cy="324.7" r="3.4" fill="#fff" stroke="#000" stroke-width="2.00"/><circle cx="1173.0" cy="178.3" r="3.4" fill="#fff" stroke="#f0407f" stroke-width="2.00"/><circle cx="1166.3" cy="186.0" r="3.4" fill="#fff" stroke="#f0407f" stroke-width="2.00"/><circle cx="1180.4" cy="188.4" r="3.4" fill="#fff" stroke="#f0407f" stroke-width="2.00"/><circle cx="1173.0" cy="206.3" r="3.4" fill="#fff" stroke="#f0407f" stroke-width="2.00"/><path d="M1020.6 257.4V155.5H1173V168" fill="none" stroke="#000" stroke-width="2.00"/><text x="1096.0" y="145.7" font-size="18.0" text-anchor="middle" fill="#000">0.001337</text><text x="0.0" y="0.0" font-size="18.0" font-weight="bold" text-anchor="middle" fill="#000" transform="translate(833,242) rotate(-90)">dsRNA CTCF</text><text x="0.0" y="0.0" font-size="16.3" font-weight="bold" text-anchor="end" fill="#000" transform="translate(1019.5,389.5) rotate(-45)">UNC2400</text><text x="0.0" y="0.0" font-size="16.3" font-weight="bold" text-anchor="end" fill="#000" transform="translate(1172,389.5) rotate(-45)">UNC1999</text><circle cx="1301.5" cy="137.0" r="3.4" fill="#fff" stroke="#000" stroke-width="2.00"/><circle cx="1301.0" cy="170.0" r="3.4" fill="#fff" stroke="#f0407f" stroke-width="2.00"/><text x="1329.0" y="137.5" font-size="18.0" fill="#000">UNC2400</text><text x="1329.0" y="172.5" font-size="18.0" fill="#000">UNC1999</text><text x="1447.0" y="29.0" font-size="38.0" font-weight="bold" fill="#231f20">c</text><text x="1653.5" y="23.0" font-size="21.0" font-weight="bold" text-anchor="middle" fill="#000">BT16</text><text x="1781.0" y="21.8" font-size="21.0" font-weight="bold" text-anchor="middle" fill="#000">CHLA02</text><text x="0.0" y="0.0" font-size="19.5" font-weight="bold" text-anchor="middle" fill="#000" letter-spacing="-9.6" transform="translate(1621.0,110.5) rotate(-45)">UNC2400</text><text x="0.0" y="0.0" font-size="19.5" font-weight="bold" text-anchor="middle" fill="#000" letter-spacing="-9.6" transform="translate(1621.0,110.5) rotate(-45)">UNC1999</text><text x="0.0" y="0.0" font-size="19.5" font-weight="bold" text-anchor="middle" fill="#000" letter-spacing="-9.6" transform="translate(1670.0,110.5) rotate(-45)">UNC2400</text><text x="0.0" y="0.0" font-size="19.5" font-weight="bold" text-anchor="middle" fill="#000" letter-spacing="-9.6" transform="translate(1670.0,110.5) rotate(-45)">UNC1999</text><text x="0.0" y="0.0" font-size="19.5" font-weight="bold" text-anchor="middle" fill="#000" letter-spacing="-9.6" transform="translate(1759.0,110.5) rotate(-45)">UNC2400</text><text x="0.0" y="0.0" font-size="19.5" font-weight="bold" text-anchor="middle" fill="#000" letter-spacing="-9.6" transform="translate(1759.0,110.5) rotate(-45)">UNC1999</text><text x="0.0" y="0.0" font-size="19.5" font-weight="bold" text-anchor="middle" fill="#000" letter-spacing="-9.6" transform="translate(1808.5,110.5) rotate(-45)">UNC2400</text><text x="0.0" y="0.0" font-size="19.5" font-weight="bold" text-anchor="middle" fill="#000" letter-spacing="-9.6" transform="translate(1808.5,110.5) rotate(-45)">UNC1999</text><g clip-path="url(#clipB1)"><rect x="1598.0" y="133.0" width="92.0" height="289.0" fill="#adadad" stroke="none" stroke-width="1.00"/><g filter="url(#bl6)"><rect x="1590.0" y="390.0" width="110.0" height="40.0" fill="#bdbdbd" stroke="none" stroke-width="1.00"/><rect x="1644.0" y="140.0" width="8.0" height="280.0" fill="#b9b9b9" stroke="none" stroke-width="1.00"/><rect x="1606.0" y="200.0" width="38.0" height="200.0" fill="#a6a6a6" stroke="none" stroke-width="1.00"/><rect x="1656.0" y="150.0" width="24.0" height="90.0" fill="#9a9a9a" stroke="none" stroke-width="1.00"/><rect x="1655.0" y="225.0" width="26.0" height="65.0" fill="#6e6e6e" stroke="none" stroke-width="1.00"/><ellipse cx="1626.0" cy="350.0" rx="17.0" ry="40.0" fill="#6a6a6a"/><ellipse cx="1625.0" cy="352.0" rx="11.0" ry="24.0" fill="#454545"/><ellipse cx="1667.0" cy="335.0" rx="17.0" ry="58.0" fill="#3a3a3a"/></g><g filter="url(#bl3)"><ellipse cx="1667.5" cy="323.0" rx="14.5" ry="39.0" fill="#000"/></g><ellipse cx="1658.0" cy="258.0" rx="3.5" ry="2.8" fill="#cfcfcf" filter="url(#bl1)"/></g><rect x="1598.0" y="133.1" width="91.9" height="289.4" fill="none" stroke="#111" stroke-width="3.80" rx="1.5"/><g clip-path="url(#clipB2)"><rect x="1731.5" y="133.0" width="93.0" height="289.0" fill="#b3b3b3" stroke="none" stroke-width="1.00"/><g filter="url(#bl6)"><rect x="1774.0" y="140.0" width="16.0" height="280.0" fill="#bebebe" stroke="none" stroke-width="1.00"/><rect x="1732.0" y="395.0" width="30.0" height="30.0" fill="#c8c8c8" stroke="none" stroke-width="1.00"/><ellipse cx="1760.0" cy="160.0" rx="15.0" ry="22.0" fill="#a2a2a2"/><ellipse cx="1805.0" cy="160.0" rx="12.0" ry="22.0" fill="#a6a6a6"/><ellipse cx="1758.0" cy="345.0" rx="14.0" ry="40.0" fill="#a0a0a0"/><ellipse cx="1806.0" cy="340.0" rx="15.0" ry="48.0" fill="#5a5a5a"/></g><g filter="url(#bl4)"><ellipse cx="1806.0" cy="325.0" rx="10.0" ry="22.0" fill="#0c0c0c"/></g><rect x="1731.5" y="419.0" width="93.0" height="3.0" fill="#fff" stroke="none" stroke-width="1.00"/></g><rect x="1731.8" y="133.1" width="92.4" height="289.4" fill="none" stroke="#111" stroke-width="3.80" rx="1.5"/><g clip-path="url(#clipM1)"><rect x="1597.5" y="441.0" width="92.5" height="37.5" fill="#b8b8b8" stroke="none" stroke-width="1.00"/><g filter="url(#bl2)"><rect x="1597.0" y="439.0" width="39.0" height="20.8" fill="#cbcbcb" stroke="none" stroke-width="1.00"/><rect x="1597.0" y="459.8" width="39.0" height="20.8" fill="#b4b4b4" stroke="none" stroke-width="1.00"/><rect x="1650.0" y="439.0" width="40.0" height="20.8" fill="#c4c4c4" stroke="none" stroke-width="1.00"/><rect x="1650.0" y="459.8" width="40.0" height="20.8" fill="#a9a9a9" stroke="none" stroke-width="1.00"/><rect x="1637.0" y="438.0" width="13.0" height="43.5" fill="#dadada" stroke="none" stroke-width="1.00"/></g><rect x="1602.3" y="458.6" width="33.7" height="7.5" rx="3.8" fill="#0a0a0a" filter="url(#bl1)"/><rect x="1650.8" y="456.1" width="35.0" height="8.8" rx="4.4" fill="#050505" filter="url(#bl1)"/></g><g clip-path="url(#clipM2)"><rect x="1731.0" y="441.0" width="92.0" height="37.5" fill="#b8b8b8" stroke="none" stroke-width="1.00"/><g filter="url(#bl2)"><rect x="1731.0" y="439.0" width="39.0" height="20.8" fill="#cecece" stroke="none" stroke-width="1.00"/><rect x="1731.0" y="459.8" width="39.0" height="20.8" fill="#bdbdbd" stroke="none" stroke-width="1.00"/><rect x="1785.0" y="439.0" width="38.0" height="20.8" fill="#c6c6c6" stroke="none" stroke-width="1.00"/><rect x="1785.0" y="459.8" width="38.0" height="20.8" fill="#a8a8a8" stroke="none" stroke-width="1.00"/><rect x="1770.0" y="438.0" width="15.0" height="43.5" fill="#dadada" stroke="none" stroke-width="1.00"/></g><rect x="1738.8" y="457.4" width="31.1" height="4.2" rx="2.1" fill="#151515" filter="url(#bl1)"/><rect x="1785.4" y="454.7" width="34.3" height="8.8" rx="4.4" fill="#050505" filter="url(#bl1)"/></g><rect x="1731.0" y="476.5" width="92.0" height="2.0" fill="#fff" stroke="none" stroke-width="1.00"/><g clip-path="url(#clipV1)"><rect x="1597.5" y="495.5" width="92.5" height="35.0" fill="#b8b8b8" stroke="none" stroke-width="1.00"/><g filter="url(#bl2)"><rect x="1597.0" y="493.5" width="40.0" height="19.5" fill="#bcbcbc" stroke="none" stroke-width="1.00"/><rect x="1597.0" y="513.0" width="40.0" height="19.5" fill="#b0b0b0" stroke="none" stroke-width="1.00"/><rect x="1647.0" y="493.5" width="43.0" height="19.5" fill="#b2b2b2" stroke="none" stroke-width="1.00"/><rect x="1647.0" y="513.0" width="43.0" height="19.5" fill="#a8a8a8" stroke="none" stroke-width="1.00"/><rect x="1637.5" y="492.5" width="9.5" height="41.0" fill="#dadada" stroke="none" stroke-width="1.00"/></g><rect x="1602.3" y="506.5" width="34.9" height="6.2" rx="3.1" fill="#080808" filter="url(#bl1)"/><rect x="1647.6" y="505.7" width="35.6" height="5.0" rx="2.5" fill="#121212" filter="url(#bl1)"/></g><g clip-path="url(#clipV2)"><rect x="1731.0" y="495.5" width="92.0" height="35.0" fill="#b8b8b8" stroke="none" stroke-width="1.00"/><g filter="url(#bl2)"><rect x="1731.0" y="493.5" width="40.0" height="19.5" fill="#b6b6b6" stroke="none" stroke-width="1.00"/><rect x="1731.0" y="513.0" width="40.0" height="19.5" fill="#ababab" stroke="none" stroke-width="1.00"/><rect x="1782.0" y="493.5" width="41.0" height="19.5" fill="#b3b3b3" stroke="none" stroke-width="1.00"/><rect x="1782.0" y="513.0" width="41.0" height="19.5" fill="#a6a6a6" stroke="none" stroke-width="1.00"/><rect x="1771.0" y="492.5" width="11.0" height="41.0" fill="#dadada" stroke="none" stroke-width="1.00"/></g><rect x="1737.5" y="507.1" width="33.7" height="4.2" rx="2.1" fill="#5a5a5a" filter="url(#bl1)"/><rect x="1782.8" y="507.1" width="36.2" height="4.2" rx="2.1" fill="#555" filter="url(#bl1)"/></g><rect x="1597.7" y="441.2" width="92.2" height="37.1" fill="none" stroke="#111" stroke-width="3.90" rx="1.5"/><rect x="1597.7" y="495.9" width="92.2" height="34.4" fill="none" stroke="#111" stroke-width="3.90" rx="1.5"/><rect x="1731.3" y="441.2" width="91.7" height="37.1" fill="none" stroke="#111" stroke-width="3.90" rx="1.5"/><rect x="1731.3" y="495.9" width="91.7" height="34.4" fill="none" stroke="#111" stroke-width="3.90" rx="1.5"/><text x="1471.7" y="176.5" font-size="21.5" fill="#000" letter-spacing="-1">SDD–AGE</text><text x="1471.7" y="202.8" font-size="21.5" fill="#000" letter-spacing="-0.5">IB: MAVS</text><text x="1471.7" y="353.0" font-size="21.5" fill="#000" letter-spacing="-0.5">IB: MAVS</text><text x="1471.7" y="449.3" font-size="21.5" fill="#000" letter-spacing="-0.7">SDS–PAGE</text><text x="1471.7" y="475.6" font-size="21.5" fill="#000" letter-spacing="-0.5">IB: MAVS</text><text x="1471.7" y="506.4" font-size="21.5" fill="#000" letter-spacing="-0.7">SDS–PAGE</text><text x="1471.7" y="532.7" font-size="21.5" fill="#000" letter-spacing="-0.5">IB: VDAC</text><path d="M1842.4 246.5H1864.9V382H1842.4" fill="none" stroke="#222" stroke-width="3.00"/><text x="1871.0" y="313.9" font-size="18.0" fill="#000">MAVS</text><text x="1871.0" y="336.3" font-size="18.0" fill="#000">Aggregates</text><text x="1845.6" y="473.4" font-size="18.5" fill="#000">75 KDa</text><text x="1845.6" y="528.0" font-size="18.5" fill="#000">32 KDa</text><text x="0.0" y="599.3" font-size="38.0" font-weight="bold" fill="#231f20">d</text><line x1="91.3" y1="638.9" x2="91.3" y2="915.2" stroke="#000" stroke-width="2.20"/><line x1="88.5" y1="915.2" x2="504.3" y2="915.2" stroke="#000" stroke-width="2.20"/><line x1="86.5" y1="915.2" x2="91.3" y2="915.2" stroke="#000" stroke-width="2.20"/><text x="78.7" y="923.2" font-size="22.5" font-weight="bold" text-anchor="end" fill="#000" letter-spacing="-1">0</text><line x1="86.5" y1="860.1" x2="91.3" y2="860.1" stroke="#000" stroke-width="2.20"/><text x="78.7" y="868.1" font-size="22.5" font-weight="bold" text-anchor="end" fill="#000" letter-spacing="-1">10</text><line x1="86.5" y1="805.1" x2="91.3" y2="805.1" stroke="#000" stroke-width="2.20"/><text x="78.7" y="813.1" font-size="22.5" font-weight="bold" text-anchor="end" fill="#000" letter-spacing="-1">20</text><line x1="86.5" y1="750.0" x2="91.3" y2="750.0" stroke="#000" stroke-width="2.20"/><text x="78.7" y="758.0" font-size="22.5" font-weight="bold" text-anchor="end" fill="#000" letter-spacing="-1">30</text><line x1="86.5" y1="695.0" x2="91.3" y2="695.0" stroke="#000" stroke-width="2.20"/><text x="78.7" y="703.0" font-size="22.5" font-weight="bold" text-anchor="end" fill="#000" letter-spacing="-1">40</text><line x1="86.5" y1="639.9" x2="91.3" y2="639.9" stroke="#000" stroke-width="2.20"/><text x="78.7" y="647.9" font-size="22.5" font-weight="bold" text-anchor="end" fill="#000" letter-spacing="-1">50</text><line x1="140.8" y1="915.2" x2="140.8" y2="920.5" stroke="#000" stroke-width="2.20"/><line x1="245.9" y1="915.2" x2="245.9" y2="920.5" stroke="#000" stroke-width="2.20"/><line x1="351.3" y1="915.2" x2="351.3" y2="920.5" stroke="#000" stroke-width="2.20"/><line x1="456.3" y1="915.2" x2="456.3" y2="920.5" stroke="#000" stroke-width="2.20"/><circle cx="103.0" cy="909.7" r="3.3" fill="#fff" stroke="#000" stroke-width="2.00"/><circle cx="107.0" cy="909.7" r="3.3" fill="#fff" stroke="#000" stroke-width="2.00"/><circle cx="111.0" cy="909.7" r="3.3" fill="#fff" stroke="#000" stroke-width="2.00"/><rect x="125.1" y="828.2" width="11.8" height="87.0" fill="#ff94bf" stroke="#f0407f" stroke-width="2.00"/><line x1="131.0" y1="812.8" x2="131.0" y2="843.6" stroke="#f0407f" stroke-width="2.00"/><line x1="126.5" y1="812.8" x2="135.5" y2="812.8" stroke="#f0407f" stroke-width="2.00"/><line x1="126.5" y1="843.6" x2="135.5" y2="843.6" stroke="#f0407f" stroke-width="2.00"/><circle cx="131.0" cy="810.6" r="3.3" fill="#fff" stroke="#f0407f" stroke-width="2.00"/><circle cx="127.5" cy="821.6" r="3.3" fill="#fff" stroke="#f0407f" stroke-width="2.00"/><circle cx="134.5" cy="827.1" r="3.3" fill="#fff" stroke="#f0407f" stroke-width="2.00"/><circle cx="131.0" cy="832.6" r="3.3" fill="#fff" stroke="#f0407f" stroke-width="2.00"/><circle cx="148.6" cy="909.7" r="3.3" fill="#fff" stroke="#20a0a0" stroke-width="2.00"/><circle cx="152.6" cy="909.7" r="3.3" fill="#fff" stroke="#20a0a0" stroke-width="2.00"/><circle cx="156.6" cy="909.7" r="3.3" fill="#fff" stroke="#20a0a0" stroke-width="2.00"/><rect x="169.9" y="870.6" width="11.8" height="44.6" fill="#9a7fd0" stroke="#5c2a9d" stroke-width="2.00"/><line x1="175.8" y1="850.8" x2="175.8" y2="890.4" stroke="#5c2a9d" stroke-width="2.00"/><line x1="171.3" y1="850.8" x2="180.3" y2="850.8" stroke="#5c2a9d" stroke-width="2.00"/><line x1="171.3" y1="890.4" x2="180.3" y2="890.4" stroke="#5c2a9d" stroke-width="2.00"/><circle cx="175.8" cy="845.8" r="3.3" fill="#fff" stroke="#5c2a9d" stroke-width="2.00"/><circle cx="175.8" cy="861.2" r="3.3" fill="#fff" stroke="#5c2a9d" stroke-width="2.00"/><circle cx="172.3" cy="868.9" r="3.3" fill="#fff" stroke="#5c2a9d" stroke-width="2.00"/><circle cx="179.3" cy="871.2" r="3.3" fill="#fff" stroke="#5c2a9d" stroke-width="2.00"/><circle cx="208.1" cy="909.7" r="3.3" fill="#fff" stroke="#000" stroke-width="2.00"/><circle cx="212.1" cy="909.7" r="3.3" fill="#fff" stroke="#000" stroke-width="2.00"/><circle cx="216.1" cy="909.7" r="3.3" fill="#fff" stroke="#000" stroke-width="2.00"/><rect x="230.2" y="789.7" width="11.8" height="125.5" fill="#ff94bf" stroke="#f0407f" stroke-width="2.00"/><line x1="236.1" y1="758.3" x2="236.1" y2="821.0" stroke="#f0407f" stroke-width="2.00"/><line x1="231.6" y1="758.3" x2="240.6" y2="758.3" stroke="#f0407f" stroke-width="2.00"/><line x1="231.6" y1="821.0" x2="240.6" y2="821.0" stroke="#f0407f" stroke-width="2.00"/><circle cx="236.1" cy="755.5" r="3.3" fill="#fff" stroke="#f0407f" stroke-width="2.00"/><circle cx="236.1" cy="772.0" r="3.3" fill="#fff" stroke="#f0407f" stroke-width="2.00"/><circle cx="232.6" cy="805.1" r="3.3" fill="#fff" stroke="#f0407f" stroke-width="2.00"/><circle cx="239.6" cy="816.1" r="3.3" fill="#fff" stroke="#f0407f" stroke-width="2.00"/><circle cx="253.7" cy="909.7" r="3.3" fill="#fff" stroke="#20a0a0" stroke-width="2.00"/><circle cx="257.7" cy="909.7" r="3.3" fill="#fff" stroke="#20a0a0" stroke-width="2.00"/><circle cx="261.7" cy="909.7" r="3.3" fill="#fff" stroke="#20a0a0" stroke-width="2.00"/><rect x="275.0" y="853.5" width="11.8" height="61.7" fill="#9a7fd0" stroke="#5c2a9d" stroke-width="2.00"/><line x1="280.9" y1="832.6" x2="280.9" y2="874.5" stroke="#5c2a9d" stroke-width="2.00"/><line x1="276.4" y1="832.6" x2="285.4" y2="832.6" stroke="#5c2a9d" stroke-width="2.00"/><line x1="276.4" y1="874.5" x2="285.4" y2="874.5" stroke="#5c2a9d" stroke-width="2.00"/><circle cx="280.9" cy="828.2" r="3.3" fill="#fff" stroke="#5c2a9d" stroke-width="2.00"/><circle cx="280.9" cy="838.7" r="3.3" fill="#fff" stroke="#5c2a9d" stroke-width="2.00"/><circle cx="277.4" cy="855.2" r="3.3" fill="#fff" stroke="#5c2a9d" stroke-width="2.00"/><circle cx="284.4" cy="871.2" r="3.3" fill="#fff" stroke="#5c2a9d" stroke-width="2.00"/><circle cx="313.5" cy="909.7" r="3.3" fill="#fff" stroke="#000" stroke-width="2.00"/><circle cx="317.5" cy="909.7" r="3.3" fill="#fff" stroke="#000" stroke-width="2.00"/><circle cx="321.5" cy="909.7" r="3.3" fill="#fff" stroke="#000" stroke-width="2.00"/><rect x="335.6" y="731.3" width="11.8" height="183.9" fill="#ff94bf" stroke="#f0407f" stroke-width="2.00"/><line x1="341.5" y1="699.9" x2="341.5" y2="762.7" stroke="#f0407f" stroke-width="2.00"/><line x1="337.0" y1="699.9" x2="346.0" y2="699.9" stroke="#f0407f" stroke-width="2.00"/><line x1="337.0" y1="762.7" x2="346.0" y2="762.7" stroke="#f0407f" stroke-width="2.00"/><circle cx="341.5" cy="695.0" r="3.3" fill="#fff" stroke="#f0407f" stroke-width="2.00"/><circle cx="341.5" cy="719.7" r="3.3" fill="#fff" stroke="#f0407f" stroke-width="2.00"/><circle cx="338.0" cy="736.3" r="3.3" fill="#fff" stroke="#f0407f" stroke-width="2.00"/><circle cx="345.0" cy="772.0" r="3.3" fill="#fff" stroke="#f0407f" stroke-width="2.00"/><circle cx="359.1" cy="909.7" r="3.3" fill="#fff" stroke="#20a0a0" stroke-width="2.00"/><circle cx="363.1" cy="909.7" r="3.3" fill="#fff" stroke="#20a0a0" stroke-width="2.00"/><circle cx="367.1" cy="909.7" r="3.3" fill="#fff" stroke="#20a0a0" stroke-width="2.00"/><rect x="380.4" y="824.9" width="11.8" height="90.3" fill="#9a7fd0" stroke="#5c2a9d" stroke-width="2.00"/><line x1="386.3" y1="801.2" x2="386.3" y2="848.6" stroke="#5c2a9d" stroke-width="2.00"/><line x1="381.8" y1="801.2" x2="390.8" y2="801.2" stroke="#5c2a9d" stroke-width="2.00"/><line x1="381.8" y1="848.6" x2="390.8" y2="848.6" stroke="#5c2a9d" stroke-width="2.00"/><circle cx="386.3" cy="792.4" r="3.3" fill="#fff" stroke="#5c2a9d" stroke-width="2.00"/><circle cx="386.3" cy="823.2" r="3.3" fill="#fff" stroke="#5c2a9d" stroke-width="2.00"/><circle cx="382.8" cy="831.5" r="3.3" fill="#fff" stroke="#5c2a9d" stroke-width="2.00"/><circle cx="389.8" cy="838.1" r="3.3" fill="#fff" stroke="#5c2a9d" stroke-width="2.00"/><circle cx="418.5" cy="909.7" r="3.3" fill="#fff" stroke="#000" stroke-width="2.00"/><circle cx="422.5" cy="909.7" r="3.3" fill="#fff" stroke="#000" stroke-width="2.00"/><circle cx="426.5" cy="909.7" r="3.3" fill="#fff" stroke="#000" stroke-width="2.00"/><rect x="440.6" y="785.8" width="11.8" height="129.4" fill="#ff94bf" stroke="#f0407f" stroke-width="2.00"/><line x1="446.5" y1="764.9" x2="446.5" y2="806.7" stroke="#f0407f" stroke-width="2.00"/><line x1="442.0" y1="764.9" x2="451.0" y2="764.9" stroke="#f0407f" stroke-width="2.00"/><line x1="442.0" y1="806.7" x2="451.0" y2="806.7" stroke="#f0407f" stroke-width="2.00"/><circle cx="446.5" cy="756.1" r="3.3" fill="#fff" stroke="#f0407f" stroke-width="2.00"/><circle cx="446.5" cy="785.8" r="3.3" fill="#fff" stroke="#f0407f" stroke-width="2.00"/><circle cx="443.0" cy="788.6" r="3.3" fill="#fff" stroke="#f0407f" stroke-width="2.00"/><circle cx="450.0" cy="799.6" r="3.3" fill="#fff" stroke="#f0407f" stroke-width="2.00"/><circle cx="464.1" cy="909.7" r="3.3" fill="#fff" stroke="#20a0a0" stroke-width="2.00"/><circle cx="468.1" cy="909.7" r="3.3" fill="#fff" stroke="#20a0a0" stroke-width="2.00"/><circle cx="472.1" cy="909.7" r="3.3" fill="#fff" stroke="#20a0a0" stroke-width="2.00"/><rect x="485.4" y="851.3" width="11.8" height="63.9" fill="#9a7fd0" stroke="#5c2a9d" stroke-width="2.00"/><line x1="491.3" y1="838.7" x2="491.3" y2="864.0" stroke="#5c2a9d" stroke-width="2.00"/><line x1="486.8" y1="838.7" x2="495.8" y2="838.7" stroke="#5c2a9d" stroke-width="2.00"/><line x1="486.8" y1="864.0" x2="495.8" y2="864.0" stroke="#5c2a9d" stroke-width="2.00"/><circle cx="491.3" cy="832.6" r="3.3" fill="#fff" stroke="#5c2a9d" stroke-width="2.00"/><circle cx="491.3" cy="843.6" r="3.3" fill="#fff" stroke="#5c2a9d" stroke-width="2.00"/><circle cx="487.8" cy="860.1" r="3.3" fill="#fff" stroke="#5c2a9d" stroke-width="2.00"/><circle cx="494.8" cy="865.6" r="3.3" fill="#fff" stroke="#5c2a9d" stroke-width="2.00"/><path d="M129.8 790.3V782.3H175.5V790.3" fill="none" stroke="#000" stroke-width="2.00"/><text x="155.4" y="762.6" font-size="22.0" text-anchor="middle" fill="#000">0.004016</text><path d="M234.9 741.0V733.0H280.9V741.0" fill="none" stroke="#000" stroke-width="2.00"/><text x="245.9" y="720.5" font-size="22.0" text-anchor="middle" fill="#000">0.0105</text><path d="M339.9 686.0V678.0H385.5V686.0" fill="none" stroke="#000" stroke-width="2.00"/><text x="351.3" y="664.2" font-size="22.0" text-anchor="middle" fill="#000">0.002677</text><path d="M444.5 741.0V733.0H491.0V741.0" fill="none" stroke="#000" stroke-width="2.00"/><text x="462.2" y="722.0" font-size="22.0" text-anchor="middle" fill="#000">0.001597</text><text x="0.0" y="0.0" font-size="22.0" font-weight="bold" text-anchor="middle" fill="#000" transform="translate(41.5,778.3) rotate(-90)">Relative expression (FC)</text><text x="0.0" y="0.0" font-size="21.2" font-weight="bold" text-anchor="end" fill="#000" letter-spacing="-0.9" transform="translate(141.3,944) rotate(-45)">DDX58</text><text x="0.0" y="0.0" font-size="21.2" font-weight="bold" text-anchor="end" fill="#000" letter-spacing="-0.9" transform="translate(246.4,944) rotate(-45)">ISG15</text><text x="0.0" y="0.0" font-size="21.2" font-weight="bold" text-anchor="end" fill="#000" letter-spacing="-0.9" transform="translate(351.8,944) rotate(-45)">IRF7</text><text x="0.0" y="0.0" font-size="21.2" font-weight="bold" text-anchor="end" fill="#000" letter-spacing="-0.9" transform="translate(456.8,944) rotate(-45)">OASL</text><circle cx="568.4" cy="596.6" r="5.2" fill="#000" stroke="none" stroke-width="1.00"/><text x="581.4" y="602.6" font-size="19.0" fill="#000">sgLUC UNC2400</text><circle cx="568.4" cy="627.7" r="5.2" fill="#f0407f" stroke="none" stroke-width="1.00"/><text x="581.4" y="633.7" font-size="19.0" fill="#000">sgLUC UNC1999</text><circle cx="568.4" cy="661.5" r="5.2" fill="#20a0a0" stroke="none" stroke-width="1.00"/><text x="581.4" y="667.5" font-size="19.0" fill="#000">sgMAVS UNC2400</text><circle cx="568.4" cy="695.7" r="5.2" fill="#5c2a9d" stroke="none" stroke-width="1.00"/><text x="581.4" y="701.7" font-size="19.0" fill="#000">sgMAVS UNC1999</text><text x="764.5" y="598.7" font-size="38.0" font-weight="bold" fill="#231f20">e</text><text x="786.2" y="644.0" font-size="23.0" font-weight="bold" fill="#000" textLength="597" lengthAdjust="spacingAndGlyphs">Upregulated Repeats: Day 4 UNC1999 vs UNC2400 (n=10,950)</text><path d="M908.40 667.30A140.00 140.00 0 0 1 930.20 669.01L920.00 733.71A74.50 74.50 0 0 0 908.40 732.80Z" fill="#6a6a6a" stroke="#111" stroke-width="1.30" stroke-linejoin="round"/><path d="M930.20 669.01A140.00 140.00 0 0 1 1007.91 708.82L961.35 754.89A74.50 74.50 0 0 0 920.00 733.71Z" fill="#3dbf6d" stroke="#111" stroke-width="1.30" stroke-linejoin="round"/><path d="M1007.91 708.82A140.00 140.00 0 0 1 1042.96 768.64L980.00 786.73A74.50 74.50 0 0 0 961.35 754.89Z" fill="#272778" stroke="#111" stroke-width="1.30" stroke-linejoin="round"/><path d="M1042.96 768.64A140.00 140.00 0 0 1 923.93 946.44L916.66 881.34A74.50 74.50 0 0 0 980.00 786.73Z" fill="#fdc862" stroke="#111" stroke-width="1.30" stroke-linejoin="round"/><path d="M923.93 946.44A140.00 140.00 0 0 1 811.97 705.80L857.09 753.29A74.50 74.50 0 0 0 916.66 881.34Z" fill="#8e0f10" stroke="#111" stroke-width="1.30" stroke-linejoin="round"/><path d="M811.97 705.80A140.00 140.00 0 0 1 908.40 667.30L908.40 732.80A74.50 74.50 0 0 0 857.09 753.29Z" fill="#0d4a8c" stroke="#111" stroke-width="1.30" stroke-linejoin="round"/><rect x="1088.0" y="727.2" width="24.5" height="17.5" fill="#0d4a8c" stroke="#111" stroke-width="1.60"/><text x="1128.4" y="738.3" font-size="15.5" font-weight="bold" fill="#000" letter-spacing="-0.9">LTR</text><text x="1296.7" y="740.0" font-size="16.0" font-weight="bold" text-anchor="end" fill="#000" letter-spacing="1.0">12.1%</text><text x="1315.8" y="740.0" font-size="15.5" font-weight="bold" fill="#000" letter-spacing="0.6">0.87****</text><rect x="1088.0" y="747.4" width="24.5" height="17.5" fill="#8e0f10" stroke="#111" stroke-width="1.60"/><text x="1128.4" y="758.5" font-size="15.5" font-weight="bold" fill="#000" letter-spacing="-0.9">SINE</text><text x="1296.7" y="758.5" font-size="16.0" font-weight="bold" text-anchor="end" fill="#000" letter-spacing="0.2">39 .7 %</text><text x="1315.8" y="758.5" font-size="15.5" font-weight="bold" fill="#000" letter-spacing="0.6">1.31****</text><rect x="1088.0" y="767.6" width="24.5" height="17.5" fill="#fdc862" stroke="#111" stroke-width="1.60"/><text x="1128.4" y="777.7" font-size="15.5" font-weight="bold" fill="#000" letter-spacing="-0.9">LINE</text><text x="1296.7" y="777.7" font-size="16.0" font-weight="bold" text-anchor="end" fill="#000" letter-spacing="0.2">27 .7 %</text><text x="1315.8" y="777.7" font-size="15.5" font-weight="bold" fill="#000" letter-spacing="0.6">0.96</text><rect x="1088.0" y="787.8" width="24.5" height="17.5" fill="#272778" stroke="#111" stroke-width="1.60"/><text x="1128.4" y="799.6" font-size="15.5" font-weight="bold" fill="#000" letter-spacing="-0.9">Simple_repeat</text><text x="1296.7" y="799.6" font-size="16.0" font-weight="bold" text-anchor="end" fill="#000" letter-spacing="1.0">7.97%</text><text x="1315.8" y="799.6" font-size="15.5" font-weight="bold" fill="#000" letter-spacing="0.6">0.59****</text><rect x="1088.0" y="808.3" width="24.5" height="17.5" fill="#3dbf6d" stroke="#111" stroke-width="1.60"/><text x="1128.4" y="819.0" font-size="15.5" font-weight="bold" fill="#000" letter-spacing="-0.9">DNA</text><text x="1296.7" y="819.0" font-size="16.0" font-weight="bold" text-anchor="end" fill="#000" letter-spacing="1.0">10.1%</text><text x="1315.8" y="819.0" font-size="15.5" font-weight="bold" fill="#000" letter-spacing="0.6">1.11**</text><rect x="1088.0" y="828.2" width="24.5" height="17.5" fill="#6a6a6a" stroke="#111" stroke-width="1.60"/><text x="1128.4" y="842.0" font-size="15.5" font-weight="bold" fill="#000" letter-spacing="-0.9">Others</text><text x="1296.7" y="838.6" font-size="16.0" font-weight="bold" text-anchor="end" fill="#000" letter-spacing="1.0">2.49%</text><text x="1298.4" y="702.0" font-size="15.5" font-weight="bold" fill="#000" letter-spacing="0.9">Odds ratio</text><line x1="1298.4" y1="705.6" x2="1367.4" y2="705.6" stroke="#000" stroke-width="2.60"/><text x="1448.0" y="642.8" font-size="23.0" font-weight="bold" fill="#000" textLength="596.3" lengthAdjust="spacingAndGlyphs">Upregulated Repeats: Day 6 UNC1999 vs UNC2400 (n=16,480)</text><path d="M1574.00 668.40A143.50 143.50 0 0 1 1594.59 669.88L1584.99 736.09A76.60 76.60 0 0 0 1574.00 735.30Z" fill="#6a6a6a" stroke="#111" stroke-width="1.30" stroke-linejoin="round"/><path d="M1594.59 669.88A143.50 143.50 0 0 1 1658.54 695.94L1619.13 750.00A76.60 76.60 0 0 0 1584.99 736.09Z" fill="#3dbf6d" stroke="#111" stroke-width="1.30" stroke-linejoin="round"/><path d="M1658.54 695.94A143.50 143.50 0 0 1 1698.20 740.02L1640.30 773.53A76.60 76.60 0 0 0 1619.13 750.00Z" fill="#272778" stroke="#111" stroke-width="1.30" stroke-linejoin="round"/><path d="M1698.20 740.02A143.50 143.50 0 0 1 1648.09 934.79L1613.55 877.50A76.60 76.60 0 0 0 1640.30 773.53Z" fill="#fdc862" stroke="#111" stroke-width="1.30" stroke-linejoin="round"/><path d="M1648.09 934.79A143.50 143.50 0 0 1 1487.44 697.45L1527.79 750.81A76.60 76.60 0 0 0 1613.55 877.50Z" fill="#8e0f10" stroke="#111" stroke-width="1.30" stroke-linejoin="round"/><path d="M1487.44 697.45A143.50 143.50 0 0 1 1574.00 668.40L1574.00 735.30A76.60 76.60 0 0 0 1527.79 750.81Z" fill="#0d4a8c" stroke="#111" stroke-width="1.30" stroke-linejoin="round"/><rect x="1748.5" y="730.0" width="24.5" height="17.5" fill="#0d4a8c" stroke="#111" stroke-width="1.60"/><text x="1788.3" y="741.5" font-size="15.0" font-weight="bold" fill="#000" letter-spacing="-1.1">LTR</text><text x="1961.5" y="742.5" font-size="16.0" font-weight="bold" text-anchor="end" fill="#000" letter-spacing="1.0">10.3%</text><text x="1981.4" y="742.5" font-size="15.5" font-weight="bold" fill="#000" letter-spacing="0.6">0.73****</text><rect x="1748.5" y="751.0" width="24.5" height="17.5" fill="#8e0f10" stroke="#111" stroke-width="1.60"/><text x="1788.3" y="760.4" font-size="15.0" font-weight="bold" fill="#000" letter-spacing="-1.1">SINE</text><text x="1961.5" y="761.4" font-size="16.0" font-weight="bold" text-anchor="end" fill="#000" letter-spacing="1.0">48.3%</text><text x="1981.4" y="761.4" font-size="15.5" font-weight="bold" fill="#000" letter-spacing="0.6">1.86****</text><rect x="1748.5" y="772.0" width="24.5" height="17.5" fill="#fdc862" stroke="#111" stroke-width="1.60"/><text x="1788.3" y="783.6" font-size="15.0" font-weight="bold" fill="#000" letter-spacing="-1.1">LINE</text><text x="1956.5" y="779.5" font-size="16.0" font-weight="bold" text-anchor="end" fill="#000" letter-spacing="0.2">24.7 %</text><text x="1981.4" y="779.5" font-size="15.5" font-weight="bold" fill="#000" letter-spacing="0.6">0.82****</text><rect x="1748.5" y="792.5" width="24.5" height="17.5" fill="#272778" stroke="#111" stroke-width="1.60"/><text x="1788.3" y="801.8" font-size="15.0" font-weight="bold" fill="#000" letter-spacing="-1.1">Simple_repeat</text><text x="1961.5" y="800.6" font-size="16.0" font-weight="bold" text-anchor="end" fill="#000" letter-spacing="1.0">6.62%</text><text x="1981.4" y="800.6" font-size="15.5" font-weight="bold" fill="#000" letter-spacing="0.6">0.48****</text><rect x="1748.5" y="812.7" width="24.5" height="17.5" fill="#3dbf6d" stroke="#111" stroke-width="1.60"/><text x="1788.3" y="821.7" font-size="15.0" font-weight="bold" fill="#000" letter-spacing="-1.1">DNA</text><text x="1961.5" y="820.2" font-size="16.0" font-weight="bold" text-anchor="end" fill="#000" letter-spacing="1.0">7.73%</text><text x="1981.4" y="820.2" font-size="15.5" font-weight="bold" fill="#000" letter-spacing="0.6">0.83****</text><rect x="1748.5" y="833.0" width="24.5" height="17.5" fill="#6a6a6a" stroke="#111" stroke-width="1.60"/><text x="1788.3" y="844.9" font-size="15.0" font-weight="bold" fill="#000" letter-spacing="-1.1">Others</text><text x="1961.5" y="839.6" font-size="16.0" font-weight="bold" text-anchor="end" fill="#000" letter-spacing="1.0">2.29%</text><text x="1966.5" y="704.0" font-size="15.5" font-weight="bold" fill="#000" letter-spacing="0.9">Odds ratio</text><line x1="1966.5" y1="707.6" x2="2035.5" y2="707.6" stroke="#000" stroke-width="2.60"/><text x="12.0" y="1093.7" font-size="38.0" font-weight="bold" fill="#231f20">f</text><text x="11.9" y="1163.4" font-size="18.8" font-weight="bold" fill="#000" xml:space="preserve">Day 4 UNC1999 vs UNC2400  ( Annotated IR )</text><rect x="64.4" y="1177.7" width="331.2" height="316.7" fill="#ebebeb" stroke="none" stroke-width="1.00"/><clipPath id="clipF11"><rect x="64.4" y="1177.7" width="331.2" height="316.7"/></clipPath><g clip-path="url(#clipF11)"><line x1="145.4" y1="1177.7" x2="145.4" y2="1494.4" stroke="#fff" stroke-width="2.30"/><line x1="239.7" y1="1177.7" x2="239.7" y2="1494.4" stroke="#fff" stroke-width="2.30"/><line x1="333.9" y1="1177.7" x2="333.9" y2="1494.4" stroke="#fff" stroke-width="2.30"/><line x1="64.4" y1="1474.8" x2="395.6" y2="1474.8" stroke="#fff" stroke-width="2.30"/><line x1="64.4" y1="1419.3" x2="395.6" y2="1419.3" stroke="#fff" stroke-width="2.30"/><line x1="64.4" y1="1363.8" x2="395.6" y2="1363.8" stroke="#fff" stroke-width="2.30"/><line x1="64.4" y1="1308.3" x2="395.6" y2="1308.3" stroke="#fff" stroke-width="2.30"/><line x1="64.4" y1="1252.8" x2="395.6" y2="1252.8" stroke="#fff" stroke-width="2.30"/><line x1="64.4" y1="1197.3" x2="395.6" y2="1197.3" stroke="#fff" stroke-width="2.30"/><line x1="98.3" y1="1177.7" x2="98.3" y2="1494.4" stroke="#fff" stroke-width="4.50"/><line x1="192.6" y1="1177.7" x2="192.6" y2="1494.4" stroke="#fff" stroke-width="4.50"/><line x1="286.8" y1="1177.7" x2="286.8" y2="1494.4" stroke="#fff" stroke-width="4.50"/><line x1="381.1" y1="1177.7" x2="381.1" y2="1494.4" stroke="#fff" stroke-width="4.50"/><line x1="64.4" y1="1447.1" x2="395.6" y2="1447.1" stroke="#fff" stroke-width="4.50"/><line x1="64.4" y1="1391.6" x2="395.6" y2="1391.6" stroke="#fff" stroke-width="4.50"/><line x1="64.4" y1="1336.1" x2="395.6" y2="1336.1" stroke="#fff" stroke-width="4.50"/><line x1="64.4" y1="1280.6" x2="395.6" y2="1280.6" stroke="#fff" stroke-width="4.50"/><line x1="64.4" y1="1225.1" x2="395.6" y2="1225.1" stroke="#fff" stroke-width="4.50"/><path d="M83.4 1300.0L90.0 1318.0L100.0 1324.0L216.0 1325.0L232.0 1327.5L244.0 1330.5L246.0 1333.0L238.0 1336.0L225.0 1340.0L212.0 1344.0L190.0 1346.5L120.0 1347.5L98.0 1352.0L83.4 1358.0Z" fill="#bdbdbd" stroke="#bdbdbd" stroke-width="2.00" stroke-linejoin="round"/><path d="M234.3 1329.1h0M242.3 1331.4h0M251.4 1332.6h0M260.0 1333.1h0M246.0 1330.0h0M238.0 1328.5h0M228.0 1331.0h0M247.0 1334.0h0M213.7 1346.3h0M189.7 1341.7h0M108.6 1377.1h0M85.7 1380.6h0" stroke="#bdbdbd" stroke-width="6.10" stroke-linecap="round" fill="none"/><path d="M83.7 1290.0L90.0 1288.0L97.0 1286.0L104.0 1287.0L110.0 1288.0L115.4 1291.0L122.1 1294.4L128.8 1296.4L132.2 1291.7L135.6 1297.1L142.3 1301.1L152.4 1301.8L159.1 1305.9L165.8 1310.6L172.6 1311.9L182.7 1316.0L189.4 1318.6L205.0 1318.6L215.0 1322.0L216.0 1327.4L115.4 1327.4L98.6 1324.0L88.5 1319.3L83.7 1314.6Z" fill="#e81c24" stroke="#e81c24" stroke-width="2.00" stroke-linejoin="round"/><path d="M110.0 1265.1h0M116.7 1268.8h0M122.1 1269.5h0M126.5 1274.2h0M129.5 1259.4h0M135.9 1255.7h0M141.3 1263.1h0M144.0 1266.8h0M135.2 1268.2h0M155.8 1261.4h0M155.1 1264.8h0M182.0 1266.2h0M132.9 1278.3h0M132.9 1281.0h0M141.3 1280.3h0M169.9 1281.0h0M155.1 1286.7h0M121.4 1279.6h0M122.1 1283.6h0M124.1 1288.7h0M132.2 1292.4h0M139.9 1295.8h0M144.3 1297.8h0M153.1 1301.8h0M157.1 1305.9h0M164.8 1303.2h0M176.3 1302.5h0M182.0 1305.2h0M182.7 1310.6h0M193.1 1311.6h0M169.2 1309.2h0M172.6 1311.9h0M192.6 1310.6h0M221.8 1310.6h0M232.1 1315.0h0M213.3 1313.9h0M224.6 1322.8h0M205.7 1319.4h0M211.4 1321.1h0M214.3 1314.9h0M221.7 1311.4h0M232.0 1316.0h0M225.1 1323.4h0M148.1 1244.6h0M162.9 1244.1h0M209.1 1249.7h0M218.4 1254.3h0M136.0 1256.0h0M129.7 1259.4h0M108.9 1288.4h0M101.2 1289.9h0M91.0 1275.2h0M94.0 1284.8h0M93.5 1288.3h0M95.9 1290.7h0M86.0 1288.6h0M109.1 1277.9h0M108.0 1278.7h0M87.3 1271.5h0M94.9 1275.4h0M106.3 1283.9h0M88.3 1274.8h0M88.3 1275.2h0M94.2 1282.5h0M94.7 1281.5h0M95.8 1286.3h0M86.8 1277.2h0M89.1 1277.4h0M107.9 1282.5h0M85.5 1283.7h0M96.0 1272.3h0M98.2 1272.8h0M85.9 1283.8h0M84.1 1280.9h0M109.8 1286.4h0M89.8 1266.7h0M91.9 1272.2h0M97.6 1279.9h0M105.1 1278.6h0M89.8 1280.3h0M103.8 1274.0h0M85.7 1286.9h0M88.3 1271.2h0M86.5 1276.6h0M97.7 1276.6h0M85.3 1278.0h0M98.6 1275.8h0M99.2 1282.7h0M91.5 1289.4h0M88.0 1270.1h0M104.4 1286.4h0M91.6 1273.5h0M86.9 1276.9h0M84.2 1279.8h0M97.2 1274.7h0M105.6 1286.1h0M93.1 1273.6h0M84.0 1279.3h0M91.0 1268.9h0M93.4 1283.0h0M101.3 1286.6h0M105.4 1274.4h0M98.4 1287.3h0M97.9 1271.9h0M100.8 1275.4h0M110.8 1285.1h0M109.3 1278.4h0M84.6 1276.7h0M92.3 1283.3h0M111.1 1283.9h0M85.6 1285.6h0M95.9 1285.0h0M89.7 1270.7h0M95.6 1277.9h0M98.1 1285.0h0M85.2 1275.1h0M95.0 1287.1h0M98.5 1276.5h0M93.4 1286.6h0M86.2 1276.2h0M85.6 1283.1h0M107.1 1277.5h0M101.0 1288.2h0M105.4 1290.4h0M119.7 1295.6h0M212.0 1329.9h0M179.7 1326.8h0M90.5 1289.0h0M130.2 1294.9h0M82.9 1313.0h0M103.9 1286.8h0M121.3 1294.4h0M85.0 1306.1h0M174.4 1326.9h0M185.9 1314.5h0M205.9 1328.4h0M159.9 1328.1h0M159.6 1307.4h0M125.1 1296.2h0M121.5 1326.6h0M157.4 1326.8h0M206.0 1326.7h0M112.7 1327.2h0M195.5 1325.1h0M83.6 1296.2h0M140.0 1299.7h0M193.7 1326.5h0M218.4 1328.1h0M183.1 1317.8h0M181.7 1327.9h0M148.2 1302.1h0M117.9 1327.6h0M97.7 1321.7h0M121.3 1293.2h0M215.2 1321.5h0M160.2 1307.1h0M109.2 1288.2h0M89.5 1319.2h0M203.9 1318.0h0M127.5 1295.9h0M158.0 1325.8h0M139.2 1297.7h0M87.1 1318.6h0M141.4 1301.3h0M92.8 1285.7h0M136.7 1299.9h0M178.8 1313.0h0M215.1 1320.8h0M89.1 1316.0h0M150.4 1328.1h0M175.2 1314.0h0M89.9 1289.0h0M130.2 1296.0h0M83.9 1291.5h0M212.8 1322.1h0M150.7 1328.4h0M99.5 1285.1h0M94.3 1288.9h0M105.1 1324.5h0M184.7 1326.9h0M167.7 1311.1h0M167.7 1311.7h0M109.4 1287.5h0M130.5 1290.0h0M89.9 1288.7h0M108.0 1325.5h0M216.2 1321.6h0M118.7 1294.0h0M137.4 1326.9h0M136.7 1298.2h0M101.3 1285.0h0M180.3 1327.1h0M89.1 1320.9h0M93.8 1287.0h0M117.2 1328.5h0M136.0 1297.7h0M111.1 1289.8h0M91.4 1289.3h0M162.7 1309.7h0M142.1 1327.8h0M212.6 1329.3h0M100.3 1325.2h0M142.1 1299.6h0M171.3 1311.8h0M153.0 1303.8h0M83.2 1294.5h0M82.9 1308.6h0M178.1 1314.0h0M206.0 1319.5h0M169.3 1312.7h0M134.7 1327.8h0M96.2 1285.1h0M103.1 1288.8h0M196.5 1318.3h0M151.1 1301.1h0M104.5 1324.3h0M136.4 1325.5h0M198.5 1326.8h0M159.1 1327.1h0M151.0 1327.6h0M122.5 1327.9h0M88.0 1311.0h0M128.1 1295.7h0M172.2 1325.2h0M124.5 1296.1h0M208.0 1321.6h0M121.4 1327.6h0M93.3 1319.0h0M129.5 1327.4h0M94.2 1287.8h0M182.8 1315.1h0M130.8 1297.2h0M85.2 1287.0h0M125.8 1294.5h0" stroke="#e81c24" stroke-width="6.10" stroke-linecap="round" fill="none"/><path d="M83.4 1357.7L98.3 1352.0L115.4 1347.4L144.0 1347.4L178.3 1348.6L178.3 1349.7L155.4 1352.0L132.6 1356.6L121.1 1360.0L109.7 1364.6L98.3 1368.0L96.0 1373.7L86.9 1378.3L83.4 1376.0Z" fill="#3a53a4" stroke="#3a53a4" stroke-width="2.00" stroke-linejoin="round"/><path d="M85.7 1392.0h0M90.3 1396.6h0M88.0 1402.3h0M86.9 1396.6h0M97.1 1387.4h0M99.4 1388.6h0M109.1 1394.3h0M120.0 1378.3h0M107.4 1371.4h0M178.3 1349.7h0M166.9 1348.6h0M161.1 1348.6h0M152.0 1352.0h0M124.6 1360.0h0M130.9 1347.3h0M89.7 1378.0h0M113.6 1361.9h0M83.5 1370.5h0M99.3 1366.4h0M82.7 1375.7h0M111.9 1346.0h0M87.1 1355.8h0M125.7 1346.8h0M172.4 1350.3h0M126.7 1359.0h0M178.2 1347.7h0M164.3 1350.9h0M110.2 1364.0h0M97.6 1353.1h0M128.2 1357.3h0M95.1 1355.1h0M137.7 1348.1h0M118.9 1360.3h0M126.9 1359.3h0M170.6 1346.5h0M146.2 1345.8h0M98.1 1367.7h0M140.4 1347.5h0M89.7 1353.3h0M136.8 1350.0h0M86.0 1358.2h0M100.0 1366.7h0M108.5 1347.5h0M85.0 1364.0h0M127.5 1347.1h0M146.9 1347.1h0M149.2 1351.4h0M148.7 1347.8h0M166.0 1349.7h0M104.4 1349.3h0M167.5 1347.8h0M88.2 1357.0h0M132.8 1347.7h0M84.4 1377.5h0M141.0 1347.4h0M139.8 1350.3h0M128.9 1358.1h0M89.5 1373.9h0M147.4 1349.4h0M163.3 1348.9h0M121.5 1358.3h0M105.8 1367.7h0M142.2 1354.6h0M121.9 1345.6h0" stroke="#3a53a4" stroke-width="6.10" stroke-linecap="round" fill="none"/><line x1="64.4" y1="1325.0" x2="395.6" y2="1325.0" stroke="#000" stroke-width="2.70" stroke-dasharray="10.1 7" stroke-dashoffset="15.7"/><line x1="64.4" y1="1347.2" x2="395.6" y2="1347.2" stroke="#000" stroke-width="2.70" stroke-dasharray="10.1 7" stroke-dashoffset="15.7"/></g><rect x="64.4" y="1177.7" width="331.2" height="316.7" fill="none" stroke="#1a1a1a" stroke-width="1.10"/><line x1="58.8" y1="1447.1" x2="64.4" y2="1447.1" stroke="#333" stroke-width="3.00"/><text x="52.6" y="1452.5" font-size="15.0" text-anchor="end" fill="#4d4d4d">−10</text><line x1="58.8" y1="1391.6" x2="64.4" y2="1391.6" stroke="#333" stroke-width="3.00"/><text x="52.6" y="1397.0" font-size="15.0" text-anchor="end" fill="#4d4d4d">−5</text><line x1="58.8" y1="1336.1" x2="64.4" y2="1336.1" stroke="#333" stroke-width="3.00"/><text x="52.6" y="1341.5" font-size="15.0" text-anchor="end" fill="#4d4d4d">0</text><line x1="58.8" y1="1280.6" x2="64.4" y2="1280.6" stroke="#333" stroke-width="3.00"/><text x="52.6" y="1286.0" font-size="15.0" text-anchor="end" fill="#4d4d4d">5</text><line x1="58.8" y1="1225.1" x2="64.4" y2="1225.1" stroke="#333" stroke-width="3.00"/><text x="52.6" y="1230.5" font-size="15.0" text-anchor="end" fill="#4d4d4d">10</text><line x1="98.3" y1="1494.4" x2="98.3" y2="1500.0" stroke="#333" stroke-width="3.00"/><text x="98.3" y="1517.0" font-size="15.0" text-anchor="middle" fill="#4d4d4d">0</text><line x1="192.6" y1="1494.4" x2="192.6" y2="1500.0" stroke="#333" stroke-width="3.00"/><text x="192.6" y="1517.0" font-size="15.0" text-anchor="middle" fill="#4d4d4d">5</text><line x1="286.8" y1="1494.4" x2="286.8" y2="1500.0" stroke="#333" stroke-width="3.00"/><text x="286.8" y="1517.0" font-size="15.0" text-anchor="middle" fill="#4d4d4d">10</text><line x1="381.1" y1="1494.4" x2="381.1" y2="1500.0" stroke="#333" stroke-width="3.00"/><text x="381.1" y="1517.0" font-size="15.0" text-anchor="middle" fill="#4d4d4d">15</text><text x="237.8" y="1539.8" font-size="18.3" text-anchor="middle" fill="#000">Average log2CPM</text><text x="0.0" y="0.0" font-size="18.3" text-anchor="middle" fill="#000" transform="translate(30.2,1334.1) rotate(-90)">log2FC</text><text x="296.8" y="1251.9" font-size="12.0" fill="#000" xml:space="preserve" letter-spacing="-0.3">Up= 1155</text><text x="292.3" y="1429.4" font-size="12.0" fill="#000" xml:space="preserve" letter-spacing="-0.3">Down=  248</text><text x="35.6" y="1629.8" font-size="18.8" font-weight="bold" fill="#000" xml:space="preserve">Day 6 UNC1999 vs UNC2400  ( Annotated IR )</text><rect x="64.7" y="1644.6" width="331.0" height="316.2" fill="#ebebeb" stroke="none" stroke-width="1.00"/><clipPath id="clipF12"><rect x="64.7" y="1644.6" width="331.0" height="316.2"/></clipPath><g clip-path="url(#clipF12)"><line x1="145.4" y1="1644.6" x2="145.4" y2="1960.8" stroke="#fff" stroke-width="2.30"/><line x1="239.7" y1="1644.6" x2="239.7" y2="1960.8" stroke="#fff" stroke-width="2.30"/><line x1="333.9" y1="1644.6" x2="333.9" y2="1960.8" stroke="#fff" stroke-width="2.30"/><line x1="64.7" y1="1940.8" x2="395.7" y2="1940.8" stroke="#fff" stroke-width="2.30"/><line x1="64.7" y1="1885.6" x2="395.7" y2="1885.6" stroke="#fff" stroke-width="2.30"/><line x1="64.7" y1="1830.5" x2="395.7" y2="1830.5" stroke="#fff" stroke-width="2.30"/><line x1="64.7" y1="1775.3" x2="395.7" y2="1775.3" stroke="#fff" stroke-width="2.30"/><line x1="64.7" y1="1720.2" x2="395.7" y2="1720.2" stroke="#fff" stroke-width="2.30"/><line x1="64.7" y1="1665.0" x2="395.7" y2="1665.0" stroke="#fff" stroke-width="2.30"/><line x1="98.3" y1="1644.6" x2="98.3" y2="1960.8" stroke="#fff" stroke-width="4.50"/><line x1="192.6" y1="1644.6" x2="192.6" y2="1960.8" stroke="#fff" stroke-width="4.50"/><line x1="286.8" y1="1644.6" x2="286.8" y2="1960.8" stroke="#fff" stroke-width="4.50"/><line x1="381.1" y1="1644.6" x2="381.1" y2="1960.8" stroke="#fff" stroke-width="4.50"/><line x1="64.7" y1="1913.2" x2="395.7" y2="1913.2" stroke="#fff" stroke-width="4.50"/><line x1="64.7" y1="1858.1" x2="395.7" y2="1858.1" stroke="#fff" stroke-width="4.50"/><line x1="64.7" y1="1802.9" x2="395.7" y2="1802.9" stroke="#fff" stroke-width="4.50"/><line x1="64.7" y1="1747.8" x2="395.7" y2="1747.8" stroke="#fff" stroke-width="4.50"/><line x1="64.7" y1="1692.6" x2="395.7" y2="1692.6" stroke="#fff" stroke-width="4.50"/><path d="M83.4 1793.6L210.0 1793.6L222.0 1795.0L228.0 1800.0L228.0 1806.0L218.0 1812.0L110.0 1812.0L83.4 1818.0Z" fill="#bdbdbd" stroke="#bdbdbd" stroke-width="2.00" stroke-linejoin="round"/><path d="M232.6 1792.0h0M238.9 1800.0h0M246.9 1800.0h0M251.4 1802.9h0M251.4 1807.4h0M260.0 1805.1h0M227.4 1806.3h0M225.1 1812.0h0M221.7 1798.3h0M229.7 1800.6h0M242.3 1802.9h0" stroke="#bdbdbd" stroke-width="6.10" stroke-linecap="round" fill="none"/><path d="M83.5 1744.3L90.3 1741.6L94.3 1736.0L100.0 1738.0L107.8 1740.2L110.5 1751.0L117.3 1753.0L120.6 1761.2L127.4 1765.9L136.2 1767.9L140.9 1763.2L151.0 1761.8L157.8 1770.0L165.9 1767.9L172.6 1771.3L181.4 1774.7L190.0 1782.0L203.0 1787.0L208.0 1793.6L83.5 1793.6Z" fill="#e81c24" stroke="#e81c24" stroke-width="2.00" stroke-linejoin="round"/><path d="M83.5 1734.1L85.5 1726.0L90.3 1721.3L98.4 1715.9L107.1 1709.8L114.6 1707.1L117.3 1709.8L113.2 1713.2L105.1 1717.3L102.4 1721.3L95.7 1727.4L93.6 1734.1L92.3 1738.9L85.5 1738.2Z" fill="#e81c24" stroke="#e81c24" stroke-width="2.00" stroke-linejoin="round"/><path d="M120.6 1702.4h0M126.7 1699.0h0M134.8 1694.0h0M142.9 1688.9h0M156.4 1680.5h0M138.8 1692.5h0M124.0 1700.5h0M101.1 1723.3h0M112.5 1727.4h0M119.3 1724.0h0M130.8 1724.0h0M135.5 1721.3h0M148.3 1721.3h0M155.1 1712.5h0M169.9 1715.2h0M163.2 1724.0h0M140.2 1732.1h0M182.1 1730.8h0M122.7 1730.8h0M117.3 1734.8h0M120.0 1740.2h0M126.7 1742.9h0M133.1 1740.6h0M122.0 1747.6h0M122.0 1751.0h0M132.8 1749.7h0M144.3 1751.0h0M155.4 1748.3h0M182.1 1751.0h0M126.7 1761.8h0M105.1 1733.5h0M107.8 1740.9h0M97.0 1734.8h0M101.1 1738.2h0M218.3 1698.9h0M212.6 1781.1h0M222.3 1784.6h0M216.0 1789.1h0M199.4 1774.9h0M189.7 1772.6h0M205.7 1790.3h0M201.1 1785.7h0M155.4 1712.6h0M170.3 1715.4h0M182.3 1730.9h0M182.3 1750.9h0M148.0 1766.0h0M162.0 1765.0h0M175.0 1769.0h0M186.0 1772.0h0M144.9 1760.6h0M82.4 1764.0h0M126.7 1764.8h0M122.6 1764.3h0M173.7 1771.7h0M138.6 1765.4h0M144.3 1792.8h0M111.0 1747.3h0M82.0 1778.4h0M83.4 1790.1h0M84.8 1745.2h0M187.3 1793.9h0M110.5 1747.7h0M146.0 1762.1h0M193.4 1781.3h0M203.2 1786.7h0M205.0 1789.8h0M83.6 1768.8h0M148.0 1760.5h0M126.1 1765.7h0M145.0 1794.4h0M84.5 1763.4h0M84.5 1769.0h0M83.6 1783.3h0M98.3 1736.3h0M86.0 1764.0h0M148.2 1792.9h0M85.3 1787.0h0M189.7 1781.0h0M136.3 1769.2h0M104.1 1793.5h0M147.9 1794.9h0M107.5 1793.9h0M131.0 1765.8h0M116.9 1752.3h0M112.1 1791.6h0M88.2 1743.6h0M82.1 1762.9h0M115.3 1753.2h0M168.0 1792.7h0M192.1 1783.1h0M165.3 1768.1h0M121.3 1762.7h0M108.9 1794.2h0M82.6 1773.2h0M124.5 1794.2h0M169.4 1793.3h0M130.2 1792.5h0M188.2 1792.9h0M183.1 1794.0h0M82.8 1777.9h0M152.3 1766.3h0M138.3 1767.7h0M83.2 1761.8h0M83.1 1764.2h0M204.9 1792.5h0M100.7 1792.9h0M117.5 1793.3h0M82.6 1762.1h0M108.4 1740.0h0M81.2 1778.0h0M199.4 1794.4h0M203.8 1786.9h0M140.9 1795.4h0M162.7 1792.6h0M198.2 1783.4h0M157.1 1767.7h0M85.3 1771.9h0M92.3 1794.5h0M110.5 1748.0h0M187.3 1779.7h0M113.2 1792.5h0M82.0 1783.4h0M86.8 1756.3h0M140.6 1762.7h0M83.6 1782.0h0M137.0 1794.7h0M102.5 1739.0h0M133.0 1765.6h0M129.2 1765.0h0M106.6 1739.2h0M138.2 1793.5h0M159.2 1769.3h0M137.3 1794.7h0M107.4 1741.2h0M84.0 1787.3h0M133.3 1793.1h0M108.7 1793.8h0M166.2 1793.4h0M203.3 1790.8h0M128.5 1767.9h0M84.2 1763.2h0M115.4 1754.9h0M191.7 1791.0h0M113.0 1752.2h0M110.5 1747.9h0M135.2 1794.2h0M83.8 1781.5h0M205.6 1786.3h0M103.7 1792.9h0M84.6 1792.5h0M187.9 1794.6h0M109.9 1792.8h0M155.5 1768.1h0M115.9 1755.6h0M127.0 1765.0h0M83.8 1743.0h0M105.2 1740.5h0M116.9 1792.6h0M83.5 1776.5h0M98.1 1737.2h0M127.8 1794.7h0M105.3 1794.8h0M140.5 1795.0h0M200.9 1794.1h0M207.4 1790.0h0M137.7 1793.8h0M140.9 1759.7h0M116.9 1792.4h0M128.9 1766.2h0M92.7 1739.2h0M83.7 1767.2h0M109.2 1742.3h0M130.1 1767.2h0M96.8 1737.1h0M86.5 1742.6h0M110.3 1750.8h0M83.9 1770.7h0M137.4 1792.9h0M188.0 1780.0h0M112.6 1713.0h0M99.2 1723.3h0M89.8 1722.8h0M95.0 1730.9h0M112.5 1714.2h0M83.9 1736.2h0M83.3 1734.1h0M82.4 1733.8h0M106.1 1717.2h0M99.3 1714.5h0M102.0 1721.7h0M90.0 1724.1h0M109.2 1713.7h0M94.7 1730.0h0M109.4 1713.4h0M103.5 1712.8h0M97.0 1725.0h0M84.7 1737.5h0M99.2 1712.5h0M86.0 1723.1h0M111.4 1709.4h0M112.4 1707.5h0M108.8 1709.0h0M86.5 1739.4h0M97.5 1716.3h0" stroke="#e81c24" stroke-width="6.10" stroke-linecap="round" fill="none"/><path d="M83.4 1817.7L109.7 1812.0L166.9 1812.0L178.3 1813.1L210.3 1814.3L210.3 1816.6L166.9 1818.9L149.7 1824.6L132.6 1829.1L121.1 1832.6L107.4 1838.3L92.6 1840.6L86.9 1845.1L83.4 1845.1Z" fill="#3a53a4" stroke="#3a53a4" stroke-width="2.00" stroke-linejoin="round"/><path d="M86.3 1845.1h0M99.4 1843.4h0M109.1 1846.3h0M88.0 1854.3h0M108.6 1853.1h0M114.9 1854.3h0M138.3 1832.0h0M144.0 1835.4h0M146.3 1826.9h0M174.9 1828.0h0M172.6 1823.4h0M177.1 1821.1h0M187.4 1823.4h0M195.4 1821.7h0M205.7 1817.1h0M213.7 1822.9h0M220.0 1818.3h0M189.7 1815.4h0M95.1 1815.5h0M114.1 1837.4h0M184.3 1819.0h0M82.4 1843.6h0M100.5 1839.9h0M153.8 1824.6h0M167.5 1818.7h0M118.0 1833.7h0M131.3 1810.2h0M191.9 1812.5h0M154.4 1819.9h0M189.3 1819.4h0M132.7 1815.4h0M178.5 1813.5h0M122.3 1813.8h0M102.0 1839.5h0M134.3 1812.2h0M156.1 1823.4h0M132.3 1809.2h0M121.3 1812.6h0M96.9 1815.6h0M186.0 1811.9h0M102.3 1839.3h0M82.3 1843.9h0M184.0 1818.9h0M93.3 1839.0h0M151.9 1823.2h0M85.2 1829.3h0M141.6 1811.9h0M156.4 1812.3h0M161.0 1810.7h0M106.5 1838.3h0M81.9 1835.4h0M118.6 1831.8h0M82.0 1828.3h0M85.2 1817.8h0M127.8 1812.3h0M127.5 1813.8h0M177.5 1811.9h0M187.1 1814.1h0M200.4 1812.9h0M128.7 1812.9h0M189.5 1817.2h0M151.7 1824.1h0M106.9 1838.3h0M127.0 1810.8h0M83.9 1824.4h0M155.7 1812.9h0M204.6 1814.1h0M85.0 1844.8h0M127.7 1810.9h0M204.8 1811.8h0M184.9 1813.8h0M106.4 1811.2h0M96.4 1814.4h0M141.3 1809.0h0M192.1 1819.9h0M95.9 1815.3h0M141.0 1811.8h0M83.5 1834.1h0" stroke="#3a53a4" stroke-width="6.10" stroke-linecap="round" fill="none"/><line x1="64.7" y1="1791.9" x2="395.7" y2="1791.9" stroke="#000" stroke-width="2.70" stroke-dasharray="10.1 7" stroke-dashoffset="15.7"/><line x1="64.7" y1="1813.9" x2="395.7" y2="1813.9" stroke="#000" stroke-width="2.70" stroke-dasharray="10.1 7" stroke-dashoffset="15.7"/></g><rect x="64.7" y="1644.6" width="331.0" height="316.2" fill="none" stroke="#1a1a1a" stroke-width="1.10"/><line x1="59.1" y1="1913.2" x2="64.7" y2="1913.2" stroke="#333" stroke-width="3.00"/><text x="52.9" y="1918.6" font-size="15.0" text-anchor="end" fill="#4d4d4d">−10</text><line x1="59.1" y1="1858.1" x2="64.7" y2="1858.1" stroke="#333" stroke-width="3.00"/><text x="52.9" y="1863.5" font-size="15.0" text-anchor="end" fill="#4d4d4d">−5</text><line x1="59.1" y1="1802.9" x2="64.7" y2="1802.9" stroke="#333" stroke-width="3.00"/><text x="52.9" y="1808.3" font-size="15.0" text-anchor="end" fill="#4d4d4d">0</text><line x1="59.1" y1="1747.8" x2="64.7" y2="1747.8" stroke="#333" stroke-width="3.00"/><text x="52.9" y="1753.2" font-size="15.0" text-anchor="end" fill="#4d4d4d">5</text><line x1="59.1" y1="1692.6" x2="64.7" y2="1692.6" stroke="#333" stroke-width="3.00"/><text x="52.9" y="1698.0" font-size="15.0" text-anchor="end" fill="#4d4d4d">10</text><line x1="98.3" y1="1960.8" x2="98.3" y2="1966.4" stroke="#333" stroke-width="3.00"/><text x="98.3" y="1983.4" font-size="15.0" text-anchor="middle" fill="#4d4d4d">0</text><line x1="192.6" y1="1960.8" x2="192.6" y2="1966.4" stroke="#333" stroke-width="3.00"/><text x="192.6" y="1983.4" font-size="15.0" text-anchor="middle" fill="#4d4d4d">5</text><line x1="286.8" y1="1960.8" x2="286.8" y2="1966.4" stroke="#333" stroke-width="3.00"/><text x="286.8" y="1983.4" font-size="15.0" text-anchor="middle" fill="#4d4d4d">10</text><line x1="381.1" y1="1960.8" x2="381.1" y2="1966.4" stroke="#333" stroke-width="3.00"/><text x="381.1" y="1983.4" font-size="15.0" text-anchor="middle" fill="#4d4d4d">15</text><text x="237.8" y="2006.2" font-size="18.3" text-anchor="middle" fill="#000">Average log2CPM</text><text x="0.0" y="0.0" font-size="18.3" text-anchor="middle" fill="#000" transform="translate(30.5,1800.7) rotate(-90)">log2FC</text><text x="297.4" y="1719.3" font-size="12.0" fill="#000" xml:space="preserve" letter-spacing="-0.3">Up= 2822</text><text x="293.0" y="1895.5" font-size="12.0" fill="#000" xml:space="preserve" letter-spacing="-0.3">Down=  667</text><text x="513.0" y="1096.5" font-size="38.0" font-weight="bold" fill="#231f20">g</text><text x="582.0" y="1145.7" font-size="15.8" font-weight="bold" fill="#000" textLength="316.6">Day 4 UNC1999 vs UNC2400 (IR Alus)</text><clipPath id="clipG1"><rect x="549.3" y="1164.3" width="385" height="344.6"/></clipPath><g clip-path="url(#clipG1)"><path d="M688.8 1334.3L689.9 1328.0L697.1 1318.7L712.7 1310.4L723.1 1305.2L733.5 1292.7L739.7 1291.7L752.2 1284.4L759.5 1278.2L769.9 1281.3L790.6 1323.9L795.8 1334.3L789.6 1342.6L775.1 1355.1L769.9 1365.5L759.5 1375.8L754.3 1386.2L738.7 1391.4L733.5 1394.5L723.1 1386.2L719.0 1375.8L710.6 1373.8L689.9 1361.3L685.7 1340.5Z" fill="#a9a9a9" stroke="#a9a9a9" stroke-width="1.00" stroke-linejoin="round"/><path d="M650.0 1330.4h0M683.2 1335.7h0M801.1 1229.6h0M781.4 1241.1h0M767.1 1255.4h0M776.1 1255.4h0M801.1 1255.4h0M765.4 1262.5h0M760.0 1271.4h0M748.6 1275.7h0M818.2 1270.7h0M831.4 1315.4h0M811.8 1317.1h0M806.4 1330.4h0M792.1 1349.3h0M765.4 1383.9h0M727.9 1425.7h0M736.1 1425.7h0M745.7 1420.7h0M717.9 1394.6h0M693.9 1382.9h0M685.7 1369.6h0M710.0 1301.8h0M718.9 1296.4h0M726.1 1295.7h0M734.3 1288.6h0M679.6 1351.8h0M677.9 1364.3h0M706.4 1317.9h0M785.0 1331.4h0M774.3 1339.3h0M770.7 1364.3h0M750.0 1383.9h0M735.0 1392.9h0M724.3 1387.5h0M702.9 1378.6h0M695.7 1366.1h0M706.7 1389.5h0M718.5 1393.5h0M734.8 1393.1h0M755.9 1397.4h0M776.9 1379.0h0M790.0 1364.6h0M791.7 1350.2h0M800.3 1325.5h0M808.1 1327.7h0M802.6 1350.7h0M804.0 1299.7h0M720.7 1380.9h0M720.7 1378.7h0M790.2 1341.4h0M760.8 1277.5h0M698.4 1318.2h0M779.7 1302.6h0M785.1 1310.3h0M693.9 1321.6h0M694.7 1319.6h0M688.7 1334.0h0M758.7 1378.9h0M747.3 1285.4h0M786.3 1319.4h0M685.6 1342.6h0M695.0 1364.1h0M710.2 1373.3h0M782.4 1306.2h0M793.9 1339.3h0M755.6 1382.8h0M701.4 1318.0h0M777.7 1353.0h0M758.0 1278.7h0M700.0 1366.7h0M700.4 1318.3h0M754.3 1385.9h0M705.8 1368.1h0M746.2 1287.7h0M694.9 1363.9h0M702.9 1369.7h0M689.2 1328.2h0M746.9 1389.3h0M689.9 1334.5h0M792.3 1342.0h0M789.5 1320.3h0M739.5 1290.8h0M771.8 1287.0h0M721.5 1382.1h0M771.0 1281.8h0M727.4 1304.1h0M747.6 1389.6h0M790.6 1321.6h0M721.2 1381.9h0M750.2 1285.8h0M771.2 1284.2h0M721.1 1381.1h0M791.2 1342.1h0M791.8 1339.5h0M747.1 1286.7h0M688.8 1328.7h0M686.8 1358.3h0M707.9 1312.4h0M712.0 1375.5h0M775.7 1298.5h0M687.2 1350.8h0M783.1 1308.5h0M688.5 1357.1h0M781.3 1351.4h0M748.5 1289.1h0M734.3 1392.7h0M755.5 1384.5h0M754.8 1386.9h0M791.8 1329.1h0M744.6 1291.3h0M761.1 1372.6h0M711.9 1311.9h0M750.3 1384.8h0M761.7 1372.9h0M781.3 1300.6h0M722.5 1383.6h0M734.7 1292.1h0" stroke="#a9a9a9" stroke-width="7.00" stroke-linecap="round" fill="none"/><line x1="742.1" y1="1164.3" x2="742.1" y2="1508.9" stroke="#000" stroke-width="3.00" stroke-dasharray="3 2.8"/><line x1="549.3" y1="1336.4" x2="934.3" y2="1336.4" stroke="#000" stroke-width="3.00" stroke-dasharray="3 2.8"/><path d="M767.0 1300.0L780.0 1288.0L795.0 1278.0L804.0 1282.0L806.0 1296.0L795.0 1306.0L780.0 1313.0L768.0 1314.0Z" fill="#ff0000" stroke="#ff0000" stroke-width="2.00" stroke-linejoin="round"/><path d="M795.8 1291.1h0M784.4 1299.6h0M796.1 1306.2h0M759.7 1306.6h0M813.3 1299.7h0M774.7 1298.7h0M797.7 1301.8h0M763.3 1315.9h0M773.7 1297.6h0M774.7 1306.0h0M805.5 1282.5h0M808.6 1297.3h0M787.0 1296.6h0M793.7 1273.3h0M791.4 1304.9h0M795.2 1295.6h0M797.0 1308.8h0M796.8 1308.9h0M806.2 1299.6h0M783.0 1299.5h0M799.3 1286.5h0M795.7 1305.7h0M791.5 1311.0h0M791.9 1271.2h0M759.8 1303.9h0M811.8 1300.6h0M770.1 1291.8h0M792.7 1308.6h0M759.2 1314.3h0M781.7 1292.3h0M793.2 1291.8h0M781.8 1285.3h0M796.0 1293.6h0M805.4 1299.8h0M781.2 1313.6h0M797.3 1297.1h0M796.4 1298.9h0M775.5 1322.0h0M793.0 1291.1h0M779.7 1288.1h0M813.3 1297.3h0M781.4 1303.1h0M806.0 1278.0h0M784.5 1316.0h0M770.3 1317.9h0M795.4 1286.6h0M775.5 1294.3h0M775.1 1295.7h0M807.0 1281.3h0M795.1 1301.7h0M793.2 1278.3h0M781.2 1293.3h0M807.1 1285.6h0M770.1 1314.8h0M796.4 1291.4h0M765.0 1311.7h0M790.9 1283.2h0M762.3 1316.3h0M789.1 1274.9h0M779.7 1318.6h0M766.8 1298.7h0M774.0 1290.9h0M800.6 1305.1h0M803.6 1306.3h0M807.3 1305.6h0M797.2 1296.3h0M760.7 1317.7h0M795.5 1279.3h0M792.9 1312.3h0M791.8 1279.6h0M771.0 1318.3h0M813.3 1297.7h0M772.6 1311.7h0M808.9 1298.2h0M803.1 1302.8h0M775.9 1295.4h0M805.4 1295.0h0M791.2 1271.0h0M777.2 1301.8h0M788.8 1314.2h0M793.6 1306.1h0M802.5 1303.3h0M770.0 1291.2h0M779.3 1305.6h0M802.4 1271.3h0M785.3 1283.2h0M788.2 1314.3h0M792.6 1302.1h0M793.2 1286.3h0M780.9 1299.7h0M786.9 1307.1h0M795.0 1278.3h0M798.6 1289.1h0M811.4 1292.4h0M800.1 1290.4h0M788.4 1291.7h0M778.1 1317.5h0M784.6 1312.8h0M784.1 1279.8h0M805.3 1303.6h0M792.8 1297.4h0M759.0 1317.5h0M765.9 1315.2h0M808.3 1291.0h0M806.3 1289.5h0M795.6 1275.6h0M768.4 1295.3h0M799.4 1277.2h0M792.7 1301.0h0M799.4 1287.2h0M782.5 1303.7h0M796.1 1301.8h0M760.1 1317.2h0M766.9 1293.5h0M787.9 1293.6h0M779.1 1301.6h0M784.8 1307.0h0M784.5 1310.1h0M788.2 1285.8h0M796.2 1267.9h0M797.3 1275.5h0M791.8 1303.8h0M798.8 1302.1h0M784.9 1302.3h0M798.1 1293.0h0M778.0 1313.7h0M803.5 1287.2h0M780.1 1317.9h0M761.4 1303.5h0M770.7 1311.1h0M786.0 1298.2h0M802.8 1282.9h0M784.5 1277.2h0M801.8 1280.6h0M795.4 1293.8h0M805.4 1279.1h0M788.9 1307.3h0M795.8 1285.6h0M779.4 1291.7h0M797.5 1311.0h0M781.6 1291.8h0M792.8 1307.2h0M775.2 1315.4h0M782.6 1289.1h0M809.0 1295.9h0M808.1 1285.2h0M778.6 1280.8h0M799.3 1301.1h0M789.3 1277.7h0M772.9 1289.0h0M796.0 1309.7h0M782.9 1282.3h0M792.6 1290.2h0M803.5 1283.6h0M772.4 1303.0h0M790.3 1282.4h0M767.8 1295.8h0M761.5 1304.4h0M772.4 1323.0h0M769.2 1288.9h0M776.5 1282.6h0M763.4 1307.4h0M765.4 1303.7h0M809.2 1303.8h0M803.6 1292.1h0M774.3 1305.6h0M774.0 1313.9h0M803.6 1308.9h0M770.8 1302.5h0M809.9 1299.5h0" stroke="#ff0000" stroke-width="7.00" stroke-linecap="round" fill="none"/><path d="M789.3 1234.6h0M784.3 1241.8h0M788.6 1246.4h0M797.5 1241.1h0M802.9 1241.1h0M820.0 1239.3h0M821.4 1244.6h0M815.4 1252.9h0M824.3 1249.3h0M831.4 1263.6h0M835.7 1256.4h0M845.0 1248.2h0M845.0 1260.7h0M842.1 1264.3h0M851.8 1257.1h0M860.0 1268.6h0M838.6 1275.7h0M831.4 1281.4h0M837.9 1285.0h0M820.7 1285.0h0M827.9 1286.4h0M851.1 1292.1h0M811.8 1300.0h0M813.6 1310.0h0M802.9 1303.6h0M795.7 1312.5h0M768.9 1268.6h0M776.1 1268.6h0M781.4 1268.6h0M790.4 1268.6h0M768.9 1278.6h0M777.9 1278.6h0M795.7 1262.5h0M802.9 1263.6h0M808.2 1268.6h0M801.1 1271.4h0M788.6 1278.6h0M793.9 1283.9h0M804.6 1283.9h0M811.8 1292.9h0M828.6 1212.5h0M853.6 1218.6h0M882.1 1257.1h0M758.2 1307.1h0M760.0 1319.6h0M776.1 1317.9h0M783.2 1316.1h0" stroke="#ff0000" stroke-width="7.00" stroke-linecap="round" fill="none"/><path d="M759.9 1321.5h0M767.3 1315.7h0M763.8 1315.7h0M762.8 1321.4h0M765.3 1308.2h0M762.7 1320.2h0M766.8 1311.1h0M767.8 1311.0h0M764.4 1319.8h0M764.4 1318.1h0M759.7 1309.1h0M761.2 1308.1h0M767.9 1306.6h0M773.3 1310.7h0M765.3 1318.4h0M771.6 1309.8h0M774.3 1313.6h0M759.9 1318.4h0M758.2 1310.8h0M762.9 1307.0h0M763.6 1305.8h0M767.6 1309.3h0" stroke="#00ee00" stroke-width="7.00" stroke-linecap="round" fill="none"/><path d="M761.0 1297.5h0M766.0 1300.0h0M773.0 1299.0h0M778.0 1299.0h0M770.0 1313.0h0M780.0 1311.0h0M786.0 1315.0h0M774.0 1279.2h0M807.8 1280.8h0M827.5 1225.7h0M762.0 1302.0h0M783.0 1313.0h0" stroke="#00ee00" stroke-width="7.00" stroke-linecap="round" fill="none"/><path d="M709.6 1371.0h0M713.8 1360.8h0M703.4 1354.9h0M714.4 1365.7h0M706.9 1368.8h0M720.0 1362.6h0M712.9 1358.1h0M712.0 1360.6h0M703.0 1357.8h0M720.5 1361.0h0M721.5 1356.4h0M712.4 1357.8h0M709.3 1354.5h0M708.2 1354.6h0M697.4 1369.5h0M726.0 1352.9h0M704.8 1364.9h0M725.8 1362.1h0M708.3 1357.1h0M701.9 1370.0h0M703.3 1366.1h0M703.2 1369.9h0M721.6 1357.6h0M721.7 1362.4h0M703.8 1367.5h0M704.8 1368.5h0M712.7 1358.6h0M718.5 1364.5h0M722.8 1352.4h0M712.0 1356.8h0M717.9 1368.1h0M720.2 1354.4h0M712.8 1351.2h0M716.0 1359.6h0M717.2 1365.3h0" stroke="#0000ff" stroke-width="7.00" stroke-linecap="round" fill="none"/><path d="M681.0 1355.6h0M664.0 1381.2h0M665.7 1386.0h0M684.4 1411.6h0M677.6 1419.6h0M711.5 1432.4h0M696.0 1374.0h0M700.0 1376.0h0M714.0 1375.0h0M730.0 1363.0h0" stroke="#0000ff" stroke-width="7.00" stroke-linecap="round" fill="none"/><path d="M693.5 1375.8h0" stroke="#9b30ee" stroke-width="7.00" stroke-linecap="round" fill="none"/></g><rect x="549.3" y="1164.3" width="385.0" height="344.6" fill="none" stroke="#000" stroke-width="3.80"/><line x1="541.8" y1="1496.4" x2="549.3" y2="1496.4" stroke="#000" stroke-width="2.00"/><text x="534.8" y="1502.3" font-size="16.5" text-anchor="end" fill="#000" letter-spacing="-0.5">−10</text><line x1="541.8" y1="1416.4" x2="549.3" y2="1416.4" stroke="#000" stroke-width="2.00"/><text x="534.8" y="1422.3" font-size="16.5" text-anchor="end" fill="#000" letter-spacing="-0.5">−5</text><line x1="541.8" y1="1336.4" x2="549.3" y2="1336.4" stroke="#000" stroke-width="2.00"/><text x="534.8" y="1342.3" font-size="16.5" text-anchor="end" fill="#000" letter-spacing="-0.5">0</text><line x1="541.8" y1="1256.4" x2="549.3" y2="1256.4" stroke="#000" stroke-width="2.00"/><text x="534.8" y="1262.3" font-size="16.5" text-anchor="end" fill="#000" letter-spacing="-0.5">5</text><line x1="541.8" y1="1176.4" x2="549.3" y2="1176.4" stroke="#000" stroke-width="2.00"/><text x="534.8" y="1182.3" font-size="16.5" text-anchor="end" fill="#000" letter-spacing="-0.5">10</text><line x1="572.3" y1="1508.9" x2="572.3" y2="1516.4" stroke="#000" stroke-width="2.00"/><text x="572.3" y="1534.4" font-size="16.5" text-anchor="middle" fill="#000" letter-spacing="-0.5">−10</text><line x1="657.2" y1="1508.9" x2="657.2" y2="1516.4" stroke="#000" stroke-width="2.00"/><text x="657.2" y="1534.4" font-size="16.5" text-anchor="middle" fill="#000" letter-spacing="-0.5">−5</text><line x1="742.1" y1="1508.9" x2="742.1" y2="1516.4" stroke="#000" stroke-width="2.00"/><text x="742.1" y="1534.4" font-size="16.5" text-anchor="middle" fill="#000" letter-spacing="-0.5">0</text><line x1="827.0" y1="1508.9" x2="827.0" y2="1516.4" stroke="#000" stroke-width="2.00"/><text x="827.0" y="1534.4" font-size="16.5" text-anchor="middle" fill="#000" letter-spacing="-0.5">5</text><line x1="911.9" y1="1508.9" x2="911.9" y2="1516.4" stroke="#000" stroke-width="2.00"/><text x="911.9" y="1534.4" font-size="16.5" text-anchor="middle" fill="#000" letter-spacing="-0.5">10</text><text x="619.0" y="1190.0" font-size="15.0" fill="#000" letter-spacing="-0.9">p &lt; 1.0e–16</text><text x="619.0" y="1209.6" font-size="15.0" fill="#000" letter-spacing="-0.9">Odds ratio= 10.1</text><text x="0.0" y="0.0" font-size="16.5" text-anchor="middle" fill="#000" textLength="130.4" xml:space="preserve" transform="translate(493.5,1341) rotate(-90)">Repeat2: log(FC)</text><text x="742.0" y="1560.0" font-size="16.5" text-anchor="middle" fill="#000" textLength="131" xml:space="preserve">Repeat1: log(FC)</text><circle cx="955.4" cy="1291.8" r="3.6" fill="#ff0000" stroke="none" stroke-width="1.00"/><text x="983.2" y="1296.4" font-size="15.5" font-weight="bold" fill="#000" textLength="109.6" xml:space="preserve">Up IR (n=532)</text><circle cx="955.4" cy="1317.9" r="3.6" fill="#0000ff" stroke="none" stroke-width="1.00"/><text x="983.2" y="1322.5" font-size="15.5" font-weight="bold" fill="#000" textLength="125.7" xml:space="preserve">Down IR (n=62)</text><circle cx="955.4" cy="1344.0" r="3.6" fill="#00ee00" stroke="none" stroke-width="1.00"/><text x="983.2" y="1349.4" font-size="15.5" font-weight="bold" fill="#000" textLength="130.0" xml:space="preserve">EV Up IR (n=34)</text><circle cx="955.4" cy="1370.7" r="3.6" fill="#9b30ee" stroke="none" stroke-width="1.00"/><text x="983.2" y="1375.6" font-size="15.5" font-weight="bold" fill="#000" textLength="151.0" xml:space="preserve">EV Down IR  (n=1)</text><circle cx="955.4" cy="1397.0" r="3.6" fill="#a9a9a9" stroke="none" stroke-width="1.00"/><text x="983.2" y="1401.0" font-size="15.5" font-weight="bold" fill="#000" textLength="52.0" xml:space="preserve">Others</text><text x="584.0" y="1611.7" font-size="19.0" font-weight="bold" fill="#000" textLength="331.5">Day 6 UNC1999 vs UNC2400 (IR Alus)</text><clipPath id="clipG2"><rect x="556.2" y="1628.9" width="388.3" height="357.4"/></clipPath><g clip-path="url(#clipG2)"><path d="M705.5 1807.7L718.0 1793.2L724.2 1790.0L738.7 1780.7L742.8 1776.6L753.2 1772.5L758.3 1767.3L768.7 1766.3L802.9 1798.3L805.0 1803.5L794.6 1813.9L777.0 1822.2L773.9 1828.4L757.3 1832.5L740.7 1837.7L730.4 1842.9L706.6 1834.6L703.5 1831.5Z" fill="#a9a9a9" stroke="#a9a9a9" stroke-width="1.00" stroke-linejoin="round"/><path d="M740.3 1750.8h0M740.3 1761.9h0M740.7 1845.1h0M726.5 1845.1h0M776.8 1827.2h0M765.6 1828.3h0M791.7 1816.0h0M801.0 1801.1h0M748.9 1771.3h0M761.9 1771.3h0M732.1 1793.6h0M720.9 1795.5h0M717.2 1801.1h0M706.0 1808.5h0M702.3 1830.9h0M794.2 1813.5h0M778.4 1776.5h0M784.3 1781.4h0M784.7 1783.0h0M704.0 1810.7h0M773.5 1829.9h0M761.2 1830.6h0M778.4 1773.3h0M760.1 1831.8h0M729.9 1787.1h0M713.6 1797.3h0M719.1 1839.9h0M705.7 1807.6h0M703.9 1811.6h0M723.0 1840.9h0M734.3 1841.3h0M714.6 1798.2h0M749.1 1776.2h0M715.7 1836.6h0M796.7 1791.6h0M771.5 1826.1h0M729.2 1783.3h0M745.1 1777.7h0M803.4 1805.9h0M741.1 1836.3h0M793.8 1813.6h0M727.1 1788.0h0M715.4 1838.2h0M735.6 1781.7h0M796.6 1794.9h0M781.3 1820.3h0M775.2 1772.3h0M795.6 1791.1h0M709.4 1834.3h0M803.7 1797.2h0M795.0 1814.7h0M706.4 1815.9h0M765.7 1766.8h0M706.0 1834.0h0M783.2 1779.9h0M772.3 1773.6h0M709.1 1835.5h0M720.0 1793.5h0M715.0 1838.0h0M723.7 1839.0h0M705.0 1834.7h0M716.6 1792.8h0M756.5 1768.6h0M738.2 1839.7h0M797.2 1793.4h0M706.5 1808.2h0M761.9 1832.7h0M731.3 1843.4h0M705.0 1815.7h0M737.2 1782.2h0M758.1 1767.5h0M721.7 1839.7h0M725.0 1791.8h0M765.0 1768.9h0M799.9 1798.2h0M796.9 1790.3h0M792.9 1816.0h0M715.4 1837.7h0M774.5 1829.2h0M768.8 1828.5h0M780.6 1820.6h0M748.6 1774.3h0M800.0 1797.3h0M703.6 1810.1h0M702.4 1833.7h0M700.5 1830.4h0M705.0 1842.0h0M727.0 1845.5h0M741.0 1845.0h0M773.2 1832.4h0M785.8 1828.0h0M795.6 1822.1h0M805.2 1813.0h0M808.9 1800.0h0M810.9 1808.0h0M741.0 1777.0h0M747.0 1772.0h0M758.0 1765.0h0" stroke="#a9a9a9" stroke-width="7.00" stroke-linecap="round" fill="none"/><line x1="749.6" y1="1628.9" x2="749.6" y2="1986.3" stroke="#000" stroke-width="3.00" stroke-dasharray="3 2.8"/><line x1="556.2" y1="1807.8" x2="944.5" y2="1807.8" stroke="#000" stroke-width="3.00" stroke-dasharray="3 2.8"/><path d="M768.0 1778.0L776.0 1770.0L795.0 1767.0L802.0 1760.0L807.0 1762.0L802.0 1782.0L797.0 1792.0L785.0 1796.0L767.0 1797.0Z" fill="#ff0000" stroke="#ff0000" stroke-width="2.00" stroke-linejoin="round"/><path d="M810.0 1750.0h0M815.0 1748.0h0M820.0 1750.0h0M818.0 1756.0h0M822.0 1760.0h0M812.0 1758.0h0M816.0 1764.0h0M810.0 1770.0h0M806.0 1776.0h0M812.0 1776.0h0M808.0 1785.0h0" stroke="#ff0000" stroke-width="7.20" stroke-linecap="round" fill="none"/><path d="M803.8 1764.6h0M790.9 1794.6h0M772.5 1775.9h0M799.3 1766.7h0M774.4 1777.1h0M782.4 1767.2h0M784.0 1791.6h0M775.2 1772.6h0M782.5 1777.6h0M776.8 1791.2h0M788.3 1765.8h0M785.8 1775.6h0M809.2 1759.0h0M791.3 1784.9h0M809.1 1759.6h0M762.7 1784.3h0M767.0 1772.8h0M767.4 1801.0h0M778.4 1789.7h0M784.0 1769.9h0M789.3 1785.4h0M767.1 1797.4h0M778.4 1783.1h0M776.5 1790.2h0M782.3 1773.0h0M765.8 1796.4h0M791.0 1787.9h0M765.2 1772.0h0M788.5 1766.9h0M804.4 1774.9h0M775.7 1789.3h0M777.3 1765.9h0M792.2 1778.2h0M804.0 1765.2h0M790.3 1786.0h0M801.9 1775.1h0M799.9 1763.1h0M777.4 1793.2h0M770.9 1778.7h0M761.6 1790.7h0M781.2 1793.6h0M791.9 1763.0h0M789.9 1791.0h0M803.2 1756.0h0M767.3 1789.3h0M786.5 1767.2h0M794.6 1779.0h0M792.8 1786.0h0M781.5 1769.7h0M781.4 1775.9h0M785.8 1779.2h0M803.1 1776.6h0M786.6 1786.8h0M796.4 1792.8h0M772.2 1768.0h0M808.3 1763.9h0M772.5 1765.6h0M779.5 1783.5h0M775.4 1798.0h0M795.7 1795.0h0M798.1 1757.5h0M779.5 1787.4h0M774.5 1765.6h0M798.3 1773.9h0M771.3 1799.4h0M772.1 1793.7h0M800.4 1769.6h0M786.3 1782.9h0M777.0 1777.4h0M775.4 1770.4h0M784.1 1780.0h0M793.7 1780.9h0M807.9 1773.1h0M799.1 1757.1h0M792.0 1771.3h0M784.1 1776.3h0M795.6 1783.5h0M799.4 1762.9h0M790.1 1768.4h0M785.7 1779.5h0M786.9 1765.9h0M788.4 1773.3h0M808.8 1764.2h0M810.0 1767.6h0M794.2 1770.0h0M782.8 1775.1h0M776.5 1790.5h0M772.4 1767.9h0M769.1 1787.8h0M786.1 1793.1h0M793.6 1790.4h0M763.1 1799.7h0M767.5 1787.3h0M771.8 1795.7h0M801.8 1758.9h0M768.5 1776.6h0M792.7 1784.4h0M802.0 1786.4h0M765.7 1779.9h0M794.0 1772.5h0M788.4 1772.8h0M796.4 1790.8h0M803.4 1767.2h0M781.0 1782.1h0M777.8 1779.3h0M802.1 1774.0h0M771.3 1767.5h0M769.9 1782.8h0M783.1 1768.7h0M765.2 1792.5h0M777.5 1796.5h0M773.6 1788.9h0M764.7 1783.4h0M801.5 1771.5h0M795.2 1782.9h0M781.4 1793.0h0M801.0 1761.8h0M782.4 1797.0h0M781.8 1789.5h0M768.5 1771.6h0" stroke="#ff0000" stroke-width="7.20" stroke-linecap="round" fill="none"/><path d="M882.3 1666.2h0M850.6 1694.9h0M897.2 1711.6h0M884.9 1713.5h0M865.1 1715.4h0M880.1 1722.8h0M802.9 1722.1h0M823.4 1728.4h0M829.0 1721.0h0M832.7 1722.8h0M840.9 1722.8h0M850.6 1722.8h0M855.1 1724.7h0M866.3 1726.5h0M845.8 1732.1h0M853.2 1728.4h0M862.5 1735.9h0M868.1 1735.9h0M832.7 1734.0h0M823.4 1737.7h0M836.4 1739.6h0M829.0 1739.6h0M840.2 1743.3h0M845.8 1745.2h0M849.5 1745.9h0M860.7 1745.2h0M870.0 1742.2h0M879.3 1747.0h0M868.1 1750.8h0M860.7 1752.6h0M858.8 1758.2h0M870.0 1770.1h0M844.6 1783.2h0M838.3 1780.6h0M847.6 1770.5h0M830.1 1763.8h0M830.1 1773.1h0M819.7 1785.1h0M817.8 1790.6h0M815.9 1780.6h0M810.4 1771.3h0M806.6 1760.1h0M812.2 1756.4h0M817.8 1754.5h0M812.2 1750.8h0M806.6 1750.8h0M790.6 1739.6h0M788.0 1739.6h0M802.9 1737.7h0M855.1 1739.6h0M843.2 1737.7h0M834.6 1745.2h0M827.1 1749.6h0M823.4 1756.4h0M815.9 1761.9h0M813.3 1766.8h0M819.7 1767.5h0M826.0 1758.2h0M802.9 1722.3h0M823.6 1728.5h0M829.8 1722.3h0M832.9 1720.2h0M836.0 1724.8h0M842.2 1723.3h0M836.0 1731.1h0M839.1 1734.2h0M829.8 1738.3h0M836.0 1740.4h0M842.2 1741.4h0M846.3 1744.5h0M852.5 1746.6h0M848.4 1770.4h0M830.8 1771.4h0M830.8 1776.6h0M838.1 1780.7h0M844.3 1783.3h0M819.4 1791.1h0M814.2 1782.8h0M815.3 1776.6h0M807.0 1737.3h0M791.0 1739.3h0M787.3 1739.3h0M773.9 1759.0h0M773.9 1762.1h0M767.7 1770.4h0M830.8 1761.1h0" stroke="#ff0000" stroke-width="7.20" stroke-linecap="round" fill="none"/><path d="M767.0 1791.0L771.0 1784.0L778.0 1783.0L782.0 1786.0L782.0 1794.0L776.0 1797.0L768.0 1797.0Z" fill="#00ee00" stroke="#00ee00" stroke-width="2.00" stroke-linejoin="round"/><path d="M766.6 1794.1h0M769.5 1780.8h0M772.6 1794.6h0M784.6 1791.4h0M767.5 1800.2h0M782.3 1784.6h0M771.2 1797.4h0M778.4 1788.7h0M777.1 1789.7h0M784.3 1795.0h0M772.8 1783.6h0M784.0 1789.3h0M779.2 1792.4h0M783.2 1785.5h0M775.2 1796.6h0M768.2 1793.2h0M767.9 1782.3h0M782.0 1785.3h0M765.9 1795.8h0M775.6 1797.7h0" stroke="#00ee00" stroke-width="7.20" stroke-linecap="round" fill="none"/><path d="M800.3 1783.3h0M823.8 1753.9h0M770.0 1787.0h0M774.0 1783.0h0" stroke="#00ee00" stroke-width="7.20" stroke-linecap="round" fill="none"/><path d="M706.0 1822.0L712.0 1818.0L722.0 1818.0L730.0 1822.0L728.0 1832.0L718.0 1838.0L709.0 1835.0Z" fill="#0000ff" stroke="#0000ff" stroke-width="2.00" stroke-linejoin="round"/><path d="M729.8 1822.0h0M705.2 1829.6h0M732.1 1820.8h0M732.9 1817.3h0M713.8 1835.4h0M720.0 1839.3h0M723.5 1834.3h0M713.4 1831.6h0M724.2 1836.2h0M728.5 1828.6h0M733.4 1833.6h0M713.3 1834.5h0M716.8 1822.3h0M723.2 1827.3h0M737.8 1817.7h0M729.7 1832.1h0M706.4 1818.4h0M711.0 1816.4h0M722.8 1827.2h0M730.3 1834.3h0M707.0 1829.3h0M735.9 1819.9h0M713.7 1819.8h0M732.5 1828.8h0M709.1 1821.2h0M734.0 1826.9h0M706.0 1824.1h0M730.6 1826.9h0M703.5 1820.9h0M722.1 1830.6h0M713.9 1827.5h0M727.6 1828.7h0M734.1 1824.4h0M712.7 1833.1h0M713.0 1816.6h0M733.0 1821.1h0M729.7 1827.6h0M733.4 1830.5h0M721.7 1833.5h0M734.4 1828.5h0M705.4 1833.9h0M734.2 1820.5h0M714.6 1823.2h0M716.3 1817.2h0M728.3 1831.9h0M710.1 1820.9h0M704.4 1818.4h0M728.1 1835.2h0M711.5 1816.1h0M715.5 1840.8h0M702.1 1828.2h0M734.5 1831.8h0M724.3 1818.8h0M721.5 1817.8h0M704.1 1826.9h0" stroke="#0000ff" stroke-width="7.20" stroke-linecap="round" fill="none"/><path d="M696.3 1836.9h0M704.1 1846.2h0M716.4 1848.8h0M720.9 1830.9h0M706.0 1827.2h0" stroke="#0000ff" stroke-width="7.20" stroke-linecap="round" fill="none"/><path d="M734.5 1824.3h0M728.2 1823.2h0M736.1 1823.2h0M733.0 1819.7h0M738.2 1821.5h0M734.2 1818.4h0M734.7 1821.1h0M728.4 1818.7h0M726.9 1816.2h0M737.3 1819.3h0M732.0 1819.5h0M735.4 1824.7h0M728.3 1823.2h0M724.2 1826.4h0M730.4 1824.7h0M721.2 1821.1h0" stroke="#9b30ee" stroke-width="7.20" stroke-linecap="round" fill="none"/><path d="M712.4 1828.9h0M719.5 1828.9h0M725.4 1835.1h0" stroke="#9b30ee" stroke-width="7.20" stroke-linecap="round" fill="none"/></g><rect x="556.2" y="1628.9" width="388.3" height="357.4" fill="none" stroke="#000" stroke-width="3.60"/><line x1="548.7" y1="1909.8" x2="556.2" y2="1909.8" stroke="#000" stroke-width="2.00"/><text x="541.7" y="1916.6" font-size="19.0" text-anchor="end" fill="#000" letter-spacing="-0.5">−10</text><line x1="548.7" y1="1807.8" x2="556.2" y2="1807.8" stroke="#000" stroke-width="2.00"/><text x="541.7" y="1814.6" font-size="19.0" text-anchor="end" fill="#000" letter-spacing="-0.5">0</text><line x1="548.7" y1="1705.8" x2="556.2" y2="1705.8" stroke="#000" stroke-width="2.00"/><text x="541.7" y="1712.6" font-size="19.0" text-anchor="end" fill="#000" letter-spacing="-0.5">10</text><line x1="605.6" y1="1986.3" x2="605.6" y2="1993.8" stroke="#000" stroke-width="2.00"/><text x="605.6" y="2011.8" font-size="19.0" text-anchor="middle" fill="#000" letter-spacing="-0.5">−10</text><line x1="677.6" y1="1986.3" x2="677.6" y2="1993.8" stroke="#000" stroke-width="2.00"/><text x="677.6" y="2011.8" font-size="19.0" text-anchor="middle" fill="#000" letter-spacing="-0.5">−5</text><line x1="749.6" y1="1986.3" x2="749.6" y2="1993.8" stroke="#000" stroke-width="2.00"/><text x="749.6" y="2011.8" font-size="19.0" text-anchor="middle" fill="#000" letter-spacing="-0.5">0</text><line x1="821.6" y1="1986.3" x2="821.6" y2="1993.8" stroke="#000" stroke-width="2.00"/><text x="821.6" y="2011.8" font-size="19.0" text-anchor="middle" fill="#000" letter-spacing="-0.5">5</text><line x1="893.6" y1="1986.3" x2="893.6" y2="1993.8" stroke="#000" stroke-width="2.00"/><text x="893.6" y="2011.8" font-size="19.0" text-anchor="middle" fill="#000" letter-spacing="-0.5">10</text><text x="617.3" y="1650.0" font-size="15.0" fill="#000" letter-spacing="-0.9">p=4.66e–10</text><text x="617.3" y="1670.0" font-size="15.0" fill="#000" letter-spacing="-0.9">Odds ratio= 4.18</text><text x="0.0" y="0.0" font-size="19.0" text-anchor="middle" fill="#000" letter-spacing="-0.3" transform="translate(501.5,1810.4) rotate(-90)">Repeat2: log(FC)</text><text x="747.0" y="2037.8" font-size="19.0" text-anchor="middle" fill="#000" letter-spacing="-0.3">Repeat1: log(FC)</text><circle cx="962.0" cy="1760.8" r="3.8" fill="#ff0000" stroke="none" stroke-width="1.00"/><text x="990.4" y="1766.4" font-size="19.5" font-weight="bold" fill="#000" letter-spacing="-0.5" xml:space="preserve">Up IR (n=1094)</text><circle cx="962.0" cy="1788.0" r="3.8" fill="#0000ff" stroke="none" stroke-width="1.00"/><text x="990.4" y="1790.6" font-size="19.5" font-weight="bold" fill="#000" letter-spacing="-0.5" xml:space="preserve">Down IR (n=187)</text><circle cx="962.0" cy="1814.9" r="3.8" fill="#00ee00" stroke="none" stroke-width="1.00"/><text x="990.4" y="1816.7" font-size="19.5" font-weight="bold" fill="#000" letter-spacing="-0.5" xml:space="preserve">EV Up IR (n=29)</text><circle cx="962.0" cy="1843.2" r="3.8" fill="#9b30ee" stroke="none" stroke-width="1.00"/><text x="990.4" y="1849.5" font-size="19.5" font-weight="bold" fill="#000" letter-spacing="-0.5" xml:space="preserve">EV Down IR  (n=18)</text><circle cx="962.0" cy="1870.8" r="3.8" fill="#a9a9a9" stroke="none" stroke-width="1.00"/><text x="990.4" y="1876.4" font-size="19.5" font-weight="bold" fill="#000" letter-spacing="-0.5" xml:space="preserve">Others</text><text x="1145.0" y="1094.7" font-size="38.0" font-weight="bold" fill="#231f20">h</text><line x1="1281.6" y1="1103.3" x2="1281.6" y2="1450.4" stroke="#000" stroke-width="2.00"/><line x1="1275.2" y1="1450.4" x2="1800.4" y2="1450.4" stroke="#000" stroke-width="2.00"/><line x1="1275.1" y1="1450.4" x2="1281.6" y2="1450.4" stroke="#000" stroke-width="2.00"/><text x="1268.4" y="1454.2" font-size="10.8" font-weight="bold" text-anchor="end" fill="#000" letter-spacing="-0.55">1</text><line x1="1275.1" y1="1363.7" x2="1281.6" y2="1363.7" stroke="#000" stroke-width="2.00"/><text x="1268.4" y="1367.5" font-size="10.8" font-weight="bold" text-anchor="end" fill="#000" letter-spacing="-0.55">10</text><line x1="1275.1" y1="1276.6" x2="1281.6" y2="1276.6" stroke="#000" stroke-width="2.00"/><text x="1268.4" y="1280.4" font-size="10.8" font-weight="bold" text-anchor="end" fill="#000" letter-spacing="-0.55">100</text><line x1="1275.1" y1="1189.9" x2="1281.6" y2="1189.9" stroke="#000" stroke-width="2.00"/><text x="1268.4" y="1193.7" font-size="10.8" font-weight="bold" text-anchor="end" fill="#000" letter-spacing="-0.55">1000</text><line x1="1275.1" y1="1111.5" x2="1281.6" y2="1111.5" stroke="#000" stroke-width="2.00"/><text x="1268.4" y="1107.1" font-size="10.8" font-weight="bold" text-anchor="end" fill="#000" letter-spacing="-0.55">10000</text><line x1="1319.6" y1="1450.4" x2="1319.6" y2="1456.6" stroke="#000" stroke-width="2.00"/><line x1="1407.5" y1="1450.4" x2="1407.5" y2="1456.6" stroke="#000" stroke-width="2.00"/><line x1="1496.6" y1="1450.4" x2="1496.6" y2="1456.6" stroke="#000" stroke-width="2.00"/><line x1="1585.0" y1="1450.4" x2="1585.0" y2="1456.6" stroke="#000" stroke-width="2.00"/><line x1="1673.2" y1="1450.4" x2="1673.2" y2="1456.6" stroke="#000" stroke-width="2.00"/><line x1="1761.8" y1="1450.4" x2="1761.8" y2="1456.6" stroke="#000" stroke-width="2.00"/><rect x="1294.8" y="1348.4" width="17.5" height="102.0" fill="#808080" stroke="#000" stroke-width="2.00"/><line x1="1303.6" y1="1341.5" x2="1303.6" y2="1356.8" stroke="#000" stroke-width="2.00"/><line x1="1298.6" y1="1341.5" x2="1308.6" y2="1341.5" stroke="#000" stroke-width="2.00"/><line x1="1298.6" y1="1356.8" x2="1308.6" y2="1356.8" stroke="#000" stroke-width="2.00"/><circle cx="1303.6" cy="1341.5" r="2.6" fill="#fff" stroke="#000" stroke-width="1.90"/><circle cx="1303.6" cy="1353.8" r="2.6" fill="#fff" stroke="#000" stroke-width="1.90"/><circle cx="1303.6" cy="1351.0" r="2.6" fill="#fff" stroke="#000" stroke-width="1.90"/><rect x="1327.9" y="1188.2" width="17.5" height="262.2" fill="#ff94bf" stroke="#f0407f" stroke-width="2.00"/><line x1="1336.7" y1="1177.2" x2="1336.7" y2="1200.7" stroke="#f0407f" stroke-width="2.00"/><line x1="1331.7" y1="1177.2" x2="1341.7" y2="1177.2" stroke="#f0407f" stroke-width="2.00"/><line x1="1331.7" y1="1200.7" x2="1341.7" y2="1200.7" stroke="#f0407f" stroke-width="2.00"/><circle cx="1336.7" cy="1177.2" r="2.6" fill="#fff" stroke="#f0407f" stroke-width="1.90"/><circle cx="1336.7" cy="1191.8" r="2.6" fill="#fff" stroke="#f0407f" stroke-width="1.90"/><circle cx="1336.7" cy="1199.3" r="2.6" fill="#fff" stroke="#f0407f" stroke-width="1.90"/><rect x="1382.8" y="1384.2" width="17.5" height="66.2" fill="#808080" stroke="#000" stroke-width="2.00"/><line x1="1391.5" y1="1370.7" x2="1391.5" y2="1401.1" stroke="#000" stroke-width="2.00"/><line x1="1386.5" y1="1370.7" x2="1396.5" y2="1370.7" stroke="#000" stroke-width="2.00"/><line x1="1386.5" y1="1401.1" x2="1396.5" y2="1401.1" stroke="#000" stroke-width="2.00"/><circle cx="1388.5" cy="1373.1" r="2.6" fill="#fff" stroke="#000" stroke-width="1.90"/><circle cx="1394.5" cy="1373.1" r="2.6" fill="#fff" stroke="#000" stroke-width="1.90"/><circle cx="1391.5" cy="1405.4" r="2.6" fill="#fff" stroke="#000" stroke-width="1.90"/><rect x="1415.8" y="1217.5" width="17.5" height="232.9" fill="#ff94bf" stroke="#f0407f" stroke-width="2.00"/><line x1="1424.6" y1="1198.3" x2="1424.6" y2="1248.7" stroke="#f0407f" stroke-width="2.00"/><line x1="1419.6" y1="1198.3" x2="1429.6" y2="1198.3" stroke="#f0407f" stroke-width="2.00"/><line x1="1419.6" y1="1248.7" x2="1429.6" y2="1248.7" stroke="#f0407f" stroke-width="2.00"/><circle cx="1424.6" cy="1198.8" r="2.6" fill="#fff" stroke="#f0407f" stroke-width="1.90"/><circle cx="1424.6" cy="1221.7" r="2.6" fill="#fff" stroke="#f0407f" stroke-width="1.90"/><circle cx="1424.6" cy="1245.2" r="2.6" fill="#fff" stroke="#f0407f" stroke-width="1.90"/><rect x="1471.8" y="1327.6" width="17.5" height="122.8" fill="#808080" stroke="#000" stroke-width="2.00"/><line x1="1480.6" y1="1320.9" x2="1480.6" y2="1333.9" stroke="#000" stroke-width="2.00"/><line x1="1475.6" y1="1320.9" x2="1485.6" y2="1320.9" stroke="#000" stroke-width="2.00"/><line x1="1475.6" y1="1333.9" x2="1485.6" y2="1333.9" stroke="#000" stroke-width="2.00"/><circle cx="1477.6" cy="1322.1" r="2.6" fill="#fff" stroke="#000" stroke-width="1.90"/><circle cx="1483.6" cy="1324.8" r="2.6" fill="#fff" stroke="#000" stroke-width="1.90"/><circle cx="1480.6" cy="1333.9" r="2.6" fill="#fff" stroke="#000" stroke-width="1.90"/><rect x="1504.9" y="1207.9" width="17.5" height="242.5" fill="#ff94bf" stroke="#f0407f" stroke-width="2.00"/><line x1="1513.7" y1="1191.8" x2="1513.7" y2="1227.3" stroke="#f0407f" stroke-width="2.00"/><line x1="1508.7" y1="1191.8" x2="1518.7" y2="1191.8" stroke="#f0407f" stroke-width="2.00"/><line x1="1508.7" y1="1227.3" x2="1518.7" y2="1227.3" stroke="#f0407f" stroke-width="2.00"/><circle cx="1513.7" cy="1191.8" r="2.6" fill="#fff" stroke="#f0407f" stroke-width="1.90"/><circle cx="1513.7" cy="1213.8" r="2.6" fill="#fff" stroke="#f0407f" stroke-width="1.90"/><circle cx="1513.7" cy="1221.7" r="2.6" fill="#fff" stroke="#f0407f" stroke-width="1.90"/><rect x="1560.2" y="1282.7" width="17.5" height="167.7" fill="#808080" stroke="#000" stroke-width="2.00"/><line x1="1569.0" y1="1273.0" x2="1569.0" y2="1292.9" stroke="#000" stroke-width="2.00"/><line x1="1564.0" y1="1273.0" x2="1574.0" y2="1273.0" stroke="#000" stroke-width="2.00"/><line x1="1564.0" y1="1292.9" x2="1574.0" y2="1292.9" stroke="#000" stroke-width="2.00"/><circle cx="1569.0" cy="1273.0" r="2.6" fill="#fff" stroke="#000" stroke-width="1.90"/><circle cx="1569.0" cy="1285.0" r="2.6" fill="#fff" stroke="#000" stroke-width="1.90"/><circle cx="1569.0" cy="1291.2" r="2.6" fill="#fff" stroke="#000" stroke-width="1.90"/><rect x="1593.3" y="1206.7" width="17.5" height="243.7" fill="#ff94bf" stroke="#f0407f" stroke-width="2.00"/><line x1="1602.1" y1="1190.7" x2="1602.1" y2="1229.4" stroke="#f0407f" stroke-width="2.00"/><line x1="1597.1" y1="1190.7" x2="1607.1" y2="1190.7" stroke="#f0407f" stroke-width="2.00"/><line x1="1597.1" y1="1229.4" x2="1607.1" y2="1229.4" stroke="#f0407f" stroke-width="2.00"/><circle cx="1602.1" cy="1190.7" r="2.6" fill="#fff" stroke="#f0407f" stroke-width="1.90"/><circle cx="1602.1" cy="1203.3" r="2.6" fill="#fff" stroke="#f0407f" stroke-width="1.90"/><circle cx="1602.1" cy="1229.4" r="2.6" fill="#fff" stroke="#f0407f" stroke-width="1.90"/><rect x="1648.5" y="1389.8" width="17.5" height="60.6" fill="#808080" stroke="#000" stroke-width="2.00"/><line x1="1657.2" y1="1369.8" x2="1657.2" y2="1419.0" stroke="#000" stroke-width="2.00"/><line x1="1652.2" y1="1369.8" x2="1662.2" y2="1369.8" stroke="#000" stroke-width="2.00"/><line x1="1652.2" y1="1419.0" x2="1662.2" y2="1419.0" stroke="#000" stroke-width="2.00"/><circle cx="1657.2" cy="1369.4" r="2.6" fill="#fff" stroke="#000" stroke-width="1.90"/><circle cx="1654.2" cy="1405.4" r="2.6" fill="#fff" stroke="#000" stroke-width="1.90"/><circle cx="1660.2" cy="1404.3" r="2.6" fill="#fff" stroke="#000" stroke-width="1.90"/><rect x="1681.5" y="1240.6" width="17.5" height="209.8" fill="#ff94bf" stroke="#f0407f" stroke-width="2.00"/><line x1="1690.3" y1="1221.7" x2="1690.3" y2="1273.0" stroke="#f0407f" stroke-width="2.00"/><line x1="1685.3" y1="1221.7" x2="1695.3" y2="1221.7" stroke="#f0407f" stroke-width="2.00"/><line x1="1685.3" y1="1273.0" x2="1695.3" y2="1273.0" stroke="#f0407f" stroke-width="2.00"/><circle cx="1690.3" cy="1221.7" r="2.6" fill="#fff" stroke="#f0407f" stroke-width="1.90"/><circle cx="1690.3" cy="1245.2" r="2.6" fill="#fff" stroke="#f0407f" stroke-width="1.90"/><circle cx="1690.3" cy="1266.7" r="2.6" fill="#fff" stroke="#f0407f" stroke-width="1.90"/><rect x="1737.0" y="1341.5" width="17.5" height="108.9" fill="#808080" stroke="#000" stroke-width="2.00"/><line x1="1745.8" y1="1335.6" x2="1745.8" y2="1347.1" stroke="#000" stroke-width="2.00"/><line x1="1740.8" y1="1335.6" x2="1750.8" y2="1335.6" stroke="#000" stroke-width="2.00"/><line x1="1740.8" y1="1347.1" x2="1750.8" y2="1347.1" stroke="#000" stroke-width="2.00"/><circle cx="1745.8" cy="1335.6" r="2.6" fill="#fff" stroke="#000" stroke-width="1.90"/><circle cx="1742.8" cy="1343.6" r="2.6" fill="#fff" stroke="#000" stroke-width="1.90"/><circle cx="1748.8" cy="1343.6" r="2.6" fill="#fff" stroke="#000" stroke-width="1.90"/><rect x="1770.1" y="1207.9" width="17.5" height="242.5" fill="#ff94bf" stroke="#f0407f" stroke-width="2.00"/><line x1="1778.9" y1="1197.4" x2="1778.9" y2="1217.5" stroke="#f0407f" stroke-width="2.00"/><line x1="1773.9" y1="1197.4" x2="1783.9" y2="1197.4" stroke="#f0407f" stroke-width="2.00"/><line x1="1773.9" y1="1217.5" x2="1783.9" y2="1217.5" stroke="#f0407f" stroke-width="2.00"/><circle cx="1778.9" cy="1197.4" r="2.6" fill="#fff" stroke="#f0407f" stroke-width="1.90"/><circle cx="1778.9" cy="1207.9" r="2.6" fill="#fff" stroke="#f0407f" stroke-width="1.90"/><circle cx="1778.9" cy="1214.5" r="2.6" fill="#fff" stroke="#f0407f" stroke-width="1.90"/><path d="M1303.0 1166.4V1160.6H1336.8V1166.4" fill="none" stroke="#000" stroke-width="2.10"/><text x="1319.9" y="1149.7" font-size="10.8" text-anchor="middle" fill="#000" letter-spacing="-0.25">0.006338</text><path d="M1391.5 1186.8V1181.0H1425.0V1186.8" fill="none" stroke="#000" stroke-width="2.10"/><text x="1408.2" y="1171.5" font-size="10.8" text-anchor="middle" fill="#000" letter-spacing="-0.25">0.04337</text><path d="M1480.0 1181.1V1175.3H1513.5V1181.1" fill="none" stroke="#000" stroke-width="2.10"/><text x="1496.8" y="1165.0" font-size="10.8" text-anchor="middle" fill="#000" letter-spacing="-0.25">0.01888</text><path d="M1568.0 1182.0V1176.2H1602.0V1182.0" fill="none" stroke="#000" stroke-width="2.10"/><text x="1585.0" y="1165.0" font-size="10.8" text-anchor="middle" fill="#000" letter-spacing="-0.25">0.03116</text><path d="M1656.7 1206.5V1200.7H1689.7V1206.5" fill="none" stroke="#000" stroke-width="2.10"/><text x="1673.2" y="1189.0" font-size="10.8" text-anchor="middle" fill="#000" letter-spacing="-0.25">0.04715</text><path d="M1745.0 1186.3V1180.5H1779.0V1186.3" fill="none" stroke="#000" stroke-width="2.10"/><text x="1762.0" y="1170.0" font-size="10.8" text-anchor="middle" fill="#000" letter-spacing="-0.25">0.003835</text><text x="0.0" y="0.0" font-size="15.2" font-weight="bold" text-anchor="middle" fill="#000" transform="translate(1221.0,1278.5) rotate(-90)">Relative enrichment (FC)</text><text x="0.0" y="0.0" font-size="14.6" font-weight="bold" text-anchor="end" fill="#000" transform="translate(1332.7,1471.3) rotate(-45)">repeat1</text><text x="0.0" y="0.0" font-size="14.6" font-weight="bold" text-anchor="end" fill="#000" transform="translate(1420.6,1471.3) rotate(-45)">repeat2</text><text x="0.0" y="0.0" font-size="14.6" font-weight="bold" text-anchor="end" fill="#000" transform="translate(1509.7,1471.3) rotate(-45)">repeat1</text><text x="0.0" y="0.0" font-size="14.6" font-weight="bold" text-anchor="end" fill="#000" transform="translate(1598.1,1471.3) rotate(-45)">repeat2</text><text x="0.0" y="0.0" font-size="14.6" font-weight="bold" text-anchor="end" fill="#000" transform="translate(1686.3,1471.3) rotate(-45)">repeat1</text><text x="0.0" y="0.0" font-size="14.6" font-weight="bold" text-anchor="end" fill="#000" transform="translate(1774.9,1471.3) rotate(-45)">repeat2</text><line x1="1280.4" y1="1513.1" x2="1422.6" y2="1513.1" stroke="#000" stroke-width="1.80"/><text x="1282.3" y="1532.5" font-size="14.8" font-weight="bold" fill="#000">AluJb-AluSz (EV IR)</text><line x1="1460.3" y1="1513.1" x2="1600.7" y2="1513.1" stroke="#000" stroke-width="1.80"/><text x="1461.0" y="1532.5" font-size="14.8" font-weight="bold" fill="#000">AluSp-AluSp (EV IR)</text><line x1="1633.0" y1="1513.1" x2="1782.0" y2="1513.1" stroke="#000" stroke-width="1.80"/><text x="1636.0" y="1532.5" font-size="14.8" font-weight="bold" fill="#000">AluSz-AluSx1 (EV IR)</text><circle cx="1794.5" cy="1121.4" r="3.2" fill="#fff" stroke="#000" stroke-width="4.30"/><circle cx="1793.8" cy="1158.0" r="3.2" fill="#fff" stroke="#ff2d7a" stroke-width="4.30"/><text x="1817.5" y="1128.2" font-size="18.5" fill="#000">UNC2400 J2</text><text x="1817.5" y="1164.8" font-size="18.5" fill="#000">UNC1999 J2</text><text x="1145.5" y="1577.7" font-size="38.0" font-weight="bold" fill="#231f20">i</text><line x1="1284.6" y1="1599.2" x2="1284.6" y2="1940.1" stroke="#000" stroke-width="2.00"/><line x1="1278.9" y1="1940.1" x2="1795.7" y2="1940.1" stroke="#000" stroke-width="2.00"/><line x1="1278.1" y1="1940.1" x2="1284.6" y2="1940.1" stroke="#000" stroke-width="2.00"/><text x="1271.4" y="1943.9" font-size="10.8" font-weight="bold" text-anchor="end" fill="#000" letter-spacing="-0.55">1</text><line x1="1278.1" y1="1854.7" x2="1284.6" y2="1854.7" stroke="#000" stroke-width="2.00"/><text x="1271.4" y="1858.5" font-size="10.8" font-weight="bold" text-anchor="end" fill="#000" letter-spacing="-0.55">10</text><line x1="1278.1" y1="1769.8" x2="1284.6" y2="1769.8" stroke="#000" stroke-width="2.00"/><text x="1271.4" y="1773.6" font-size="10.8" font-weight="bold" text-anchor="end" fill="#000" letter-spacing="-0.55">100</text><line x1="1278.1" y1="1684.7" x2="1284.6" y2="1684.7" stroke="#000" stroke-width="2.00"/><text x="1271.4" y="1688.5" font-size="10.8" font-weight="bold" text-anchor="end" fill="#000" letter-spacing="-0.55">1000</text><line x1="1278.1" y1="1599.5" x2="1284.6" y2="1599.5" stroke="#000" stroke-width="2.00"/><text x="1271.4" y="1603.3" font-size="10.8" font-weight="bold" text-anchor="end" fill="#000" letter-spacing="-0.55">10000</text><line x1="1313.1" y1="1940.1" x2="1313.1" y2="1946.3" stroke="#000" stroke-width="2.00"/><line x1="1377.9" y1="1940.1" x2="1377.9" y2="1946.3" stroke="#000" stroke-width="2.00"/><line x1="1442.4" y1="1940.1" x2="1442.4" y2="1946.3" stroke="#000" stroke-width="2.00"/><line x1="1507.4" y1="1940.1" x2="1507.4" y2="1946.3" stroke="#000" stroke-width="2.00"/><line x1="1572.4" y1="1940.1" x2="1572.4" y2="1946.3" stroke="#000" stroke-width="2.00"/><line x1="1637.0" y1="1940.1" x2="1637.0" y2="1946.3" stroke="#000" stroke-width="2.00"/><line x1="1702.0" y1="1940.1" x2="1702.0" y2="1946.3" stroke="#000" stroke-width="2.00"/><line x1="1766.5" y1="1940.1" x2="1766.5" y2="1946.3" stroke="#000" stroke-width="2.00"/><rect x="1294.0" y="1809.6" width="13.5" height="130.5" fill="#808080" stroke="#000" stroke-width="2.00"/><line x1="1300.8" y1="1793.9" x2="1300.8" y2="1839.7" stroke="#000" stroke-width="2.00"/><line x1="1295.8" y1="1793.9" x2="1305.8" y2="1793.9" stroke="#000" stroke-width="2.00"/><line x1="1295.8" y1="1839.7" x2="1305.8" y2="1839.7" stroke="#000" stroke-width="2.00"/><circle cx="1300.8" cy="1793.9" r="2.6" fill="#fff" stroke="#000" stroke-width="1.90"/><circle cx="1300.8" cy="1809.6" r="2.6" fill="#fff" stroke="#000" stroke-width="1.90"/><circle cx="1300.8" cy="1835.1" r="2.6" fill="#fff" stroke="#000" stroke-width="1.90"/><rect x="1318.1" y="1697.9" width="13.5" height="242.2" fill="#ff94bf" stroke="#f0407f" stroke-width="2.00"/><line x1="1324.9" y1="1686.6" x2="1324.9" y2="1711.8" stroke="#f0407f" stroke-width="2.00"/><line x1="1319.9" y1="1686.6" x2="1329.9" y2="1686.6" stroke="#f0407f" stroke-width="2.00"/><line x1="1319.9" y1="1711.8" x2="1329.9" y2="1711.8" stroke="#f0407f" stroke-width="2.00"/><circle cx="1324.9" cy="1686.6" r="2.6" fill="#fff" stroke="#f0407f" stroke-width="1.90"/><circle cx="1324.9" cy="1692.9" r="2.6" fill="#fff" stroke="#f0407f" stroke-width="1.90"/><circle cx="1324.9" cy="1714.2" r="2.6" fill="#fff" stroke="#f0407f" stroke-width="1.90"/><rect x="1358.9" y="1820.9" width="13.5" height="119.2" fill="#808080" stroke="#000" stroke-width="2.00"/><line x1="1365.6" y1="1810.7" x2="1365.6" y2="1833.0" stroke="#000" stroke-width="2.00"/><line x1="1360.6" y1="1810.7" x2="1370.6" y2="1810.7" stroke="#000" stroke-width="2.00"/><line x1="1360.6" y1="1833.0" x2="1370.6" y2="1833.0" stroke="#000" stroke-width="2.00"/><circle cx="1365.6" cy="1810.7" r="2.6" fill="#fff" stroke="#000" stroke-width="1.90"/><circle cx="1365.6" cy="1820.9" r="2.6" fill="#fff" stroke="#000" stroke-width="1.90"/><circle cx="1365.6" cy="1833.0" r="2.6" fill="#fff" stroke="#000" stroke-width="1.90"/><rect x="1383.0" y="1695.3" width="13.5" height="244.8" fill="#ff94bf" stroke="#f0407f" stroke-width="2.00"/><line x1="1389.7" y1="1678.0" x2="1389.7" y2="1726.8" stroke="#f0407f" stroke-width="2.00"/><line x1="1384.7" y1="1678.0" x2="1394.7" y2="1678.0" stroke="#f0407f" stroke-width="2.00"/><line x1="1384.7" y1="1726.8" x2="1394.7" y2="1726.8" stroke="#f0407f" stroke-width="2.00"/><circle cx="1389.7" cy="1678.0" r="2.6" fill="#fff" stroke="#f0407f" stroke-width="1.90"/><circle cx="1389.7" cy="1692.0" r="2.6" fill="#fff" stroke="#f0407f" stroke-width="1.90"/><circle cx="1389.7" cy="1729.2" r="2.6" fill="#fff" stroke="#f0407f" stroke-width="1.90"/><rect x="1423.4" y="1769.8" width="13.5" height="170.3" fill="#808080" stroke="#000" stroke-width="2.00"/><line x1="1430.1" y1="1754.8" x2="1430.1" y2="1788.6" stroke="#000" stroke-width="2.00"/><line x1="1425.1" y1="1754.8" x2="1435.1" y2="1754.8" stroke="#000" stroke-width="2.00"/><line x1="1425.1" y1="1788.6" x2="1435.1" y2="1788.6" stroke="#000" stroke-width="2.00"/><circle cx="1426.1" cy="1757.4" r="2.6" fill="#fff" stroke="#000" stroke-width="1.90"/><circle cx="1434.1" cy="1758.7" r="2.6" fill="#fff" stroke="#000" stroke-width="1.90"/><circle cx="1430.1" cy="1791.8" r="2.6" fill="#fff" stroke="#000" stroke-width="1.90"/><rect x="1447.5" y="1630.7" width="13.5" height="309.4" fill="#ff94bf" stroke="#f0407f" stroke-width="2.00"/><line x1="1454.2" y1="1612.7" x2="1454.2" y2="1663.0" stroke="#f0407f" stroke-width="2.00"/><line x1="1449.2" y1="1612.7" x2="1459.2" y2="1612.7" stroke="#f0407f" stroke-width="2.00"/><line x1="1449.2" y1="1663.0" x2="1459.2" y2="1663.0" stroke="#f0407f" stroke-width="2.00"/><circle cx="1454.2" cy="1612.7" r="2.6" fill="#fff" stroke="#f0407f" stroke-width="1.90"/><circle cx="1454.2" cy="1623.7" r="2.6" fill="#fff" stroke="#f0407f" stroke-width="1.90"/><circle cx="1454.2" cy="1669.7" r="2.6" fill="#fff" stroke="#f0407f" stroke-width="1.90"/><rect x="1488.4" y="1784.0" width="13.5" height="156.1" fill="#808080" stroke="#000" stroke-width="2.00"/><line x1="1495.1" y1="1764.6" x2="1495.1" y2="1811.8" stroke="#000" stroke-width="2.00"/><line x1="1490.1" y1="1764.6" x2="1500.1" y2="1764.6" stroke="#000" stroke-width="2.00"/><line x1="1490.1" y1="1811.8" x2="1500.1" y2="1811.8" stroke="#000" stroke-width="2.00"/><circle cx="1495.1" cy="1764.6" r="2.6" fill="#fff" stroke="#000" stroke-width="1.90"/><circle cx="1495.1" cy="1788.6" r="2.6" fill="#fff" stroke="#000" stroke-width="1.90"/><circle cx="1495.1" cy="1799.2" r="2.6" fill="#fff" stroke="#000" stroke-width="1.90"/><rect x="1512.5" y="1653.9" width="13.5" height="286.2" fill="#ff94bf" stroke="#f0407f" stroke-width="2.00"/><line x1="1519.2" y1="1647.9" x2="1519.2" y2="1659.1" stroke="#f0407f" stroke-width="2.00"/><line x1="1514.2" y1="1647.9" x2="1524.2" y2="1647.9" stroke="#f0407f" stroke-width="2.00"/><line x1="1514.2" y1="1659.1" x2="1524.2" y2="1659.1" stroke="#f0407f" stroke-width="2.00"/><circle cx="1519.2" cy="1647.9" r="2.6" fill="#fff" stroke="#f0407f" stroke-width="1.90"/><circle cx="1519.2" cy="1653.9" r="2.6" fill="#fff" stroke="#f0407f" stroke-width="1.90"/><circle cx="1519.2" cy="1659.1" r="2.6" fill="#fff" stroke="#f0407f" stroke-width="1.90"/><rect x="1553.4" y="1803.6" width="13.5" height="136.5" fill="#808080" stroke="#000" stroke-width="2.00"/><line x1="1560.1" y1="1789.9" x2="1560.1" y2="1820.9" stroke="#000" stroke-width="2.00"/><line x1="1555.1" y1="1789.9" x2="1565.1" y2="1789.9" stroke="#000" stroke-width="2.00"/><line x1="1555.1" y1="1820.9" x2="1565.1" y2="1820.9" stroke="#000" stroke-width="2.00"/><circle cx="1560.1" cy="1789.9" r="2.6" fill="#fff" stroke="#000" stroke-width="1.90"/><circle cx="1560.1" cy="1805.5" r="2.6" fill="#fff" stroke="#000" stroke-width="1.90"/><circle cx="1560.1" cy="1820.9" r="2.6" fill="#fff" stroke="#000" stroke-width="1.90"/><rect x="1577.5" y="1634.3" width="13.5" height="305.8" fill="#ff94bf" stroke="#f0407f" stroke-width="2.00"/><line x1="1584.2" y1="1613.2" x2="1584.2" y2="1667.3" stroke="#f0407f" stroke-width="2.00"/><line x1="1579.2" y1="1613.2" x2="1589.2" y2="1613.2" stroke="#f0407f" stroke-width="2.00"/><line x1="1579.2" y1="1667.3" x2="1589.2" y2="1667.3" stroke="#f0407f" stroke-width="2.00"/><circle cx="1584.2" cy="1613.2" r="2.6" fill="#fff" stroke="#f0407f" stroke-width="1.90"/><circle cx="1584.2" cy="1641.7" r="2.6" fill="#fff" stroke="#f0407f" stroke-width="1.90"/><circle cx="1584.2" cy="1659.1" r="2.6" fill="#fff" stroke="#f0407f" stroke-width="1.90"/><rect x="1618.0" y="1804.5" width="13.5" height="135.6" fill="#808080" stroke="#000" stroke-width="2.00"/><line x1="1624.7" y1="1798.4" x2="1624.7" y2="1811.8" stroke="#000" stroke-width="2.00"/><line x1="1619.7" y1="1798.4" x2="1629.7" y2="1798.4" stroke="#000" stroke-width="2.00"/><line x1="1619.7" y1="1811.8" x2="1629.7" y2="1811.8" stroke="#000" stroke-width="2.00"/><circle cx="1620.7" cy="1798.4" r="2.6" fill="#fff" stroke="#000" stroke-width="1.90"/><circle cx="1628.7" cy="1799.2" r="2.6" fill="#fff" stroke="#000" stroke-width="1.90"/><circle cx="1624.7" cy="1811.8" r="2.6" fill="#fff" stroke="#000" stroke-width="1.90"/><rect x="1642.0" y="1652.3" width="13.5" height="287.8" fill="#ff94bf" stroke="#f0407f" stroke-width="2.00"/><line x1="1648.8" y1="1636.3" x2="1648.8" y2="1675.0" stroke="#f0407f" stroke-width="2.00"/><line x1="1643.8" y1="1636.3" x2="1653.8" y2="1636.3" stroke="#f0407f" stroke-width="2.00"/><line x1="1643.8" y1="1675.0" x2="1653.8" y2="1675.0" stroke="#f0407f" stroke-width="2.00"/><circle cx="1648.8" cy="1636.3" r="2.6" fill="#fff" stroke="#f0407f" stroke-width="1.90"/><circle cx="1648.8" cy="1652.3" r="2.6" fill="#fff" stroke="#f0407f" stroke-width="1.90"/><circle cx="1648.8" cy="1675.0" r="2.6" fill="#fff" stroke="#f0407f" stroke-width="1.90"/><rect x="1683.0" y="1813.0" width="13.5" height="127.1" fill="#808080" stroke="#000" stroke-width="2.00"/><line x1="1689.7" y1="1801.8" x2="1689.7" y2="1825.6" stroke="#000" stroke-width="2.00"/><line x1="1684.7" y1="1801.8" x2="1694.7" y2="1801.8" stroke="#000" stroke-width="2.00"/><line x1="1684.7" y1="1825.6" x2="1694.7" y2="1825.6" stroke="#000" stroke-width="2.00"/><circle cx="1689.7" cy="1801.8" r="2.6" fill="#fff" stroke="#000" stroke-width="1.90"/><circle cx="1689.7" cy="1808.5" r="2.6" fill="#fff" stroke="#000" stroke-width="1.90"/><circle cx="1689.7" cy="1825.6" r="2.6" fill="#fff" stroke="#000" stroke-width="1.90"/><rect x="1707.0" y="1638.3" width="13.5" height="301.8" fill="#ff94bf" stroke="#f0407f" stroke-width="2.00"/><line x1="1713.8" y1="1619.0" x2="1713.8" y2="1665.1" stroke="#f0407f" stroke-width="2.00"/><line x1="1708.8" y1="1619.0" x2="1718.8" y2="1619.0" stroke="#f0407f" stroke-width="2.00"/><line x1="1708.8" y1="1665.1" x2="1718.8" y2="1665.1" stroke="#f0407f" stroke-width="2.00"/><circle cx="1713.8" cy="1619.0" r="2.6" fill="#fff" stroke="#f0407f" stroke-width="1.90"/><circle cx="1713.8" cy="1640.5" r="2.6" fill="#fff" stroke="#f0407f" stroke-width="1.90"/><circle cx="1713.8" cy="1659.1" r="2.6" fill="#fff" stroke="#f0407f" stroke-width="1.90"/><rect x="1747.5" y="1829.1" width="13.5" height="111.0" fill="#808080" stroke="#000" stroke-width="2.00"/><line x1="1754.2" y1="1816.7" x2="1754.2" y2="1843.6" stroke="#000" stroke-width="2.00"/><line x1="1749.2" y1="1816.7" x2="1759.2" y2="1816.7" stroke="#000" stroke-width="2.00"/><line x1="1749.2" y1="1843.6" x2="1759.2" y2="1843.6" stroke="#000" stroke-width="2.00"/><circle cx="1754.2" cy="1816.7" r="2.6" fill="#fff" stroke="#000" stroke-width="1.90"/><circle cx="1754.2" cy="1833.0" r="2.6" fill="#fff" stroke="#000" stroke-width="1.90"/><circle cx="1754.2" cy="1839.7" r="2.6" fill="#fff" stroke="#000" stroke-width="1.90"/><rect x="1771.5" y="1856.6" width="13.5" height="83.5" fill="#ff94bf" stroke="#f0407f" stroke-width="2.00"/><line x1="1778.3" y1="1843.6" x2="1778.3" y2="1880.4" stroke="#f0407f" stroke-width="2.00"/><line x1="1773.3" y1="1843.6" x2="1783.3" y2="1843.6" stroke="#f0407f" stroke-width="2.00"/><line x1="1773.3" y1="1880.4" x2="1783.3" y2="1880.4" stroke="#f0407f" stroke-width="2.00"/><circle cx="1778.3" cy="1843.6" r="2.6" fill="#fff" stroke="#f0407f" stroke-width="1.90"/><circle cx="1778.3" cy="1851.2" r="2.6" fill="#fff" stroke="#f0407f" stroke-width="1.90"/><circle cx="1778.3" cy="1879.0" r="2.6" fill="#fff" stroke="#f0407f" stroke-width="1.90"/><path d="M1301.5 1677.7V1671.9H1325.4V1677.7" fill="none" stroke="#000" stroke-width="2.10"/><text x="1313.5" y="1657.2" font-size="10.8" text-anchor="middle" fill="#000" letter-spacing="-0.25">0.01181</text><path d="M1366.0 1671.1V1665.3H1391.0V1671.1" fill="none" stroke="#000" stroke-width="2.10"/><text x="1378.5" y="1657.2" font-size="10.8" text-anchor="middle" fill="#000" letter-spacing="-0.25">0.04982</text><path d="M1431.0 1605.1V1599.3H1455.6V1605.1" fill="none" stroke="#000" stroke-width="2.10"/><text x="1443.3" y="1590.9" font-size="10.8" text-anchor="middle" fill="#000" letter-spacing="-0.25">0.04978</text><path d="M1495.6 1638.6V1632.8H1520.6V1638.6" fill="none" stroke="#000" stroke-width="2.10"/><text x="1508.1" y="1624.8" font-size="10.8" text-anchor="middle" fill="#000" letter-spacing="-0.25">0.001003</text><path d="M1560.0 1606.1V1600.3H1585.0V1606.1" fill="none" stroke="#000" stroke-width="2.10"/><text x="1572.5" y="1590.9" font-size="10.8" text-anchor="middle" fill="#000" letter-spacing="-0.25">0.04822</text><path d="M1625.0 1628.2V1622.4H1650.0V1628.2" fill="none" stroke="#000" stroke-width="2.10"/><text x="1637.5" y="1611.6" font-size="10.8" text-anchor="middle" fill="#000" letter-spacing="-0.25">0.02862</text><path d="M1689.7 1609.4V1603.6H1714.7V1609.4" fill="none" stroke="#000" stroke-width="2.10"/><text x="1702.2" y="1594.0" font-size="10.8" text-anchor="middle" fill="#000" letter-spacing="-0.25">0.03334</text><path d="M1754.7 1801.6V1795.8H1779.7V1801.6" fill="none" stroke="#000" stroke-width="2.10"/><text x="1767.2" y="1785.9" font-size="10.8" text-anchor="middle" fill="#000" letter-spacing="-0.25">0.09681</text><text x="0.0" y="0.0" font-size="15.2" font-weight="bold" text-anchor="middle" fill="#000" transform="translate(1230.5,1770.8) rotate(-90)">Relative enrichment (FC)</text><text x="0.0" y="0.0" font-size="13.9" font-weight="bold" text-anchor="end" fill="#000" transform="translate(1321.3,1964.4) rotate(-45)">repeat1</text><text x="0.0" y="0.0" font-size="13.9" font-weight="bold" text-anchor="end" fill="#000" transform="translate(1386.1,1964.4) rotate(-45)">repeat2</text><text x="0.0" y="0.0" font-size="13.9" font-weight="bold" text-anchor="end" fill="#000" transform="translate(1450.6,1964.4) rotate(-45)">repeat1</text><text x="0.0" y="0.0" font-size="13.9" font-weight="bold" text-anchor="end" fill="#000" transform="translate(1515.6,1964.4) rotate(-45)">repeat2</text><text x="0.0" y="0.0" font-size="13.9" font-weight="bold" text-anchor="end" fill="#000" transform="translate(1580.6,1964.4) rotate(-45)">repeat1</text><text x="0.0" y="0.0" font-size="13.9" font-weight="bold" text-anchor="end" fill="#000" transform="translate(1645.2,1964.4) rotate(-45)">repeat2</text><text x="0.0" y="0.0" font-size="13.9" font-weight="bold" text-anchor="end" fill="#000" transform="translate(1710.2,1964.4) rotate(-45)">repeat1</text><text x="0.0" y="0.0" font-size="13.9" font-weight="bold" text-anchor="end" fill="#000" transform="translate(1774.7,1964.4) rotate(-45)">repeat2</text><line x1="1271.2" y1="2003.8" x2="1392.0" y2="2003.8" stroke="#000" stroke-width="1.80"/><text x="1294.2" y="2021.1" font-size="14.4" font-weight="bold" fill="#000">AluSx-AluJb</text><text x="1294.2" y="2038.4" font-size="14.4" font-weight="bold" fill="#000">(Up IR)</text><line x1="1396.2" y1="2003.8" x2="1517.1" y2="2003.8" stroke="#000" stroke-width="1.80"/><text x="1424.0" y="2021.1" font-size="14.4" font-weight="bold" fill="#000">AluJb-AluSg</text><text x="1424.0" y="2038.4" font-size="14.4" font-weight="bold" fill="#000">(Up IR)</text><line x1="1522.5" y1="2003.8" x2="1651.0" y2="2003.8" stroke="#000" stroke-width="1.80"/><text x="1548.9" y="2021.1" font-size="14.4" font-weight="bold" fill="#000">AluJo-AluYm1</text><text x="1548.9" y="2038.4" font-size="14.4" font-weight="bold" fill="#000">(Up IR)</text><line x1="1663.8" y1="2003.8" x2="1792.4" y2="2003.8" stroke="#000" stroke-width="1.80"/><text x="1689.7" y="2021.1" font-size="14.4" font-weight="bold" fill="#000">AluJb-AluY</text><text x="1689.7" y="2038.4" font-size="14.4" font-weight="bold" fill="#000">(Up IR)</text><circle cx="1810.0" cy="1609.5" r="3.2" fill="#fff" stroke="#000" stroke-width="4.30"/><circle cx="1809.3" cy="1644.0" r="3.2" fill="#fff" stroke="#ff2d7a" stroke-width="4.30"/><text x="1830.0" y="1612.4" font-size="19.0" fill="#000">UNC2400 J2</text><text x="1830.0" y="1647.1" font-size="19.0" fill="#000">UNC1999 J2</text></svg></body></html>
